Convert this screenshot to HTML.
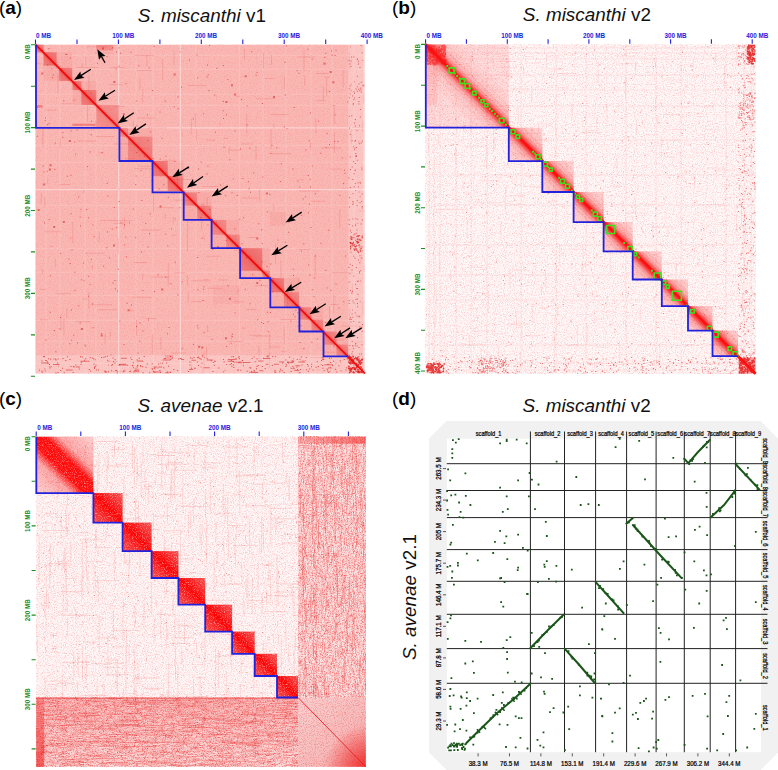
<!DOCTYPE html>
<html><head><meta charset="utf-8"><style>
html,body{margin:0;padding:0;background:#fff;width:778px;height:770px;overflow:hidden}
svg{display:block}
</style></head><body>
<svg width="778" height="770" viewBox="0 0 778 770" font-family='"Liberation Sans", sans-serif'>
<defs>
<filter id="nzA" x="0" y="0" width="1" height="1" color-interpolation-filters="sRGB">
<feTurbulence type="fractalNoise" baseFrequency="0.85" numOctaves="2" seed="3"/>
<feColorMatrix type="matrix" values="0 0 0 0 0.9  0 0 0 0 0.25  0 0 0 0 0.25  2 0 0 0 -0.9"/>
</filter>
<filter id="nzB" x="0" y="0" width="1" height="1" color-interpolation-filters="sRGB">
<feTurbulence type="fractalNoise" baseFrequency="0.9" numOctaves="2" seed="5"/>
<feColorMatrix type="matrix" values="0 0 0 0 0.95  0 0 0 0 0.25  0 0 0 0 0.25  2.2 0 0 0 -1.0"/>
</filter>
<filter id="nzV" x="0" y="0" width="1" height="1" color-interpolation-filters="sRGB">
<feTurbulence type="fractalNoise" baseFrequency="1.1 0.12" numOctaves="3" seed="8"/>
<feColorMatrix type="matrix" values="0 0 0 0 0.9  0 0 0 0 0.12  0 0 0 0 0.12  2.6 0 0 0 -1.05"/>
</filter>
<filter id="nzH" x="0" y="0" width="1" height="1" color-interpolation-filters="sRGB">
<feTurbulence type="fractalNoise" baseFrequency="0.12 1.1" numOctaves="3" seed="11"/>
<feColorMatrix type="matrix" values="0 0 0 0 0.9  0 0 0 0 0.12  0 0 0 0 0.12  2.6 0 0 0 -1.05"/>
</filter>
<filter id="wn" x="0" y="0" width="1" height="1" color-interpolation-filters="sRGB">
<feTurbulence type="fractalNoise" baseFrequency="0.9" numOctaves="2" seed="21"/>
<feColorMatrix type="matrix" values="0 0 0 0 1  0 0 0 0 0.85  0 0 0 0 0.85  3 0 0 0 -1.45"/>
<feComposite in2="SourceAlpha" operator="in"/>
</filter>
<linearGradient id="gB2" x1="1" y1="0" x2="0" y2="1"><stop offset="0" stop-color="#f43030" stop-opacity="0.1"/><stop offset="0.5" stop-color="#f43030" stop-opacity="0.38"/><stop offset="1" stop-color="#f43030" stop-opacity="0.1"/></linearGradient>
<linearGradient id="gA" x1="1" y1="0" x2="0" y2="1"><stop offset="0" stop-color="#e83030" stop-opacity="0.12"/><stop offset="0.5" stop-color="#e83030" stop-opacity="0.45"/><stop offset="1" stop-color="#e83030" stop-opacity="0.12"/></linearGradient>
<linearGradient id="gB" x1="1" y1="0" x2="0" y2="1"><stop offset="0" stop-color="#f23030" stop-opacity="0.12"/><stop offset="0.38" stop-color="#f23030" stop-opacity="0.3"/><stop offset="0.5" stop-color="#ff1010" stop-opacity="0.95"/><stop offset="0.62" stop-color="#f23030" stop-opacity="0.3"/><stop offset="1" stop-color="#f23030" stop-opacity="0.12"/></linearGradient>
<linearGradient id="gC" x1="1" y1="0" x2="0" y2="1"><stop offset="0" stop-color="#f21818" stop-opacity="0.72"/><stop offset="0.3" stop-color="#f81010" stop-opacity="0.9"/><stop offset="0.5" stop-color="#ff0000" stop-opacity="1"/><stop offset="0.7" stop-color="#f81010" stop-opacity="0.9"/><stop offset="1" stop-color="#f21818" stop-opacity="0.72"/></linearGradient>
<linearGradient id="gC1" x1="1" y1="0" x2="0" y2="1"><stop offset="0" stop-color="#f21818" stop-opacity="0.15"/><stop offset="0.3" stop-color="#f81010" stop-opacity="0.35"/><stop offset="0.42" stop-color="#ff0000" stop-opacity="0.95"/><stop offset="0.58" stop-color="#ff0000" stop-opacity="0.95"/><stop offset="0.7" stop-color="#f81010" stop-opacity="0.35"/><stop offset="1" stop-color="#f21818" stop-opacity="0.15"/></linearGradient>
<linearGradient id="gTop" x1="0" y1="0" x2="1" y2="0"><stop offset="0" stop-color="#f02020" stop-opacity="0.2"/><stop offset="1" stop-color="#f02020" stop-opacity="0.55"/></linearGradient>
<linearGradient id="gBot" x1="0" y1="0" x2="0" y2="1"><stop offset="0" stop-color="#f02020" stop-opacity="0.2"/><stop offset="1" stop-color="#f02020" stop-opacity="0.04"/></linearGradient>
<linearGradient id="gLeft" x1="0" y1="0" x2="0" y2="1"><stop offset="0" stop-color="#f01818" stop-opacity="0.25"/><stop offset="1" stop-color="#f01818" stop-opacity="0.6"/></linearGradient>
<radialGradient id="rCorner" cx="1" cy="1" r="0.6"><stop offset="0" stop-color="#f01010" stop-opacity="0.75"/><stop offset="1" stop-color="#f01010" stop-opacity="0"/></radialGradient>
<linearGradient id="gCorner" x1="0" y1="0" x2="1" y2="1"><stop offset="0" stop-color="#f9d2d2"/><stop offset="0.6" stop-color="#f6bcbc"/><stop offset="1" stop-color="#f29a9a"/></linearGradient>
<clipPath id="clipB"><rect x="425.8" y="44.4" width="83" height="83.3"/><rect x="508.8" y="127.7" width="33.5" height="33.4"/><rect x="542.3" y="161.1" width="31.3" height="30.9"/><rect x="573.6" y="192" width="30" height="30.1"/><rect x="603.6" y="222.1" width="29.1" height="29.3"/><rect x="632.7" y="251.4" width="29.1" height="28.1"/><rect x="661.8" y="279.5" width="26.2" height="26.7"/><rect x="688" y="306.2" width="24.5" height="24.4"/><rect x="712.5" y="330.6" width="25.4" height="25.5"/></clipPath></defs>
<rect x="35.5" y="44.7" width="329.5" height="328.8" fill="#fab8b4"/>
<rect x="35.5" y="44.7" width="329.5" height="328.8" filter="url(#nzA)" opacity="0.2"/>
<path fill="#fff" fill-opacity="0.42" d="M118.1 44.7h1.2v328.8h-1.2zM35.5 127.3v1.2h329.5v-1.2zM179.8 44.7h1.2v328.8h-1.2zM35.5 189v1.2h329.5v-1.2z"/>
<path fill="#fff" fill-opacity="0.16" d="M45.5 44.7h1v328.8h-1zM35.5 54.7v1h329.5v-1zM59.5 44.7h1v328.8h-1zM35.5 68.7v1h329.5v-1zM84.5 44.7h1v328.8h-1zM35.5 93.7v1h329.5v-1zM95.5 44.7h1v328.8h-1zM35.5 104.7v1h329.5v-1zM135.5 44.7h1v328.8h-1zM35.5 144.7v1h329.5v-1zM152.5 44.7h1v328.8h-1zM35.5 161.7v1h329.5v-1zM195.5 44.7h1v328.8h-1zM35.5 204.7v1h329.5v-1zM239 44.7h1v328.8h-1zM35.5 248.2v1h329.5v-1zM262.5 44.7h1v328.8h-1zM35.5 271.7v1h329.5v-1zM285.5 44.7h1v328.8h-1zM35.5 294.7v1h329.5v-1zM310.5 44.7h1v328.8h-1zM35.5 319.7v1h329.5v-1zM331.5 44.7h1v328.8h-1zM35.5 340.7v1h329.5v-1zM353.5 44.7h1v328.8h-1zM35.5 362.7v1h329.5v-1z"/>
<path fill="#fff" fill-opacity="0.4" d="M363.5 44.7h1.5v328.8h-1.5z"/>
<path fill="#d82020" fill-opacity="0.15" d="M349.6 355.4h1v4.1h-1zM63.4 318.6h1v17h-1zM255.5 145.7h1v14.5h-1zM234.8 235.2h1v6h-1zM177 173.7h1v16.7h-1zM362.3 355.9h1v13.3h-1zM181.6 132.6h1v3.7h-1zM44.5 197.1h1v9.1h-1zM160.3 337h1v13h-1zM219.6 122.1h1v3.5h-1zM142.3 89.5h1v12.7h-1zM363.6 265.8h1v6.5h-1zM329 305.9h1v17h-1zM333.3 294.8h1v18h-1zM151.7 366.3h1v7.2h-1zM88.4 291.9h1v16.6h-1zM187.1 218.6h1v12.3h-1zM339.3 208.9h1v18.8h-1zM151.8 334.1h1v20.1h-1zM186.9 230.8h1v20.5h-1zM273.3 204.2h1v7.2h-1zM142.2 274h1v6.2h-1zM333.8 132.6h1v20.3h-1zM137.2 358.5h1v15h-1zM201.1 214.4h1v15.4h-1zM228.6 146.9h1v6.9h-1zM203.7 350.9h1v14.8h-1zM60.3 313.6h1v16.8h-1zM333.7 107.4h1v17.2h-1zM54.8 258.7h1v8.2h-1zM109.9 331.7h1v5h-1zM207.1 324.6h1v7.7h-1zM104.6 333.4h1v11h-1zM271 55.1h1v9.9h-1zM92 265.2h1v4.6h-1zM349.1 53h1v16.9h-1zM42.4 128.5h1v18.5h-1zM87.1 104.9h1v16.1h-1zM162.2 58.8h1v21.8h-1zM85.2 56.6h1v9.5h-1zM237.6 288.1h1v5.1h-1zM146.3 54.8h1v11.5h-1zM287.1 287.3h1v20.1h-1zM283.7 327.4h1v16.4h-1zM190.8 118.6h1v15.6h-1zM139.4 78.2h1v11.5h-1zM322.9 86.5h1v14.1h-1zM164.6 213.5h1v5.7h-1zM350.8 129.6h1v14.5h-1zM173.4 50.6h1v13.6h-1zM81.7 63.3h1v3.6h-1zM88.4 76.1h1v15.1h-1zM202.5 367.1h1v6.4h-1zM362.2 120.9h1v11.4h-1zM117.9 238.5h1v14.9h-1zM298.4 277.3h1v7.9h-1zM174.5 217.2h1v3.1h-1zM47.2 178.7h1v5.1h-1zM273.3 123.7h1v4.9h-1zM95.2 120.6h1v7.1h-1zM206.6 196.9h1v8.9h-1zM246.3 114.3h1v20.2h-1zM351.9 283.6h1v11.2h-1zM203.5 235.2h1v4h-1zM172.8 216.8h1v6.4h-1zM66.3 307.8h1v10h-1zM206.1 346.8h1v14.6h-1zM130.6 367.1h1v6.4h-1zM41.8 269.3h1v4.9h-1zM136 320.3h1v15.8h-1zM40.7 192.7h1v10.8h-1zM195.1 113h1v14.2h-1zM59.7 137.9h1v10.1h-1zM342.7 69.8h1v17.3h-1zM98.7 232.1h1v10.4h-1zM187.7 291.7h1v10.5h-1zM75.5 84.6h1v4.5h-1zM314.7 254.8h1v21.2h-1zM263 52.8h1v15.5h-1zM290.8 281.9h1v12.5h-1zM153 194.5h1v18.2h-1zM123.8 217.2h1v12.1h-1zM349.1 308.4h1v20.7h-1zM310.1 142h1v7.4h-1zM196.1 129.7h1v11.1h-1zM258.6 345.8h1v14.1h-1zM304.2 76.2h1v9.8h-1zM363.3 92.7h1v10.9h-1zM57.5 72.9h1v20h-1zM360.3 257.1h1v5.4h-1zM132.9 120.7h1v15.7h-1zM259.2 188.6h1v13h-1zM72.3 222h1v21h-1zM283.8 76.2h1v12.8h-1zM270.5 129h1v20h-1zM186.9 275.2h1v10.7h-1zM362.4 301.3h1v13.9h-1zM83.1 189.3h1v3.6h-1zM231 333.8h1v6.4h-1zM203.1 202.8h1v10.7h-1zM268.9 351.7h1v16.4h-1zM190.7 360h1v9.3h-1zM280.4 260.6h1v17.5h-1zM315.4 118.5h1v14.8h-1zM167.8 263.3h1v21.6h-1zM244 48.5h1v11.8h-1zM269.3 334.2h1v15.4h-1zM303.6 50.3h1v20.9h-1zM275.1 243.5h1v20.2h-1zM326.1 77.6h1v18.5h-1z"/>
<path fill="#d82020" fill-opacity="0.15" d="M113.7 223.1v1h10v-1zM233.9 249.8v1h4.2v-1zM39.8 319.2v1h7.9v-1zM112.5 371.1v1h11.9v-1zM310.3 200.8v1h15.1v-1zM85 252.8v1h19.5v-1zM207.4 287.7v1h15.8v-1zM56.5 293.2v1h14.2v-1zM134.5 54.9v1h19.4v-1zM190.8 280.3v1h19.7v-1zM270.1 346.6v1h10.5v-1zM298.6 190.4v1h20.8v-1zM324.2 76.6v1h5.6v-1zM106.8 361.2v1h11.3v-1zM241.4 143.4v1h12.6v-1zM162.3 159.7v1h14.1v-1zM227.4 341.1v1h16v-1zM340.7 325.4v1h21.8v-1zM256 98.2v1h19.4v-1zM352.4 341.3v1h12.6v-1zM270 113.9v1h18.8v-1zM223.9 138.1v1h4.2v-1zM316 369.2v1h4.7v-1zM298.5 179.2v1h5.9v-1zM132 296.7v1h19.6v-1zM50 246.1v1h3.9v-1zM271.5 153.2v1h19.7v-1zM357.6 210.4v1h7.4v-1zM137.2 69.9v1h14.4v-1zM45.8 109.4v1h10.8v-1zM236 95.9v1h3.8v-1zM320.6 147.6v1h21.2v-1zM330.1 168.5v1h11.7v-1zM206.3 255.8v1h14.3v-1zM219.2 248v1h20.9v-1zM202.1 186v1h16.7v-1zM113.6 143.4v1h21.6v-1zM206.7 224.5v1h3.2v-1zM171.9 234.8v1h3.4v-1zM237.8 251.9v1h4.1v-1zM241.6 197.5v1h15.9v-1zM151.3 276.4v1h17v-1zM42.8 64.6v1h15.8v-1zM351.9 127v1h11.7v-1zM230.2 149.6v1h9.9v-1zM138.2 165.7v1h14.3v-1zM134.2 168.3v1h17.7v-1zM44.3 231.3v1h17v-1zM137.3 117.6v1h18.3v-1zM113.9 106.1v1h11.3v-1zM264.8 78.1v1h9.1v-1zM145.1 317.9v1h11.3v-1zM316.5 100.2v1h9.4v-1zM249.1 334.8v1h11.6v-1zM109.4 84.3v1h13.1v-1zM98.2 309.2v1h18.9v-1zM95.8 136v1h18.3v-1zM246.4 309v1h9.6v-1zM78.1 140.4v1h18.1v-1zM124.6 158.2v1h10.9v-1zM173.4 178.9v1h20.5v-1zM86.7 46.2v1h20.9v-1zM324.6 368.2v1h11.3v-1zM347.6 348.7v1h7.2v-1zM280.4 319v1h15.6v-1zM206 139.4v1h9.5v-1zM110.2 67v1h14.2v-1zM129.8 310.3v1h3.9v-1zM332.3 272.1v1h20.6v-1zM330 339.6v1h14v-1zM39.8 289v1h6.3v-1zM134 262v1h13v-1zM171.4 352.5v1h14.6v-1zM147.6 127.5v1h19.4v-1zM192.3 301.1v1h9.7v-1zM100.3 220v1h18.5v-1zM91.8 304.2v1h20.5v-1zM300.3 314.6v1h3.1v-1zM242 327.4v1h3.9v-1zM124.7 132.7v1h13v-1zM174.5 199.7v1h17.8v-1zM36.1 62.7v1h5.4v-1zM76.4 67.1v1h21.5v-1zM316.2 72.9v1h12.5v-1zM139.3 147.8v1h9.7v-1zM248 237v1h9.9v-1zM98.3 152.5v1h5.4v-1zM218 279.4v1h10.2v-1zM61.7 103.2v1h10.1v-1zM234.1 301.2v1h10.2v-1zM298.7 248.9v1h11.2v-1zM157.8 207.3v1h16.4v-1zM173.6 272.2v1h11.8v-1zM116 220.3v1h16.2v-1zM59 184v1h11.1v-1zM324.5 351.7v1h10.1v-1zM330.4 304v1h8v-1zM188 85.1v1h18.5v-1zM253.1 335.6v1h18.1v-1zM254.8 285.2v1h13.7v-1zM69.4 237.4v1h3.1v-1zM82.6 298.5v1h3.8v-1zM65.7 77.3v1h19.7v-1zM94.4 52.4v1h19v-1zM75.3 321.3v1h15.8v-1zM310.2 356.9v1h14v-1zM297.9 56.6v1h17.6v-1zM203.5 279.1v1h5v-1zM281.5 351v1h4.2v-1zM142 229.6v1h18.7v-1z"/>
<rect x="43.6" y="52.3" width="28.6" height="28.6" fill="#e84040" fill-opacity="0.09"/>
<rect x="72.6" y="81.2" width="23.7" height="23.7" fill="#e84040" fill-opacity="0.09"/>
<rect x="119.3" y="127.9" width="33.2" height="33.1" fill="#e84040" fill-opacity="0.09"/>
<rect x="152.5" y="161" width="31.5" height="31.4" fill="#e84040" fill-opacity="0.09"/>
<rect x="183.9" y="192.4" width="27.5" height="27.5" fill="#e84040" fill-opacity="0.09"/>
<rect x="211.5" y="219.9" width="28.3" height="28.3" fill="#e84040" fill-opacity="0.09"/>
<rect x="239.8" y="248.2" width="30" height="30" fill="#e84040" fill-opacity="0.09"/>
<rect x="269.9" y="278.2" width="29.1" height="29.1" fill="#e84040" fill-opacity="0.09"/>
<rect x="299" y="307.3" width="24.2" height="24.2" fill="#e84040" fill-opacity="0.09"/>
<rect x="323.3" y="331.5" width="24.9" height="24.9" fill="#e84040" fill-opacity="0.09"/>
<rect x="36" y="44.7" width="7.6" height="7.6" fill="#e43636" fill-opacity="0.3"/>
<rect x="36" y="44.7" width="7.6" height="7.6" fill="url(#gA)" opacity="0.8"/>
<rect x="43.6" y="52.3" width="13" height="13" fill="#e43636" fill-opacity="0.3"/>
<rect x="43.6" y="52.3" width="13" height="13" fill="url(#gA)" opacity="0.8"/>
<rect x="59.2" y="67.9" width="13" height="13" fill="#e43636" fill-opacity="0.3"/>
<rect x="59.2" y="67.9" width="13" height="13" fill="url(#gA)" opacity="0.8"/>
<rect x="72.6" y="81.2" width="8.8" height="8.8" fill="#e43636" fill-opacity="0.3"/>
<rect x="72.6" y="81.2" width="8.8" height="8.8" fill="url(#gA)" opacity="0.8"/>
<rect x="81.4" y="90" width="14.9" height="14.9" fill="#e43636" fill-opacity="0.3"/>
<rect x="81.4" y="90" width="14.9" height="14.9" fill="url(#gA)" opacity="0.8"/>
<rect x="96.3" y="104.9" width="23" height="23" fill="#e43636" fill-opacity="0.2"/>
<rect x="96.3" y="104.9" width="23" height="23" fill="url(#gA)" opacity="0.5"/>
<rect x="119.3" y="127.9" width="8.8" height="8.8" fill="#e43636" fill-opacity="0.2"/>
<rect x="119.3" y="127.9" width="8.8" height="8.8" fill="url(#gA)" opacity="0.4"/>
<rect x="128.1" y="136.7" width="24.3" height="24.3" fill="#e43636" fill-opacity="0.2"/>
<rect x="128.1" y="136.7" width="24.3" height="24.3" fill="url(#gA)" opacity="0.6"/>
<rect x="152.5" y="161" width="15.2" height="15.2" fill="#e43636" fill-opacity="0.3"/>
<rect x="152.5" y="161" width="15.2" height="15.2" fill="url(#gA)" opacity="0.8"/>
<rect x="167.7" y="176.2" width="15" height="15" fill="#e43636" fill-opacity="0.3"/>
<rect x="167.7" y="176.2" width="15" height="15" fill="url(#gA)" opacity="0.8"/>
<rect x="183.9" y="192.4" width="13.3" height="13.3" fill="#e43636" fill-opacity="0.2"/>
<rect x="183.9" y="192.4" width="13.3" height="13.3" fill="url(#gA)" opacity="0.7"/>
<rect x="197.3" y="205.7" width="14.2" height="14.2" fill="#e43636" fill-opacity="0.2"/>
<rect x="197.3" y="205.7" width="14.2" height="14.2" fill="url(#gA)" opacity="0.7"/>
<rect x="211.5" y="219.9" width="14.8" height="14.8" fill="#e43636" fill-opacity="0.2"/>
<rect x="211.5" y="219.9" width="14.8" height="14.8" fill="url(#gA)" opacity="0.5"/>
<rect x="226.3" y="234.7" width="13.5" height="13.5" fill="#e43636" fill-opacity="0.2"/>
<rect x="226.3" y="234.7" width="13.5" height="13.5" fill="url(#gA)" opacity="0.6"/>
<rect x="239.8" y="248.2" width="22.5" height="22.5" fill="#e43636" fill-opacity="0.3"/>
<rect x="239.8" y="248.2" width="22.5" height="22.5" fill="url(#gA)" opacity="0.8"/>
<rect x="262.4" y="270.7" width="7.5" height="7.5" fill="#e43636" fill-opacity="0.2"/>
<rect x="262.4" y="270.7" width="7.5" height="7.5" fill="url(#gA)" opacity="0.6"/>
<rect x="269.9" y="278.2" width="14" height="14" fill="#e43636" fill-opacity="0.3"/>
<rect x="269.9" y="278.2" width="14" height="14" fill="url(#gA)" opacity="0.8"/>
<rect x="283.9" y="292.2" width="15.1" height="15.1" fill="#e43636" fill-opacity="0.2"/>
<rect x="283.9" y="292.2" width="15.1" height="15.1" fill="url(#gA)" opacity="0.7"/>
<rect x="299" y="307.3" width="12.4" height="12.4" fill="#e43636" fill-opacity="0.2"/>
<rect x="299" y="307.3" width="12.4" height="12.4" fill="url(#gA)" opacity="0.7"/>
<rect x="311.4" y="319.7" width="11.8" height="11.8" fill="#e43636" fill-opacity="0.2"/>
<rect x="311.4" y="319.7" width="11.8" height="11.8" fill="url(#gA)" opacity="0.7"/>
<rect x="323.3" y="331.5" width="13.2" height="13.2" fill="#e43636" fill-opacity="0.2"/>
<rect x="323.3" y="331.5" width="13.2" height="13.2" fill="url(#gA)" opacity="0.7"/>
<rect x="336.5" y="344.7" width="11.7" height="11.7" fill="#e43636" fill-opacity="0.2"/>
<rect x="336.5" y="344.7" width="11.7" height="11.7" fill="url(#gA)" opacity="0.7"/>
<rect x="96.3" y="45" width="17" height="5.5" fill="#e03030" fill-opacity="0.3"/>
<rect x="72.3" y="123.8" width="23" height="2" fill="#e03030" fill-opacity="0.4"/>
<rect x="36.6" y="105" width="6" height="2.6" fill="#e03030" fill-opacity="0.4"/>
<rect x="270" y="212" width="16" height="14" fill="#e03030" fill-opacity="0.07"/>
<rect x="213" y="285" width="27" height="19" fill="#e03030" fill-opacity="0.05"/>
<rect x="165" y="355" width="8" height="4" fill="#e03030" fill-opacity="0.3"/>
<path fill="#d01515" fill-opacity="0.6" d="M79.6 322.5h1v1h-1zM286.4 128.3h1v1h-1zM198.3 192h1v1h-1zM249.5 303.2h1v1h-1zM66.3 54h1v1h-1zM310 186.6h1v1h-1zM285.9 45.4h1v1h-1zM181.8 281.2h1v1h-1zM110.6 354.6h1v1h-1zM331.6 54.7h1v1h-1zM43.9 222.2h1v1h-1zM344 169.7h1v1h-1zM106.7 183.1h1v1h-1zM45 117.4h1v1h-1zM179.3 207.2h1v1h-1zM112.1 120.4h1v1h-1zM107.4 195.4h1v1h-1zM130.7 51.7h1v1h-1zM310.6 227.1h1v1h-1zM246.5 105.6h1v1h-1zM361.6 326.6h1v1h-1zM75.2 153.8h1v1h-1zM272.5 277.8h1v1h-1zM343.1 183.1h1v1h-1zM308.2 264.4h1v1h-1zM135.2 237.3h1v1h-1zM325.4 322.1h1v1h-1zM201.5 237.8h1v1h-1zM46.8 124.3h1v1h-1zM297.4 180.5h1v1h-1zM92.3 224.6h1v1h-1zM266.4 265.8h1v1h-1zM158.6 188.6h1v1h-1zM202.5 299.9h1v1h-1zM206.6 173.6h1v1h-1zM196.4 54.4h1v1h-1zM49.8 275.3h1v1h-1zM358.5 239.1h1v1h-1zM164.8 100.5h1v1h-1zM200.5 366.6h1v1h-1zM288.6 221.6h1v1h-1zM318.1 120.8h1v1h-1zM204.3 356.9h1v1h-1zM225.3 195.2h1v1h-1zM124 224.3h1v1h-1zM349.9 46.6h1v1h-1zM292.9 313.7h1v1h-1zM326.6 287.4h1v1h-1zM301.3 214.7h1v1h-1zM219.9 184.4h1v1h-1zM53.9 329.9h1v1h-1zM222.7 110.2h1v1h-1zM201.3 203.7h1v1h-1zM152.7 158.1h1v1h-1zM212.4 249.1h1v1h-1zM236.7 194.9h1v1h-1zM44.7 120h1v1h-1zM93.7 236.3h1v1h-1zM318.3 306.4h1v1h-1zM297.3 312.3h1v1h-1zM119.4 320.6h1v1h-1zM256.6 72h1v1h-1zM41 49.5h1v1h-1zM283.7 126.5h1v1h-1zM71.5 249.5h1v1h-1zM148.6 67.5h1v1h-1zM87.9 217.6h1v1h-1zM90.7 134.2h1v1h-1zM269.3 193.8h1v1h-1zM141.3 200h1v1h-1zM43.3 171.4h1v1h-1zM173.8 106.3h1v1h-1zM71.2 339.7h1v1h-1zM203.1 113.2h1v1h-1zM234.5 312.5h1v1h-1zM42.3 50.6h1v1h-1zM83.6 280.3h1v1h-1zM88.1 275.7h1v1h-1zM258.3 223.3h1v1h-1zM108 364.5h1v1h-1zM297.6 214h1v1h-1zM108.8 257.3h1v1h-1zM165.2 233.5h1v1h-1zM141 251.5h1v1h-1zM54.8 142.6h1v1h-1zM353.5 331.7h1v1h-1zM136.1 326.1h1v1h-1zM137.5 352.6h1v1h-1zM279.9 181.1h1v1h-1zM118.4 47.5h1v1h-1zM324.2 57.1h1v1h-1zM304.7 360.1h1v1h-1zM222.8 100.9h1v1h-1zM320.6 363.9h1v1h-1zM266.8 211.5h1v1h-1zM159.7 158.4h1v1h-1zM103.1 265.7h1v1h-1zM177.7 108.3h1v1h-1zM69.8 263h1v1h-1zM132.8 208.5h1v1h-1zM142.4 330.4h1v1h-1zM331 50.6h1v1h-1zM101.5 152.1h1v1h-1zM359.7 301.3h1v1h-1zM146.9 114.5h1v1h-1zM257.1 319.3h1v1h-1zM341.7 157.4h1v1h-1zM325.4 269.9h1v1h-1zM194.7 367.7h1v1h-1zM112.6 282.5h1v1h-1zM63.3 100.3h1v1h-1zM334.8 114.5h1v1h-1zM284.9 241.4h1v1h-1zM311.8 165.4h1v1h-1zM147.3 140.2h1v1h-1zM320.4 242.7h1v1h-1zM349 335.5h1v1h-1zM80 225.4h1v1h-1zM69.8 57.5h1v1h-1zM59.5 328.6h1v1h-1zM294.4 316.3h1v1h-1zM147.5 246.4h1v1h-1zM292.4 168.6h1v1h-1zM223 118h1v1h-1zM62.4 132.1h1v1h-1zM328.1 229.7h1v1h-1zM339.4 194.8h1v1h-1zM126.6 302.7h1v1h-1zM307.4 48.8h1v1h-1zM255.7 74.8h1v1h-1zM73.3 334.8h1v1h-1zM48.6 123.3h1v1h-1zM360.1 182.7h1v1h-1zM73.5 99.6h1v1h-1zM114.8 288.6h1v1h-1zM69.3 343.2h1v1h-1zM159.8 362.8h1v1h-1zM334.2 141.1h1v1h-1zM118.7 201.1h1v1h-1zM68.4 258.4h1v1h-1zM48.5 48.1h1v1h-1zM358.3 141.6h1v1h-1zM231.5 192.2h1v1h-1zM138.4 65.3h1v1h-1zM335.5 362.6h1v1h-1zM354.1 81.2h1v1h-1zM106.2 247.2h1v1h-1zM357.4 222.7h1v1h-1zM261.6 261.6h1v1h-1zM120.6 222.2h1v1h-1zM136.5 125.5h1v1h-1zM62.2 136.7h1v1h-1zM358.5 191.5h1v1h-1zM249.7 255.6h1v1h-1zM344.5 172.7h1v1h-1zM136.3 152h1v1h-1zM139.5 322.4h1v1h-1zM329 144h1v1h-1zM145.3 223.1h1v1h-1zM225.7 240.1h1v1h-1zM116 51.4h1v1h-1zM115.6 68.4h1v1h-1zM216.6 67.9h1v1h-1zM60.2 253h1v1h-1zM131 304.4h1v1h-1zM197.5 327.5h1v1h-1zM86.1 209.1h1v1h-1zM296.7 70h1v1h-1zM347.3 101.5h1v1h-1zM290.5 367.5h1v1h-1zM305.4 149.5h1v1h-1zM70.6 213.3h1v1h-1zM337.5 140.9h1v1h-1zM329.1 91.1h1v1h-1zM334.6 55.1h1v1h-1zM139.3 340.7h1v1h-1zM299.6 342.1h1v1h-1zM311.7 289.3h1v1h-1zM262 103.1h1v1h-1zM177.6 96.5h1v1h-1zM270.3 263.6h1v1h-1zM118.5 65.8h1v1h-1zM352 309.6h1v1h-1zM215.9 222.2h1v1h-1zM315.1 193.3h1v1h-1zM165.5 155.7h1v1h-1zM120.2 52.7h1v1h-1zM247.9 181.3h1v1h-1zM222.9 65.1h1v1h-1zM152.1 90h1v1h-1zM76.6 129.6h1v1h-1zM307.8 175.1h1v1h-1zM167.3 245.5h1v1h-1zM112.2 47.2h1v1h-1zM209.2 208.9h1v1h-1zM248.6 188.4h1v1h-1zM261 284.5h1v1h-1zM113.8 207h1v1h-1zM192.8 118.5h1v1h-1zM170.9 228.4h1v1h-1zM333.4 345.5h1v1h-1zM125.9 256.6h1v1h-1zM51.3 68.2h1v1h-1zM203.6 332.3h1v1h-1zM87.9 295.8h1v1h-1zM325.6 146.9h1v1h-1zM263 323h1v1h-1zM157.6 274.6h1v1h-1zM277.4 239.6h1v1h-1zM316.8 338.6h1v1h-1zM350.9 232h1v1h-1zM93.4 126.8h1v1h-1zM107 231.4h1v1h-1zM284.4 61.8h1v1h-1zM259.4 279.8h1v1h-1zM149.8 213.5h1v1h-1zM89.6 284h1v1h-1zM48.9 366.3h1v1h-1zM300.9 250.7h1v1h-1zM123.4 343.9h1v1h-1zM350.7 90.3h1v1h-1zM290.3 320.7h1v1h-1zM252.2 274.3h1v1h-1zM181.7 347.7h1v1h-1zM354.5 170h1v1h-1zM299.2 186.6h1v1h-1zM89.6 151.4h1v1h-1zM77 342.6h1v1h-1zM350.7 83.8h1v1h-1zM232.8 178.5h1v1h-1zM74.3 141.6h1v1h-1zM117 290.4h1v1h-1zM36.8 106.9h1v1h-1zM179.6 51.6h1v1h-1zM241.6 243.2h1v1h-1zM309.9 112.4h1v1h-1zM129.1 222.5h1v1h-1zM125.3 236.7h1v1h-1zM117.9 268.8h1v1h-1zM295.4 309.8h1v1h-1zM355.3 223.5h1v1h-1zM196.7 325.2h1v1h-1zM288.1 231.7h1v1h-1zM161.4 137.8h1v1h-1zM71 309.4h1v1h-1zM74.3 289.7h1v1h-1zM214.6 361h1v1h-1zM285.5 363.8h1v1h-1zM80.4 208.7h1v1h-1zM223.6 146.7h1v1h-1zM200.7 161.7h1v1h-1zM209.1 45h1v1h-1zM180.8 192.1h1v1h-1zM135.6 175.6h1v1h-1zM292.7 268.7h1v1h-1zM197.2 257h1v1h-1zM159.5 111.5h1v1h-1zM36.8 135.7h1v1h-1zM232 333.7h1v1h-1zM308 212.2h1v1h-1zM359.7 196h1v1h-1zM309.7 178.8h1v1h-1zM280.1 368.4h1v1h-1zM135.8 100.5h1v1h-1zM239.2 218.7h1v1h-1zM153.6 45.9h1v1h-1zM163.3 184.3h1v1h-1zM168.6 327h1v1h-1zM227.5 285.2h1v1h-1zM330.5 290.1h1v1h-1zM197.4 289.2h1v1h-1zM245.9 257.4h1v1h-1zM242.3 178.1h1v1h-1zM242.2 252.4h1v1h-1zM343.3 301.2h1v1h-1zM313.5 296.3h1v1h-1zM303.3 243.2h1v1h-1zM150.3 131.4h1v1h-1zM268.1 331.2h1v1h-1zM214.3 94.5h1v1h-1zM309.1 203.5h1v1h-1zM188.9 59.6h1v1h-1zM203.1 288.8h1v1h-1zM174.3 161.1h1v1h-1zM251.3 51.2h1v1h-1zM202.1 354.8h1v1h-1zM262.3 176.5h1v1h-1zM261.8 243h1v1h-1zM104.1 112.8h1v1h-1zM326.6 132.9h1v1h-1zM60.1 317h1v1h-1zM207.4 165.4h1v1h-1zM203.5 286.2h1v1h-1zM90.9 258.8h1v1h-1zM269.9 311.9h1v1h-1zM124.1 244.5h1v1h-1zM111.7 228.6h1v1h-1zM92.1 303.6h1v1h-1zM320.2 152.8h1v1h-1zM108.5 360.6h1v1h-1zM267.6 321.3h1v1h-1zM45.5 339.5h1v1h-1zM240 148.5h1v1h-1zM177.3 294.4h1v1h-1zM293.5 106.9h1v1h-1zM241.1 99h1v1h-1zM355.1 190.1h1v1h-1zM335.5 283.4h1v1h-1zM234.7 130.6h1v1h-1zM208.5 90.1h1v1h-1zM80.9 279.3h1v1h-1zM154.1 291h1v1h-1zM114.5 280.1h1v1h-1zM271.5 144.8h1v1h-1zM70.4 174.8h1v1h-1zM197.2 77.5h1v1h-1zM96.9 62.8h1v1h-1zM231.8 336.1h1v1h-1zM106.6 56.1h1v1h-1zM266.7 311.8h1v1h-1zM352.2 245.7h1v1h-1zM148 319.4h1v1h-1zM74.3 271.7h1v1h-1zM66.8 175.7h1v1h-1zM198.1 168.6h1v1h-1zM90.9 120.7h1v1h-1zM304.9 196.3h1v1h-1zM226 114.2h1v1h-1zM270.4 152.9h1v1h-1zM230.5 342.8h1v1h-1zM362.2 59.9h1v1h-1zM297.5 325.8h1v1h-1zM140.5 170.3h1v1h-1zM226.1 345.9h1v1h-1zM166.9 333.2h1v1h-1zM284.7 94.6h1v1h-1zM335.6 49.7h1v1h-1zM83.2 262.6h1v1h-1zM54.3 169.1h1v1h-1zM78.2 196.4h1v1h-1zM311.4 341.7h1v1h-1zM47.2 64.6h1v1h-1zM311.6 58.7h1v1h-1zM125.4 83.2h1v1h-1zM65.4 53.8h1v1h-1zM244.9 288.8h1v1h-1zM261.1 321.9h1v1h-1zM253.3 172.4h1v1h-1zM242.8 362.5h1v1h-1zM246.3 124.4h1v1h-1zM55.3 351.2h1v1h-1zM229.5 159.3h1v1h-1zM234.4 228.4h1v1h-1zM207 64.6h1v1h-1zM151.5 180h1v1h-1zM101 333.2h1v1h-1zM174.8 261.8h1v1h-1zM269.9 288.3h1v1h-1zM272.4 291.3h1v1h-1zM118.1 364.8h1v1h-1zM85.1 345.8h1v1h-1zM316.2 324h1v1h-1zM52.8 74.6h1v1h-1zM302.6 198.5h1v1h-1zM157.1 367.5h1v1h-1zM48.7 218.9h1v1h-1zM181.1 86.7h1v1h-1zM165.3 276.7h1v1h-1zM325.3 52.8h1v1h-1zM207.8 74.3h1v1h-1zM298.4 72.8h1v1h-1zM46.7 170.7h1v1h-1zM276.2 147.4h1v1h-1zM78.2 305.2h1v1h-1zM300.6 325.3h1v1h-1zM135.3 184h1v1h-1zM116.1 227.3h1v1h-1zM143.9 155.7h1v1h-1zM292.9 358.2h1v1h-1zM227.4 79h1v1h-1zM249.9 191.8h1v1h-1zM360.1 280.5h1v1h-1zM309.7 274.6h1v1h-1zM211.5 338.7h1v1h-1zM308.7 140.2h1v1h-1zM87.1 166.1h1v1h-1zM206.7 76.6h1v1h-1zM149 233.2h1v1h-1zM49.8 311.8h1v1h-1zM249.4 147.5h1v1h-1zM133.5 160.3h1v1h-1zM142.4 290.1h1v1h-1zM200.1 217.2h1v1h-1zM84.4 344.4h1v1h-1zM142.5 152.1h1v1h-1zM58.1 365.8h1v1h-1zM193.1 343.9h1v1h-1zM340.2 362.6h1v1h-1zM303.4 348.1h1v1h-1zM338.5 307.4h1v1h-1zM79.7 216.4h1v1h-1zM224.6 370h1v1h-1zM293 275.1h1v1h-1zM280.8 163.2h1v1h-1zM345.1 255.6h1v1h-1zM167.7 197h1v1h-1zM357.3 219.1h1v1h-1zM90.6 93.3h1v1h-1zM261.3 229.2h1v1h-1zM333.4 105.2h1v1h-1zM170.5 283.3h1v1h-1zM52 77.2h1v1h-1zM214.8 131.8h1v1h-1zM70.6 130.5h1v1h-1zM243.2 217.2h1v1h-1zM61.3 68.6h1v1h-1zM314.9 255.6h1v1h-1zM92.5 327.2h1v1h-1zM42.7 165.4h1v1h-1zM313.9 277.5h1v1h-1z"/>
<path fill="#d01515" fill-opacity="0.5" d="M187.1 166.7h2v2h-2zM80.9 327.9h2v2h-2zM37.6 209h2v2h-2zM329.7 71.1h2v2h-2zM217 246.2h2v2h-2zM48.9 168.6h2v2h-2zM265.9 192.4h2v2h-2zM273 96.1h2v2h-2zM113.4 81h2v2h-2zM201.3 346.6h2v2h-2zM228.9 297.7h2v2h-2zM161.2 288.5h2v2h-2zM68.8 139.9h2v2h-2zM256.3 281.9h2v2h-2zM173.6 73.4h2v2h-2zM122.9 113.3h2v2h-2zM127.6 309.2h2v2h-2zM100.8 334.4h2v2h-2zM323.5 62.6h2v2h-2zM159.6 205.4h2v2h-2zM43.2 183.5h2v2h-2zM332.3 81.3h2v2h-2zM231 84.3h2v2h-2zM225 337.3h2v2h-2zM102 47.4h2v2h-2zM62.8 221.1h2v2h-2zM41.2 72.4h2v2h-2zM198.2 345.7h2v2h-2zM173.1 174.8h2v2h-2zM244.7 75.2h2v2h-2zM225.4 101.1h2v2h-2zM234.9 357.9h2v2h-2zM53.2 226.1h2v2h-2zM234.1 93.5h2v2h-2zM123.4 369.8h2v2h-2zM362.3 84.4h2v2h-2zM266.5 355.5h2v2h-2zM113 244.4h2v2h-2zM49.6 164.3h2v2h-2zM256.3 237.6h2v2h-2z"/>
<path fill="#fff" fill-opacity="0.22" d="M35.5 355.2H365V373.5H35.5zM348.3 44.7H365V355.2H348.3z"/>
<path fill="#d81010" fill-opacity="0.7" d="M112.6 357.4h1v1h-1zM164.8 358.3h1v1h-1zM57.2 362.4h1v1h-1zM335.2 369.1h1v1h-1zM285.3 359.4h1v1h-1zM210.7 360.3h1v1h-1zM91.9 357.5h1v1h-1zM105.5 371.3h1v1h-1zM306.1 369.3h1v1h-1zM296.8 358.9h1v1h-1zM136.7 366.2h1v1h-1zM274.5 370.1h1v1h-1zM322.8 357.2h1v1h-1zM233.3 367h1v1h-1zM200.7 358.7h1v1h-1zM190.1 357.2h1v1h-1zM340.6 370.2h1v1h-1zM214.3 360.7h1v1h-1zM332.2 365.3h1v1h-1zM323.6 369.9h1v1h-1zM201.5 362.7h1v1h-1zM231 362.9h1v1h-1zM88.2 360.8h1v1h-1zM300.8 356.4h1v1h-1zM50.6 366.2h1v1h-1zM127.1 364.7h1v1h-1zM189.4 361.5h1v1h-1zM361.1 359h1v1h-1zM170.3 359.1h1v1h-1zM242.1 360.3h1v1h-1zM151.7 368.2h1v1h-1zM140.2 365.1h1v1h-1zM330.8 357.4h1v1h-1zM55.6 359.5h1v1h-1zM285.3 366h1v1h-1zM113 361.3h1v1h-1zM93.5 363.4h1v1h-1zM49.5 367.4h1v1h-1zM328 371.7h1v1h-1zM275.4 371.8h1v1h-1zM41.4 360.6h1v1h-1zM350.9 368.7h1v1h-1zM169.5 371.5h1v1h-1zM238.1 369.4h1v1h-1zM131.3 358.9h1v1h-1zM180.5 358h1v1h-1zM160.1 371.9h1v1h-1zM143.7 355.9h1v1h-1zM50.1 358.5h1v1h-1zM291.4 361.8h1v1h-1zM130.3 357.3h1v1h-1zM356 362.8h1v1h-1zM103.4 356.7h1v1h-1zM53.5 358.5h1v1h-1zM256.5 358.2h1v1h-1zM48.9 363.9h1v1h-1zM116.8 372.5h1v1h-1zM75.4 364.6h1v1h-1zM288.1 362.6h1v1h-1zM358 363.7h1v1h-1zM114.5 362.6h1v1h-1zM47.5 362.8h1v1h-1zM116.7 370.6h1v1h-1zM306.8 364.1h1v1h-1zM45.8 360h1v1h-1zM114.6 359.2h1v1h-1zM111.1 370.3h1v1h-1zM81.8 356.6h1v1h-1zM338.5 365.2h1v1h-1zM358.9 362.5h1v1h-1zM329.7 366.7h1v1h-1zM293.7 368.2h1v1h-1zM196.9 357.3h1v1h-1zM104.4 370.4h1v1h-1zM329.3 371.2h1v1h-1zM145.4 366.7h1v1h-1zM296.5 366.5h1v1h-1zM301.5 364.6h1v1h-1zM249.3 367.2h1v1h-1zM123.1 371.2h1v1h-1zM347.7 356.9h1v1h-1zM352.6 371.9h1v1h-1zM253.7 356.4h1v1h-1zM329 357.8h1v1h-1zM351.7 366.9h1v1h-1zM55.2 358.5h1v1h-1zM242.9 365.3h1v1h-1zM279.2 371.3h1v1h-1zM106.9 355.8h1v1h-1zM336.7 355.9h1v1h-1zM321.7 357.6h1v1h-1zM299.9 368.9h1v1h-1zM322.1 365h1v1h-1zM322.4 359.1h1v1h-1zM254.7 361.3h1v1h-1zM326.7 368.7h1v1h-1zM189.4 364.5h1v1h-1zM44.1 356.3h1v1h-1zM229.6 363.9h1v1h-1zM317.8 365.9h1v1h-1zM80.8 361.8h1v1h-1zM286.1 364.5h1v1h-1zM38.9 369.8h1v1h-1zM305.7 357.1h1v1h-1zM212.9 362.1h1v1h-1zM292.6 360.9h1v1h-1zM111.8 363.9h1v1h-1zM351 357.3h1v1h-1zM72.9 366.1h1v1h-1zM324.6 364.3h1v1h-1zM177.2 370.1h1v1h-1zM289.1 356.8h1v1h-1zM323.3 359h1v1h-1zM134.2 369.8h1v1h-1zM173.4 369.1h1v1h-1zM90.1 370.4h1v1h-1zM93.1 358.2h1v1h-1zM196.9 361.4h1v1h-1zM212.4 370.9h1v1h-1zM267.5 355.8h1v1h-1zM137.3 364.9h1v1h-1zM194.3 367.7h1v1h-1zM193.6 357h1v1h-1zM115.6 369.9h1v1h-1zM152 368.6h1v1h-1zM357.4 366.2h1v1h-1zM256.5 365.9h1v1h-1zM137.8 371h1v1h-1zM188 371h1v1h-1zM135.3 370.3h1v1h-1zM292.4 366h1v1h-1zM179.8 358.1h1v1h-1zM287.2 361.8h1v1h-1zM251.7 357.9h1v1h-1zM62.5 358.1h1v1h-1zM299.6 358.7h1v1h-1zM330 361.9h1v1h-1zM223.6 361.6h1v1h-1zM238.2 357.3h1v1h-1zM166.9 371.4h1v1h-1zM94.2 366.7h1v1h-1zM142.2 360.7h1v1h-1zM43.1 356h1v1h-1zM345.5 369.6h1v1h-1zM297.1 369.3h1v1h-1zM346.8 358.4h1v1h-1zM226.2 364h1v1h-1zM222.9 371.5h1v1h-1zM283.7 372h1v1h-1zM73.6 366.6h1v1h-1zM256 368.2h1v1h-1zM237.2 369.7h1v1h-1zM134.4 371.3h1v1h-1zM168.1 365.8h1v1h-1zM328.3 367.5h1v1h-1zM136.6 359.6h1v1h-1zM142.1 366.2h1v1h-1zM360.8 370.8h1v1h-1zM166.2 362.4h1v1h-1zM302.4 360.5h1v1h-1zM169.9 355.9h1v1h-1zM95.5 364.8h1v1h-1zM261.9 366h1v1h-1zM154.4 371.7h1v1h-1zM239 358.3h1v1h-1zM57.6 372.1h1v1h-1zM358 371.2h1v1h-1zM232.6 360.9h1v1h-1zM65.3 360h1v1h-1zM108 371.3h1v1h-1zM326.9 368.8h1v1h-1zM84.1 359.7h1v1h-1zM133.2 371.6h1v1h-1zM88.8 369h1v1h-1zM257.7 364.9h1v1h-1zM348.7 360.1h1v1h-1zM206.7 358.3h1v1h-1zM67.1 356.2h1v1h-1zM138.8 357.7h1v1h-1zM55.5 372.4h1v1h-1zM129.9 370.7h1v1h-1zM264.7 368h1v1h-1zM249.4 371.7h1v1h-1zM322.3 367.8h1v1h-1zM218.3 367.4h1v1h-1zM271.8 365h1v1h-1zM199.6 358.3h1v1h-1zM311.2 363.8h1v1h-1zM57.6 358.5h1v1h-1zM321.1 360h1v1h-1zM163.3 367.2h1v1h-1zM316.8 361.2h1v1h-1zM161.8 362.8h1v1h-1zM44.7 370.4h1v1h-1zM41.7 371.8h1v1h-1zM85.3 358.3h1v1h-1zM312.6 369.5h1v1h-1zM111.3 365h1v1h-1zM191.1 367.8h1v1h-1zM95.9 369.6h1v1h-1zM360.8 367.6h1v1h-1zM336.3 371.4h1v1h-1zM159.4 369.9h1v1h-1zM307.7 365.6h1v1h-1zM70.5 366.1h1v1h-1zM333.2 360.8h1v1h-1zM246.7 370.8h1v1h-1zM231.4 356.3h1v1h-1zM241.8 360h1v1h-1zM315.6 366.8h1v1h-1zM135.9 370.7h1v1h-1zM239.6 361.4h1v1h-1zM307.9 370.7h1v1h-1zM327.1 370.5h1v1h-1zM250.4 367.4h1v1h-1zM232.9 364.6h1v1h-1zM357.9 361.6h1v1h-1zM62.1 367.7h1v1h-1zM198.1 364.9h1v1h-1zM230.7 359.9h1v1h-1zM101.1 356.9h1v1h-1zM290.7 371h1v1h-1zM263 357.7h1v1h-1zM355 369.6h1v1h-1zM201.8 355.7h1v1h-1zM311 366.2h1v1h-1zM238.7 356h1v1h-1zM274.8 356.3h1v1h-1zM191.6 358.1h1v1h-1zM153 370.7h1v1h-1zM279.8 369.4h1v1h-1zM132.8 362.2h1v1h-1zM233 356.3h1v1h-1zM170.1 372.1h1v1h-1zM281.7 370.2h1v1h-1zM133 367.3h1v1h-1zM293.1 367.5h1v1h-1zM178.3 358.6h1v1h-1zM41.4 370.6h1v1h-1zM339.7 360.3h1v1h-1zM282.3 362.5h1v1h-1zM240.4 369.8h1v1h-1zM140.4 366.1h1v1h-1zM119.1 364.3h1v1h-1zM45.3 360.1h1v1h-1zM129.3 371.1h1v1h-1zM78.7 368.4h1v1h-1zM63.8 372.3h1v1h-1zM89.7 357.2h1v1h-1zM104.6 371.4h1v1h-1zM253.8 370.7h1v1h-1zM198.5 357.6h1v1h-1zM146.7 363.4h1v1h-1zM358.8 358.5h1v1h-1zM115.2 369.9h1v1h-1zM72.7 372h1v1h-1zM132.3 365.2h1v1h-1zM251.2 370.9h1v1h-1zM60.2 369.9h1v1h-1zM94 367.8h1v1h-1zM44.4 368.6h1v1h-1zM94.6 359.2h1v1h-1zM46.9 361.2h1v1h-1zM142.6 372.2h1v1h-1zM233.6 361.8h1v1h-1zM358.8 358.6h1v1h-1zM105.7 371.8h1v1h-1zM346.1 367.2h1v1h-1zM355 356.7h1v1h-1zM330.5 367.5h1v1h-1zM253.6 369.9h1v1h-1zM69.5 359.1h1v1h-1zM80.5 363.7h1v1h-1zM213.8 364.8h1v1h-1zM153.8 368.2h1v1h-1zM309.2 368.4h1v1h-1zM47.9 358.3h1v1h-1zM107.1 359.7h1v1h-1zM222.9 359h1v1h-1zM239.5 361.5h1v1h-1zM154.2 367.6h1v1h-1zM343.8 358.9h1v1h-1zM149.2 372.2h1v1h-1zM104.9 356.2h1v1h-1zM97.9 369.6h1v1h-1zM274.3 371.5h1v1h-1zM197.9 356.4h1v1h-1zM135.5 367.8h1v1h-1zM163.8 358h1v1h-1zM158.2 363.5h1v1h-1zM151.7 363.2h1v1h-1zM80 356.2h1v1h-1zM291.4 368h1v1h-1zM172.1 357.6h1v1h-1zM132 365.1h1v1h-1zM327.6 363.8h1v1h-1zM353.4 364.6h1v1h-1zM94.6 366h1v1h-1zM231.4 365.8h1v1h-1zM272.1 356.1h1v1h-1z"/>
<path fill="#e01010" fill-opacity="0.8" d="M347.7 357.5h1.5v1.5h-1.5zM353 366.8h1.5v1.5h-1.5zM349.4 357.5h1.5v1.5h-1.5zM350.7 368h1.5v1.5h-1.5zM349.6 367.8h1.5v1.5h-1.5zM356.8 357.9h1.5v1.5h-1.5zM355 363h1.5v1.5h-1.5zM353.3 371.9h1.5v1.5h-1.5zM348.8 356h1.5v1.5h-1.5zM360.7 362.3h1.5v1.5h-1.5zM350.3 361.1h1.5v1.5h-1.5zM352.6 371.3h1.5v1.5h-1.5zM350.4 359.2h1.5v1.5h-1.5zM355.7 364.6h1.5v1.5h-1.5zM360.9 369.4h1.5v1.5h-1.5zM352.5 359h1.5v1.5h-1.5zM359.2 371.8h1.5v1.5h-1.5zM347.9 367.7h1.5v1.5h-1.5zM359.7 366.3h1.5v1.5h-1.5zM350.6 368.7h1.5v1.5h-1.5zM357.7 358.9h1.5v1.5h-1.5zM356.5 359.3h1.5v1.5h-1.5zM348.1 361.2h1.5v1.5h-1.5zM352.2 362.2h1.5v1.5h-1.5zM356.6 369.3h1.5v1.5h-1.5zM361 371.6h1.5v1.5h-1.5zM361.4 368.6h1.5v1.5h-1.5zM351.8 358.6h1.5v1.5h-1.5zM356.2 364.6h1.5v1.5h-1.5zM356.9 357.2h1.5v1.5h-1.5zM350.2 370.7h1.5v1.5h-1.5zM355.9 367h1.5v1.5h-1.5zM348.8 362.2h1.5v1.5h-1.5zM360.2 366.3h1.5v1.5h-1.5zM361.4 358.9h1.5v1.5h-1.5zM353.9 368.7h1.5v1.5h-1.5zM353.7 368.6h1.5v1.5h-1.5zM355.4 357.6h1.5v1.5h-1.5zM348.9 371.7h1.5v1.5h-1.5zM349.2 358.9h1.5v1.5h-1.5zM352.2 367.3h1.5v1.5h-1.5zM359.5 363.5h1.5v1.5h-1.5zM354.5 368.6h1.5v1.5h-1.5zM351.4 361.8h1.5v1.5h-1.5zM356.1 366.1h1.5v1.5h-1.5zM348 357.5h1.5v1.5h-1.5zM349.4 367.5h1.5v1.5h-1.5zM357.2 371.6h1.5v1.5h-1.5zM358.2 359.9h1.5v1.5h-1.5zM358.2 371.8h1.5v1.5h-1.5zM352.4 355.9h1.5v1.5h-1.5zM352.8 360.3h1.5v1.5h-1.5zM350 356.4h1.5v1.5h-1.5zM349.2 369.8h1.5v1.5h-1.5zM348.2 365.7h1.5v1.5h-1.5zM350.4 358.9h1.5v1.5h-1.5zM359 360.6h1.5v1.5h-1.5zM350.1 363.1h1.5v1.5h-1.5zM357.2 364.2h1.5v1.5h-1.5zM359.5 362.2h1.5v1.5h-1.5zM354.8 367.4h1.5v1.5h-1.5zM354 367.4h1.5v1.5h-1.5zM354 357.9h1.5v1.5h-1.5zM349.2 368.5h1.5v1.5h-1.5zM357.9 371.1h1.5v1.5h-1.5zM357.2 365.1h1.5v1.5h-1.5zM349.8 369.6h1.5v1.5h-1.5zM349.2 362.6h1.5v1.5h-1.5zM349.5 361.9h1.5v1.5h-1.5zM351.8 362.6h1.5v1.5h-1.5zM357.5 364.5h1.5v1.5h-1.5zM350.9 368.4h1.5v1.5h-1.5zM357.8 369.2h1.5v1.5h-1.5zM348 365.7h1.5v1.5h-1.5zM360 359.9h1.5v1.5h-1.5zM350.3 369h1.5v1.5h-1.5zM352.6 362.2h1.5v1.5h-1.5zM358.9 362h1.5v1.5h-1.5zM350.3 359.2h1.5v1.5h-1.5zM352.3 367.1h1.5v1.5h-1.5z"/>
<path fill="#d01010" fill-opacity="0.5" d="M294.5 369.9v1h4.9v-1zM120.9 357.7v1h6v-1zM189 368.9v1h4.2v-1zM287 361.7v1h6.8v-1zM273.8 363.8v1h5.2v-1zM258.2 360.6v1h5.3v-1zM298.4 361.6v1h6.8v-1zM259.4 370.2v1h4v-1zM65.9 369.5v1h6.8v-1zM180.9 359.1v1h3.2v-1zM242.8 362v1h7.7v-1zM227.7 360.7v1h5.9v-1zM153.2 371.5v1h7.5v-1zM203.5 367.2v1h6.2v-1zM298.5 372.2v1h2.2v-1zM153.5 366.6v1h3.8v-1zM227.9 359v1h7.3v-1zM207 359.4v1h6v-1zM137.5 360.6v1h4.9v-1zM80.6 360.8v1h7.2v-1zM263.5 357.9v1h6.7v-1zM41.1 362.6v1h7.4v-1zM238 362.2v1h4.3v-1zM162.6 359.6v1h8v-1zM53.1 364v1h6.5v-1zM165.4 372.2v1h3.5v-1zM355.2 370.9v1h6v-1zM325.9 364.3v1h7v-1zM295.4 365.3v1h4.8v-1zM265.9 363.8v1h2.5v-1zM279.2 361.6v1h4.9v-1zM291.5 360.2v1h2.1v-1zM75.8 366.4v1h4.2v-1zM119.2 364.4v1h7.6v-1zM118.7 363.8v1h7.3v-1zM235.4 361.7v1h4.8v-1zM191.7 359.8v1h4.3v-1zM135.3 369.6v1h3.9v-1zM250.7 372.1v1h7.5v-1zM158.3 366.6v1h3.9v-1z"/>
<path fill="#d01010" fill-opacity="0.6" d="M356.9 287.9h1v1h-1zM359.2 353.6h1v1h-1zM358.5 347h1v1h-1zM348.9 197.3h1v1h-1zM361.2 257.4h1v1h-1zM360.7 81.8h1v1h-1zM354.8 125.5h1v1h-1zM355.8 232.8h1v1h-1zM348.7 115.7h1v1h-1zM352.3 345.1h1v1h-1zM358.8 97h1v1h-1zM359.3 90.2h1v1h-1zM356.8 86.2h1v1h-1zM348.5 330.3h1v1h-1zM351.3 115.3h1v1h-1zM361.8 330.7h1v1h-1zM352.4 359.9h1v1h-1zM355.8 266.9h1v1h-1zM351.3 353.2h1v1h-1zM357.8 361.5h1v1h-1zM360.6 142.6h1v1h-1zM353.4 99.1h1v1h-1zM350.5 66.1h1v1h-1zM352.6 242.4h1v1h-1zM348.5 266.9h1v1h-1zM353.1 146.3h1v1h-1zM359.5 202.3h1v1h-1zM352.8 202.4h1v1h-1zM358 63.4h1v1h-1zM361.7 52.2h1v1h-1zM358.6 321.7h1v1h-1zM348.7 302.9h1v1h-1zM353.4 234.3h1v1h-1zM348.6 60h1v1h-1zM350.9 357.8h1v1h-1zM351.2 292.4h1v1h-1zM361.1 353.5h1v1h-1zM353.1 161h1v1h-1zM355.6 298.9h1v1h-1zM350 290h1v1h-1zM359.3 326.5h1v1h-1zM349 354.7h1v1h-1zM349.7 156.4h1v1h-1zM356.7 345.6h1v1h-1zM353.1 347.7h1v1h-1zM355.9 147.1h1v1h-1zM352.8 102.9h1v1h-1zM349.6 93.5h1v1h-1zM357.8 371.4h1v1h-1zM350.7 60.6h1v1h-1zM361.8 219.6h1v1h-1zM354 122.5h1v1h-1zM356.5 315.6h1v1h-1zM354.7 183h1v1h-1zM349.3 345h1v1h-1zM348.9 206.5h1v1h-1zM359.8 87.5h1v1h-1zM358.4 356h1v1h-1zM357 303h1v1h-1zM349.9 187.1h1v1h-1zM350.5 321.6h1v1h-1zM352.5 193.2h1v1h-1zM362 324.1h1v1h-1zM361.7 193.4h1v1h-1zM355.1 283.8h1v1h-1zM355 140.1h1v1h-1zM354 92.7h1v1h-1zM353.6 368.7h1v1h-1zM361.5 250.2h1v1h-1zM355.2 155.7h1v1h-1zM349.7 134h1v1h-1zM359.1 329h1v1h-1zM353.4 302.4h1v1h-1zM359 272.4h1v1h-1zM357.5 293.7h1v1h-1zM353.4 275.6h1v1h-1zM352.3 203.9h1v1h-1zM358.9 271.2h1v1h-1zM352.5 354.7h1v1h-1zM357.3 235h1v1h-1zM348.7 224h1v1h-1zM351.9 264.9h1v1h-1zM354.7 312.4h1v1h-1zM357.2 306.2h1v1h-1zM353.2 255.8h1v1h-1zM358.5 316.2h1v1h-1zM353.2 321h1v1h-1zM360.2 270.3h1v1h-1zM361.7 358.2h1v1h-1zM355.5 218.2h1v1h-1zM350.7 318.9h1v1h-1zM361.2 201.1h1v1h-1zM357.8 280.6h1v1h-1zM358.4 101h1v1h-1zM359 235.1h1v1h-1zM357.5 182.6h1v1h-1zM356.9 298.6h1v1h-1zM357.1 280.9h1v1h-1zM348.9 97.2h1v1h-1zM354.5 257.8h1v1h-1zM351.5 269.6h1v1h-1zM357 58.4h1v1h-1zM354.9 118.9h1v1h-1zM349.2 88.5h1v1h-1zM352.8 104.2h1v1h-1zM351.1 56.4h1v1h-1zM354.8 169.4h1v1h-1zM356.8 238.2h1v1h-1zM351.7 340.8h1v1h-1zM348.5 177.6h1v1h-1zM352.3 179.1h1v1h-1zM350.1 317.2h1v1h-1zM353.5 56.5h1v1h-1zM356.8 75.8h1v1h-1zM355.9 155.9h1v1h-1zM356.3 358.8h1v1h-1zM359.6 182.1h1v1h-1zM359.5 255.2h1v1h-1zM353.5 91.3h1v1h-1zM356.5 229.5h1v1h-1zM361.4 362h1v1h-1zM356.7 159.8h1v1h-1zM360.6 45h1v1h-1zM350 230.2h1v1h-1zM356.8 90.8h1v1h-1zM357 336.9h1v1h-1zM353.6 186.2h1v1h-1zM351.6 140.3h1v1h-1zM361.6 169.2h1v1h-1zM361.5 344.2h1v1h-1zM356.5 129.9h1v1h-1zM361.7 207.4h1v1h-1zM354.1 149.3h1v1h-1zM361.8 205.9h1v1h-1zM352.4 201h1v1h-1zM350.1 248.5h1v1h-1zM354.5 140.8h1v1h-1zM359.1 315.7h1v1h-1zM348.7 219.3h1v1h-1zM352.2 351.3h1v1h-1zM359.1 125.2h1v1h-1zM352.1 95.4h1v1h-1zM361.8 140.8h1v1h-1zM356.7 200.3h1v1h-1zM357.2 242.6h1v1h-1zM358.5 83.4h1v1h-1zM358.8 143.3h1v1h-1zM355.7 154.9h1v1h-1zM352.5 218.4h1v1h-1zM354.8 163h1v1h-1zM358.6 238.4h1v1h-1zM349 127.4h1v1h-1zM354.7 345.2h1v1h-1zM360.5 223.5h1v1h-1zM348.7 299.9h1v1h-1zM354.3 233.4h1v1h-1zM358.1 251.9h1v1h-1zM355 343.6h1v1h-1zM353.7 173.2h1v1h-1zM360 109.1h1v1h-1zM352.5 316.8h1v1h-1zM349.4 318.8h1v1h-1zM357.9 186.6h1v1h-1zM352.4 300.6h1v1h-1zM360.8 91.5h1v1h-1zM355 224.7h1v1h-1zM355.2 153.1h1v1h-1zM350.6 236.7h1v1h-1zM359.5 67.1h1v1h-1zM351.6 313.4h1v1h-1zM359.2 262.2h1v1h-1zM348.8 281.6h1v1h-1zM361.7 372h1v1h-1zM358 60.7h1v1h-1zM359.9 116.6h1v1h-1zM357.2 356.8h1v1h-1zM358.1 88.8h1v1h-1zM352.4 345.6h1v1h-1zM350.5 244.9h1v1h-1zM354.1 97.5h1v1h-1zM356.9 59h1v1h-1zM350 169h1v1h-1zM349.5 63.6h1v1h-1zM356.3 288h1v1h-1zM360.4 88.7h1v1h-1zM354.3 147.8h1v1h-1zM356.6 205.2h1v1h-1zM361.2 167.4h1v1h-1zM349.3 273.3h1v1h-1zM350.5 251.7h1v1h-1zM355.3 343.1h1v1h-1zM356 248.2h1v1h-1zM352.1 225.5h1v1h-1zM351.9 290.7h1v1h-1zM355.5 88.6h1v1h-1zM351.7 166.4h1v1h-1zM358.4 103.5h1v1h-1zM358.1 259.4h1v1h-1zM349.7 263.7h1v1h-1zM349.7 85.6h1v1h-1z"/>
<path fill="#d01010" fill-opacity="0.8" d="M353.5 237.3h1v1h-1zM357.6 235.9h1v1h-1zM356.2 240.9h1v1h-1zM350.2 243.3h1v1h-1zM350 242.1h1v1h-1zM350.4 236.2h1v1h-1zM354.8 248.8h1v1h-1zM351 238.5h1v1h-1zM357.3 250.8h1v1h-1zM356.7 241.4h1v1h-1zM361.7 235.5h1v1h-1zM360.2 239.6h1v1h-1zM351.3 236.7h1v1h-1zM353.4 248.6h1v1h-1zM351.8 244.6h1v1h-1zM357.5 241h1v1h-1zM356.3 235.8h1v1h-1zM350.2 238.2h1v1h-1zM358 242h1v1h-1zM353.4 244.7h1v1h-1zM355.2 239.8h1v1h-1zM359.4 246.6h1v1h-1zM352.6 244.5h1v1h-1zM356.1 249.6h1v1h-1zM358.6 239.6h1v1h-1zM361.8 236.7h1v1h-1zM354.7 247.6h1v1h-1zM351.4 243h1v1h-1zM350 246.1h1v1h-1zM359.1 244.4h1v1h-1zM360.4 240h1v1h-1zM358.2 244.8h1v1h-1zM356.7 242.5h1v1h-1zM360 250.8h1v1h-1zM355.4 246h1v1h-1zM350.3 246.6h1v1h-1zM357.6 251.6h1v1h-1zM359.8 239.5h1v1h-1zM354.3 246.1h1v1h-1zM349.8 242.5h1v1h-1zM351.6 236.7h1v1h-1zM350.2 247.8h1v1h-1zM351.1 238.9h1v1h-1zM354.4 249.5h1v1h-1zM350.5 242.3h1v1h-1zM356.4 249.7h1v1h-1zM359.7 249.4h1v1h-1zM353 241.8h1v1h-1zM354 249.7h1v1h-1zM361.5 237.3h1v1h-1zM351.7 238.6h1v1h-1zM352.4 242.9h1v1h-1zM356.9 239.2h1v1h-1zM349.6 241.8h1v1h-1zM354.1 244.3h1v1h-1zM361.4 246.4h1v1h-1zM355.9 245.2h1v1h-1zM358 235.6h1v1h-1zM360.7 248h1v1h-1zM360.4 248.3h1v1h-1z"/>
<line x1="35.5" y1="44.7" x2="365.0" y2="373.5" stroke="#f01818" stroke-opacity="0.15" stroke-width="4.5"/>
<line x1="35.5" y1="44.7" x2="365.0" y2="373.5" stroke="#f00808" stroke-width="1.7"/>
<polyline points="36,44.7 36,127.9 119.4,127.9 119.4,161 152.5,161 152.5,192.4 183.7,192.4 183.7,219.9 211.6,219.9 211.6,248.2 240.1,248.2 240.1,278.2 270.3,278.2 270.3,307.3 299.4,307.3 299.4,331.5 323.5,331.5 323.5,356.4 348.3,356.4" fill="none" stroke="#2222dd" stroke-width="1.8"/>
<path d="M35.5 39.5v4.6M77 39.5v4.6M118.4 39.5v4.6M159.9 39.5v4.6M201.3 39.5v4.6M242.8 39.5v4.6M284.2 39.5v4.6M325.7 39.5v4.6M367.1 39.5v4.6" stroke="#2222dd" stroke-width="1.1"/>
<path d="M30.9 44.7h4.1M30.9 86.2h4.1M30.9 127.6h4.1M30.9 169.1h4.1M30.9 210.5h4.1M30.9 251.9h4.1M30.9 293.4h4.1M30.9 334.9h4.1M30.9 376.3h4.1" stroke="#1e8c1e" stroke-width="1.1"/>
<text x="51.1" y="38" font-size="6.3" font-weight="bold" fill="#2222dd" text-anchor="end">0 MB</text>
<text x="134.2" y="38" font-size="6.3" font-weight="bold" fill="#2222dd" text-anchor="end">100 MB</text>
<text x="217.1" y="38" font-size="6.3" font-weight="bold" fill="#2222dd" text-anchor="end">200 MB</text>
<text x="300" y="38" font-size="6.3" font-weight="bold" fill="#2222dd" text-anchor="end">300 MB</text>
<text x="382.9" y="38" font-size="6.3" font-weight="bold" fill="#2222dd" text-anchor="end">400 MB</text>
<text x="29.6" y="44.2" font-size="6.3" font-weight="bold" fill="#1e8c1e" text-anchor="end" transform="rotate(-90 29.6 44.2)">0 MB</text>
<text x="29.6" y="111.4" font-size="6.3" font-weight="bold" fill="#1e8c1e" text-anchor="end" transform="rotate(-90 29.6 111.4)">100 MB</text>
<text x="29.6" y="194.6" font-size="6.3" font-weight="bold" fill="#1e8c1e" text-anchor="end" transform="rotate(-90 29.6 194.6)">200 MB</text>
<text x="29.6" y="277.2" font-size="6.3" font-weight="bold" fill="#1e8c1e" text-anchor="end" transform="rotate(-90 29.6 277.2)">300 MB</text>
<path d="M101.4 56.4L105 62.7M80.9 75.6L90.8 69.2M105.3 96.3L115 90.3M124.5 118.9L133.8 112.8M136.1 130.4L145.9 123.9M179.3 172.9L188.9 166.9M193.6 183L203 176.5M218.5 192.1L227.7 186.1M292.5 218.1L301.7 212.1M278.3 250.9L287.4 245.3M291.8 287.9L301.2 282.2M316.4 309.8L325.8 303.8M331.5 322.1L340.9 316.2M341 333.8L350 327.9M352.2 333.9L361.7 327.9" stroke="#000" stroke-width="1.3"/><path d="M97.3 49.3L99 59.8L101.4 56.4L105.5 56.1zM74 80L84.4 77.7L80.9 75.6L80.4 71.4zM98.4 100.7L108.9 98.6L105.3 96.3L104.9 92.2zM117.6 123.4L128 121.1L124.5 118.9L123.9 114.8zM129.3 134.9L139.7 132.5L136.1 130.4L135.6 126.3zM172.4 177.3L182.9 175.1L179.3 172.9L178.9 168.8zM186.9 187.7L197.3 185.1L193.6 183L193 178.9zM211.6 196.5L222 194.2L218.5 192.1L218 187.9zM285.6 222.5L296 220.2L292.5 218.1L292 213.9zM271.3 255.2L281.8 253.2L278.3 250.9L277.9 246.8zM284.8 292.1L295.3 290.1L291.8 287.9L291.4 283.7zM309.5 314.2L319.9 312L316.4 309.8L315.9 305.7zM324.5 326.4L335 324.3L331.5 322.1L331 317.9zM334.2 338.3L344.6 335.9L341 333.8L340.5 329.7zM345.3 338.3L355.8 336.1L352.2 333.9L351.7 329.8z" fill="#000"/>
<rect x="425.6" y="44.4" width="330.0" height="329.4" fill="#fff8f8"/>
<rect x="425.6" y="44.4" width="330.0" height="329.4" filter="url(#nzB)" opacity="0.3"/>
<path fill="#f03030" fill-opacity="0.08" d="M428.6 44.4h1v329.4h-1zM425.6 47.4v1h330v-1zM433.6 44.4h1v329.4h-1zM425.6 52.4v1h330v-1zM439.6 44.4h1v329.4h-1zM425.6 58.4v1h330v-1zM455.6 44.4h1v329.4h-1zM425.6 74.4v1h330v-1zM470.6 44.4h1v329.4h-1zM425.6 89.4v1h330v-1zM486.6 44.4h1v329.4h-1zM425.6 105.4v1h330v-1zM520.6 44.4h1v329.4h-1zM425.6 139.4v1h330v-1zM555.6 44.4h1v329.4h-1zM425.6 174.4v1h330v-1zM585.6 44.4h1v329.4h-1zM425.6 204.4v1h330v-1zM625.6 44.4h1v329.4h-1zM425.6 244.4v1h330v-1zM655.6 44.4h1v329.4h-1zM425.6 274.4v1h330v-1zM680.6 44.4h1v329.4h-1zM425.6 299.4v1h330v-1zM725.6 44.4h1v329.4h-1zM425.6 344.4v1h330v-1zM743.6 44.4h1v329.4h-1zM425.6 362.4v1h330v-1zM750.6 44.4h1v329.4h-1zM425.6 369.4v1h330v-1z"/>
<path fill="#e83030" fill-opacity="0.1" d="M581.7 260.3h1v17.7h-1zM472.5 48h1v11.2h-1zM515.8 310.5h1v18.2h-1zM623.5 227.7h1v17.5h-1zM473.4 188.9h1v6.6h-1zM723.7 63.7h1v21h-1zM450.1 270h1v10.4h-1zM558.7 321h1v3.4h-1zM445.6 344.9h1v14.2h-1zM455.5 368.6h1v5.2h-1zM462.6 183.4h1v6h-1zM528.4 248.5h1v6.6h-1zM654.9 61.3h1v6.8h-1zM694 175.9h1v12.2h-1zM621.7 201h1v11.5h-1zM435.6 282.9h1v24.3h-1zM746.8 262.3h1v10.8h-1zM545.1 271h1v17.8h-1zM463.1 121.6h1v11h-1zM593.8 310.4h1v14h-1zM434.9 314.5h1v12.5h-1zM596.4 117.4h1v12.4h-1zM553.3 297.9h1v5.3h-1zM606.5 102.9h1v18.3h-1zM437.7 135.2h1v10.6h-1zM635.1 61.5h1v13.1h-1zM494.3 137h1v13.5h-1zM741 202.4h1v24h-1zM480.7 347.9h1v11h-1zM487.9 290.2h1v23.1h-1zM427.8 132.5h1v20h-1zM538 123.7h1v3.2h-1zM438.8 247.7h1v24.6h-1zM754.1 209.8h1v3.5h-1zM531.7 303h1v21.3h-1zM636 119.8h1v14.6h-1zM582.7 250.3h1v8.8h-1zM737.1 338.1h1v6.6h-1zM521.4 331.1h1v9.1h-1zM736.1 213.6h1v18.3h-1zM657.4 114.7h1v9.3h-1zM509.5 268.8h1v18.3h-1zM468.9 335.5h1v12.2h-1zM505 187.3h1v24.5h-1zM609.8 249.6h1v23.2h-1zM742.1 294.1h1v12.2h-1zM619.2 340.3h1v20.4h-1zM616.5 158.5h1v11.1h-1zM667.7 229.4h1v3.4h-1zM659.2 341.2h1v20.6h-1zM720.9 343.4h1v14.8h-1zM685.2 169h1v5.2h-1zM541.8 146.9h1v23.5h-1zM652.3 222.3h1v16.7h-1zM466.6 219.8h1v18.4h-1zM555.3 125.1h1v12h-1zM532.1 269.4h1v6.1h-1zM455.4 147h1v18.3h-1zM675.5 260.9h1v23.6h-1zM545.9 54.2h1v13.7h-1zM571.6 103.3h1v17.7h-1zM537.9 122.7h1v10.2h-1zM736.1 46.9h1v10.9h-1zM517.6 110.5h1v12.5h-1zM498.1 346.2h1v14h-1zM655.3 97.7h1v13.2h-1zM625.1 321.2h1v8.5h-1zM576.8 325.1h1v21.3h-1zM500.4 221.1h1v19.7h-1zM555.7 265.5h1v17.6h-1zM745.5 226.3h1v18h-1zM540.8 284.9h1v10.1h-1zM590.1 162.9h1v9.8h-1zM470.3 118.5h1v15h-1zM508.5 59.5h1v20.7h-1zM519.6 351.8h1v16.2h-1zM553.6 331.1h1v22.7h-1zM531.2 85.7h1v17.1h-1zM702.8 244.2h1v20.3h-1zM561.3 247.3h1v8.8h-1zM559.5 169.1h1v11.5h-1zM557.1 309.5h1v6.7h-1zM493.1 128h1v24.4h-1zM597.6 61.8h1v21.4h-1zM713 314.1h1v10.9h-1zM667.3 144.7h1v6h-1zM710.3 318h1v7.6h-1zM715.1 52.5h1v9.8h-1zM429.9 100.6h1v6.6h-1zM661.1 141.8h1v7.2h-1zM486.2 146.8h1v22h-1zM625.3 78h1v18.1h-1zM602 191.7h1v14.6h-1zM639.9 307.4h1v14.1h-1zM634.7 197.9h1v16.9h-1zM553.4 180.6h1v14.4h-1zM660.8 135.9h1v23.3h-1zM587.3 325.3h1v18.2h-1zM740.2 268.5h1v12.4h-1zM559.1 244h1v19.6h-1z"/>
<path fill="#e83030" fill-opacity="0.1" d="M510.8 269.4v1h18v-1zM705 105.4v1h8.1v-1zM474 118.3v1h19.1v-1zM468.4 218.9v1h7.7v-1zM522.5 186.1v1h21.4v-1zM625.8 49.1v1h9.1v-1zM473.9 330.5v1h20.8v-1zM690.8 315.8v1h19.4v-1zM737.9 305.1v1h8.6v-1zM705.2 204.3v1h19.6v-1zM611.2 185.5v1h11v-1zM567 147.4v1h5.6v-1zM695.3 306.5v1h24.7v-1zM652.9 226.4v1h19.5v-1zM470 266.7v1h12.8v-1zM483.7 110.9v1h14.5v-1zM508.9 195.3v1h16.3v-1zM555.8 87.3v1h13.8v-1zM503.1 121.8v1h7.3v-1zM546.2 68.5v1h17.3v-1zM739.4 172.4v1h16.2v-1zM732.5 58.6v1h6.1v-1zM690.8 319.6v1h17.1v-1zM478.2 180.2v1h22.1v-1zM717.2 308.2v1h7.5v-1zM706.5 167.5v1h18.8v-1zM470.7 363.4v1h16.3v-1zM663.4 113.9v1h16.6v-1zM616.7 238.6v1h10.9v-1zM665 156.5v1h9.5v-1zM479.7 269v1h5.5v-1zM499.8 67.1v1h17.2v-1zM608.6 222.8v1h3.9v-1zM570.2 157.1v1h5v-1zM426.6 372.1v1h5.7v-1zM524.8 132.7v1h16.1v-1zM451.1 198.7v1h11.1v-1zM700.2 46.3v1h10.4v-1zM589 362.9v1h14.4v-1zM581.6 264.3v1h9.5v-1zM436 209.1v1h23v-1zM668.5 129.2v1h18v-1zM705 129.3v1h15.9v-1zM542.6 124.6v1h9.3v-1zM492.7 159.6v1h3.8v-1zM556.4 72.9v1h19.7v-1zM622.9 45.7v1h20v-1zM488.3 202.3v1h15.2v-1zM535.1 139.5v1h12.6v-1zM470.7 328v1h5.5v-1zM696.5 116.1v1h9.7v-1zM553.4 55.4v1h5.8v-1zM544.4 189.5v1h22.3v-1zM751.3 58.7v1h4.3v-1zM468.2 308.3v1h10.1v-1zM719.4 223.5v1h5.8v-1zM427.2 125.9v1h22.1v-1zM474.9 201.7v1h11.2v-1zM539.1 307.7v1h7.7v-1zM661.9 263.3v1h23.6v-1zM596.6 346.7v1h12.7v-1zM614.2 248.2v1h21.5v-1zM720.9 82.3v1h6v-1zM601.2 311.2v1h14.7v-1zM524.1 360.3v1h9.6v-1zM454.2 61.5v1h3.7v-1zM664.8 79.6v1h18.8v-1zM710.6 372.7v1h20.8v-1zM565.2 248.7v1h21.3v-1zM661.2 139.8v1h19.8v-1zM461.6 145.7v1h24.9v-1zM580.6 132.3v1h20.3v-1zM573.7 45.6v1h3.6v-1zM510.8 153.4v1h23.6v-1zM507 323.6v1h21.8v-1zM562.5 370.6v1h19.8v-1zM584.9 130.3v1h13.1v-1zM722.4 220.6v1h7.3v-1zM549.2 200.8v1h7.2v-1zM614.1 55.6v1h21.1v-1zM484.4 78.2v1h16v-1zM526.7 335.1v1h13.9v-1zM597.1 318.5v1h7.7v-1zM670.8 257.5v1h12.4v-1zM741.2 51.6v1h14.4v-1zM472.8 320.2v1h6.4v-1zM443.2 208.8v1h23.4v-1zM510.3 204.2v1h16.4v-1zM505.8 218.6v1h3.2v-1zM573.4 293.9v1h10.5v-1zM498.1 61.1v1h18.4v-1zM566.1 344.6v1h19.3v-1zM458.6 344.6v1h23.5v-1zM694.4 317.4v1h18v-1zM662.8 263.5v1h16v-1zM510.2 88.3v1h19v-1zM621.9 62.9v1h17.1v-1zM626.3 212.4v1h20.1v-1zM713.9 169.6v1h20.9v-1zM589.9 232.2v1h12.1v-1z"/>
<path fill="#e02020" fill-opacity="0.45" d="M574.4 228.2h1v1h-1zM729.7 197.3h1v1h-1zM592.7 237.3h1v1h-1zM486.4 212.5h1v1h-1zM632.8 304.8h1v1h-1zM456.6 144h1v1h-1zM455.4 310.3h1v1h-1zM653.7 58.2h1v1h-1zM748.7 361.2h1v1h-1zM640.7 246.6h1v1h-1zM477.4 49.3h1v1h-1zM599.4 64h1v1h-1zM488.2 123.9h1v1h-1zM435.5 196.8h1v1h-1zM570.5 321.1h1v1h-1zM596.4 254.7h1v1h-1zM590 261.9h1v1h-1zM576.1 135.7h1v1h-1zM753.8 371.4h1v1h-1zM702 276.8h1v1h-1zM529.3 119.8h1v1h-1zM520.7 67.5h1v1h-1zM677.7 175.9h1v1h-1zM704.1 171.3h1v1h-1zM740.8 322.7h1v1h-1zM425.8 113.3h1v1h-1zM725.1 198.7h1v1h-1zM748.1 174.9h1v1h-1zM449.6 251.1h1v1h-1zM681.7 133h1v1h-1zM454.3 153.6h1v1h-1zM742.8 293.3h1v1h-1zM464.4 125.3h1v1h-1zM458.8 64.1h1v1h-1zM687.8 102.7h1v1h-1zM609.6 191.3h1v1h-1zM488.3 284.8h1v1h-1zM468.7 255.8h1v1h-1zM463.9 182.6h1v1h-1zM495.6 133h1v1h-1zM745 308.2h1v1h-1zM525.7 335h1v1h-1zM494.9 173.9h1v1h-1zM706.7 255.2h1v1h-1zM458.6 369.3h1v1h-1zM495.8 129.2h1v1h-1zM679.8 152.4h1v1h-1zM523.1 68.5h1v1h-1zM455.2 235.8h1v1h-1zM505.6 241.9h1v1h-1zM547.9 193.2h1v1h-1zM741.2 203.3h1v1h-1zM614.6 329h1v1h-1zM485.8 95h1v1h-1zM724.5 313h1v1h-1zM507.7 106.7h1v1h-1zM668.9 353.2h1v1h-1zM490.3 356.4h1v1h-1zM715.8 242.6h1v1h-1zM564.3 78.5h1v1h-1zM438.3 360.5h1v1h-1zM504 275.8h1v1h-1zM510.1 314.9h1v1h-1zM621.8 140.8h1v1h-1zM483.3 281h1v1h-1zM448.2 119.4h1v1h-1zM609.6 324.3h1v1h-1zM627.7 136.4h1v1h-1zM727.4 111.4h1v1h-1zM431.1 132.8h1v1h-1zM572.2 64.3h1v1h-1zM483.6 165.5h1v1h-1zM613.8 87.6h1v1h-1zM544.7 337h1v1h-1zM748.2 260.1h1v1h-1zM653 236.3h1v1h-1zM471.8 55.9h1v1h-1zM431.5 343.3h1v1h-1zM656.2 360.6h1v1h-1zM432.6 253.3h1v1h-1zM584.3 284.3h1v1h-1zM530.5 372.6h1v1h-1zM450.4 223.7h1v1h-1zM668.1 340h1v1h-1zM668.1 275.5h1v1h-1zM686.6 344.9h1v1h-1zM541.4 269.4h1v1h-1zM722 330.5h1v1h-1zM562.8 304h1v1h-1zM709.7 232.5h1v1h-1zM631.2 170h1v1h-1zM617.3 244.4h1v1h-1zM452 254.4h1v1h-1zM752.4 333.3h1v1h-1zM665.2 172h1v1h-1zM667.4 235.2h1v1h-1zM570.5 319.7h1v1h-1zM453.2 290.8h1v1h-1zM435.4 241.9h1v1h-1zM583.8 120h1v1h-1zM655.4 207.7h1v1h-1zM627.8 346.7h1v1h-1zM509.8 48.1h1v1h-1zM524.6 267.1h1v1h-1zM492.2 100.1h1v1h-1zM723.6 261.1h1v1h-1zM571 337.2h1v1h-1zM533.2 263.1h1v1h-1zM490.9 185.9h1v1h-1zM690.8 344.6h1v1h-1zM715.2 170.6h1v1h-1zM617.4 148.3h1v1h-1zM470.4 207.4h1v1h-1zM701 323.1h1v1h-1zM659.6 356.4h1v1h-1zM516.7 99.9h1v1h-1zM573.9 134.8h1v1h-1zM496 180.4h1v1h-1zM631.5 206.6h1v1h-1zM529.4 320h1v1h-1zM748.7 193h1v1h-1zM450.2 54.7h1v1h-1zM712.8 58h1v1h-1zM658.7 231.8h1v1h-1zM527.3 304.3h1v1h-1zM431.9 89h1v1h-1zM575.2 52.5h1v1h-1zM698.6 122.4h1v1h-1zM471.9 59.8h1v1h-1zM632.6 191h1v1h-1zM632.9 259.5h1v1h-1zM691.2 359.2h1v1h-1zM650.8 109.9h1v1h-1zM581.9 103.1h1v1h-1zM429.1 199.5h1v1h-1zM660.6 103.2h1v1h-1zM515.2 157.9h1v1h-1zM655 215.3h1v1h-1zM627.8 292.7h1v1h-1zM555.1 304.5h1v1h-1zM723.8 73h1v1h-1zM732.4 281.6h1v1h-1zM468.3 193.3h1v1h-1zM631.4 343.2h1v1h-1zM549.6 231.2h1v1h-1zM714.9 306.1h1v1h-1zM736.3 196.7h1v1h-1zM639.9 111.7h1v1h-1zM663.1 313.1h1v1h-1zM636.7 280.1h1v1h-1zM495.8 340h1v1h-1zM748.2 365.4h1v1h-1zM602.3 304.1h1v1h-1zM531 343.2h1v1h-1zM707.2 158.8h1v1h-1zM452.8 189.2h1v1h-1zM606.6 296.7h1v1h-1zM586 53.7h1v1h-1zM691.8 65.4h1v1h-1zM688.8 101.2h1v1h-1zM535.8 303.1h1v1h-1zM471.8 93.2h1v1h-1zM595.5 282h1v1h-1zM702 270.8h1v1h-1zM736.8 206.2h1v1h-1zM737.9 72.7h1v1h-1zM498.4 217.4h1v1h-1zM521.1 283.8h1v1h-1zM635.8 216.1h1v1h-1zM703.2 228.3h1v1h-1zM528.1 169.6h1v1h-1zM703.7 340.1h1v1h-1zM494.1 323.8h1v1h-1zM744.2 216.6h1v1h-1zM614.1 110.4h1v1h-1zM601.9 209.6h1v1h-1zM624.7 53.5h1v1h-1zM744.5 213.9h1v1h-1zM557.4 307.5h1v1h-1zM610.8 205.7h1v1h-1zM652.9 66h1v1h-1zM602.8 180.3h1v1h-1zM740.4 347.7h1v1h-1zM514.2 199.8h1v1h-1zM467.4 186.8h1v1h-1zM694 340.1h1v1h-1zM582.4 148.6h1v1h-1zM488.6 247.3h1v1h-1zM730 86.9h1v1h-1zM682 51.9h1v1h-1zM489.5 119h1v1h-1zM651.6 150.2h1v1h-1zM542.5 247.9h1v1h-1zM460.1 284.4h1v1h-1zM466 212h1v1h-1zM508 109.3h1v1h-1zM600.1 187.8h1v1h-1zM549.2 180.2h1v1h-1zM599.8 96.9h1v1h-1zM492.8 251.7h1v1h-1zM635.7 218.3h1v1h-1zM705.7 245.3h1v1h-1zM707.5 120.8h1v1h-1zM669.3 310.6h1v1h-1zM722.6 148.1h1v1h-1zM529.2 347.4h1v1h-1zM497.4 372.3h1v1h-1zM717.6 88.4h1v1h-1zM504.3 283h1v1h-1zM511 76.3h1v1h-1zM699.4 182.9h1v1h-1zM685.5 85.8h1v1h-1zM558.1 269.4h1v1h-1zM431.4 110.4h1v1h-1zM650.1 343.7h1v1h-1zM744.2 82.3h1v1h-1zM592 293.4h1v1h-1zM591 269.6h1v1h-1zM487.8 67.6h1v1h-1zM460.5 56.7h1v1h-1zM607.1 213.5h1v1h-1zM612.7 92.5h1v1h-1zM486.3 111.4h1v1h-1zM702 369.6h1v1h-1zM730.5 75.7h1v1h-1zM446 356.9h1v1h-1zM577.6 295.5h1v1h-1zM533.1 197.7h1v1h-1zM595.1 185.6h1v1h-1zM623.3 48.7h1v1h-1zM656.2 321.7h1v1h-1zM485.2 193.5h1v1h-1zM668.8 177.5h1v1h-1zM489.8 98.6h1v1h-1zM594.2 49.5h1v1h-1zM719.5 307.7h1v1h-1zM657.4 327.1h1v1h-1zM632.7 177.2h1v1h-1zM622.9 210h1v1h-1zM748.9 308.7h1v1h-1zM510.6 343.7h1v1h-1zM670.5 299.9h1v1h-1zM693.6 177.6h1v1h-1zM720.6 333.3h1v1h-1zM654.2 296.4h1v1h-1zM677.4 177.6h1v1h-1zM663.3 67.6h1v1h-1zM538 198.4h1v1h-1zM429.1 161.2h1v1h-1zM635.7 249.3h1v1h-1zM502 354.6h1v1h-1zM644.7 155.3h1v1h-1zM642.7 231.4h1v1h-1zM601 172.3h1v1h-1zM754.6 255.3h1v1h-1zM656.3 294.6h1v1h-1zM748 51.9h1v1h-1zM628.1 287h1v1h-1zM510 176.3h1v1h-1zM442.2 108.6h1v1h-1zM549.2 76.7h1v1h-1zM508.1 341.8h1v1h-1zM606.6 211.2h1v1h-1zM743.8 230.9h1v1h-1zM753 253.9h1v1h-1zM691.9 69.4h1v1h-1zM622.2 293.7h1v1h-1zM440.4 349.9h1v1h-1zM478.2 199.3h1v1h-1zM481.2 207.1h1v1h-1zM626.7 63.6h1v1h-1zM736.6 182.6h1v1h-1zM598.9 240.7h1v1h-1zM545.9 138.2h1v1h-1zM641.1 228.5h1v1h-1zM518.9 279.7h1v1h-1zM523 49h1v1h-1zM506.2 58.4h1v1h-1zM477.1 292.2h1v1h-1zM553.9 339.2h1v1h-1zM671.8 60.9h1v1h-1zM750.9 354.6h1v1h-1zM449.8 341.8h1v1h-1zM566.9 201.2h1v1h-1zM745.8 124.4h1v1h-1zM597.8 352.2h1v1h-1zM663.4 198.2h1v1h-1zM747.6 312.6h1v1h-1zM624.2 82.2h1v1h-1zM631 194h1v1h-1zM492.6 61.5h1v1h-1zM599.3 85.2h1v1h-1zM571.3 263.7h1v1h-1zM575.5 130.5h1v1h-1zM617.2 182.2h1v1h-1zM681.6 218.7h1v1h-1zM753.8 357.2h1v1h-1zM667.2 122.7h1v1h-1zM463.1 337.6h1v1h-1zM683.6 249.6h1v1h-1zM543.8 133.6h1v1h-1zM651 229.9h1v1h-1zM620.3 252.3h1v1h-1zM673.5 106.7h1v1h-1zM507.5 366.1h1v1h-1zM726.9 333h1v1h-1zM438.6 64.4h1v1h-1zM514.7 184h1v1h-1zM630.7 78.1h1v1h-1zM603.8 68.2h1v1h-1zM454 266.5h1v1h-1zM606.8 251.7h1v1h-1zM548.4 201.6h1v1h-1zM494.9 157.3h1v1h-1zM670.6 319.8h1v1h-1zM450.1 83.7h1v1h-1zM691.8 249.2h1v1h-1zM678.5 114.4h1v1h-1zM565.2 129.2h1v1h-1zM692 165.6h1v1h-1zM640.7 369.2h1v1h-1zM532.7 224.6h1v1h-1zM671.1 346.8h1v1h-1zM566.3 165.7h1v1h-1zM457.5 331.8h1v1h-1zM451.4 71.7h1v1h-1zM611.2 203.6h1v1h-1zM651.1 142.5h1v1h-1zM680.7 69.4h1v1h-1zM495.8 261.8h1v1h-1zM452.5 144.2h1v1h-1zM664.1 272.3h1v1h-1zM518.7 91.3h1v1h-1zM543.3 282.8h1v1h-1zM546.1 82.9h1v1h-1zM659 231.3h1v1h-1zM727.8 353.1h1v1h-1zM726.1 188.2h1v1h-1zM689.8 144.5h1v1h-1zM530.1 175.6h1v1h-1zM733.1 338.2h1v1h-1zM507.3 163.2h1v1h-1zM545.9 163.7h1v1h-1zM555.8 171.7h1v1h-1zM489.7 229.6h1v1h-1zM687.8 221.9h1v1h-1zM700.8 229.2h1v1h-1zM483.7 293.6h1v1h-1zM715.4 136.8h1v1h-1zM432.9 213.7h1v1h-1zM604.6 230.8h1v1h-1zM743.6 258.3h1v1h-1zM690.2 65.4h1v1h-1zM605.5 303.2h1v1h-1zM453.3 71.2h1v1h-1zM668.1 339.7h1v1h-1zM453.5 252.6h1v1h-1zM472.9 289.3h1v1h-1zM639.1 125h1v1h-1zM498.1 295.7h1v1h-1zM597.2 295.5h1v1h-1zM555.4 155.3h1v1h-1zM744.2 265.2h1v1h-1zM588 220.9h1v1h-1zM662.8 277h1v1h-1zM726.6 179.2h1v1h-1zM697.4 263.4h1v1h-1zM706.4 309.1h1v1h-1zM699.9 336.2h1v1h-1zM740.7 254.7h1v1h-1zM597.9 277.6h1v1h-1zM689.5 182.9h1v1h-1zM563.9 92.4h1v1h-1zM669.5 369.8h1v1h-1zM549.1 99.5h1v1h-1zM492.8 184h1v1h-1zM521.7 362.9h1v1h-1zM445.1 145.7h1v1h-1zM463.4 257.2h1v1h-1zM680.9 103.3h1v1h-1zM446.1 195.1h1v1h-1zM617.8 343h1v1h-1zM437.6 80.1h1v1h-1zM486.3 115.8h1v1h-1zM503 279.9h1v1h-1zM621.3 117.9h1v1h-1zM486.5 136.7h1v1h-1zM482.4 293.2h1v1h-1zM528.2 224.4h1v1h-1zM694.4 201.9h1v1h-1zM511.3 335.8h1v1h-1zM726.4 156.7h1v1h-1zM605.7 358.7h1v1h-1zM584.4 117h1v1h-1zM442 355.6h1v1h-1zM689.3 170.8h1v1h-1zM599.2 213.8h1v1h-1zM515.9 369.6h1v1h-1zM641.9 122.4h1v1h-1zM429.2 199.6h1v1h-1zM547.8 306.1h1v1h-1zM660.3 243.4h1v1h-1zM477.3 95.9h1v1h-1zM531.5 129.6h1v1h-1zM711.6 213.9h1v1h-1zM635.2 370.5h1v1h-1zM513.3 220h1v1h-1zM475.2 297.4h1v1h-1zM426 314.2h1v1h-1zM704 314.4h1v1h-1zM452.7 133h1v1h-1zM661.3 76.3h1v1h-1zM583.6 198.3h1v1h-1zM740 237.1h1v1h-1zM707.7 144.1h1v1h-1zM685.3 181.3h1v1h-1zM727.2 74.3h1v1h-1zM697.5 112.8h1v1h-1zM604.4 217h1v1h-1zM477.4 317.6h1v1h-1zM528.1 146.4h1v1h-1zM450.6 144.8h1v1h-1zM579.3 279.3h1v1h-1zM543.9 270h1v1h-1zM460.4 173.9h1v1h-1zM577.5 361.9h1v1h-1zM698.6 259.2h1v1h-1zM429.7 168.2h1v1h-1zM659.2 122.4h1v1h-1zM611.2 194.8h1v1h-1zM429 370h1v1h-1zM688.6 112.3h1v1h-1zM628.3 139.8h1v1h-1zM549.3 221.7h1v1h-1zM523.7 155.2h1v1h-1zM554.6 263.3h1v1h-1zM510 110.1h1v1h-1zM666.2 152.6h1v1h-1zM736.5 229.2h1v1h-1zM663.7 153.3h1v1h-1zM697.6 74.7h1v1h-1zM471.9 75.4h1v1h-1zM648.6 277h1v1h-1zM484.8 176.5h1v1h-1zM700.9 239.1h1v1h-1zM455.2 118.8h1v1h-1zM477.3 85.2h1v1h-1zM559.5 68.3h1v1h-1zM728.5 184.6h1v1h-1zM593.9 257h1v1h-1z"/>
<rect x="425.8" y="44.4" width="83" height="83.3" fill="#f43030" fill-opacity="0.13"/>
<rect x="508.8" y="127.7" width="33.5" height="33.4" fill="#f43030" fill-opacity="0.13"/>
<rect x="542.3" y="161.1" width="31.3" height="30.9" fill="#f43030" fill-opacity="0.13"/>
<rect x="573.6" y="192" width="30" height="30.1" fill="#f43030" fill-opacity="0.13"/>
<rect x="603.6" y="222.1" width="29.1" height="29.3" fill="#f43030" fill-opacity="0.13"/>
<rect x="632.7" y="251.4" width="29.1" height="28.1" fill="#f43030" fill-opacity="0.13"/>
<rect x="661.8" y="279.5" width="26.2" height="26.7" fill="#f43030" fill-opacity="0.13"/>
<rect x="688" y="306.2" width="24.5" height="24.4" fill="#f43030" fill-opacity="0.13"/>
<rect x="712.5" y="330.6" width="25.4" height="25.5" fill="#f43030" fill-opacity="0.13"/>
<rect x="712.1" y="330.9" width="15" height="15" fill="#f43030" fill-opacity="0.12"/>
<rect x="727.1" y="345.9" width="10.5" height="10.5" fill="#f43030" fill-opacity="0.12"/>
<g clip-path="url(#clipB)" stroke="#f42020"><line x1="425.6" y1="44.4" x2="737.6" y2="356.4" stroke-opacity="0.04" stroke-width="46"/><line x1="425.6" y1="44.4" x2="737.6" y2="356.4" stroke-opacity="0.06" stroke-width="32"/><line x1="425.6" y1="44.4" x2="737.6" y2="356.4" stroke-opacity="0.1" stroke-width="22"/><line x1="425.6" y1="44.4" x2="737.6" y2="356.4" stroke-opacity="0.2" stroke-width="14"/><line x1="425.6" y1="44.4" x2="737.6" y2="356.4" stroke-opacity="0.4" stroke-width="9"/><line x1="425.6" y1="44.4" x2="737.6" y2="356.4" stroke-opacity="0.55" stroke-width="5.5"/></g>
<path fill="#f01010" fill-opacity="0.6" d="M435.8 60.1h1.5v1.5h-1.5zM444.3 50h1.5v1.5h-1.5zM440.5 58.1h1.5v1.5h-1.5zM438.5 46.5h1.5v1.5h-1.5zM426.1 51.9h1.5v1.5h-1.5zM440.2 49.3h1.5v1.5h-1.5zM435.4 50.6h1.5v1.5h-1.5zM442.1 62.8h1.5v1.5h-1.5zM433.4 63.9h1.5v1.5h-1.5zM426.8 60.2h1.5v1.5h-1.5zM442.7 47.3h1.5v1.5h-1.5zM439.4 55.3h1.5v1.5h-1.5zM444.2 48.5h1.5v1.5h-1.5zM436.1 61.6h1.5v1.5h-1.5zM438.1 50.4h1.5v1.5h-1.5zM427.2 62.7h1.5v1.5h-1.5zM434.8 63.8h1.5v1.5h-1.5zM428.4 60.2h1.5v1.5h-1.5zM441.5 62.3h1.5v1.5h-1.5zM425.9 51.7h1.5v1.5h-1.5zM426.6 59.1h1.5v1.5h-1.5zM432.5 63.1h1.5v1.5h-1.5zM432.9 59.5h1.5v1.5h-1.5zM442.5 49.1h1.5v1.5h-1.5zM436.5 63.1h1.5v1.5h-1.5zM435.9 51.4h1.5v1.5h-1.5zM430.8 59.7h1.5v1.5h-1.5zM429.4 56.2h1.5v1.5h-1.5zM436.4 55.2h1.5v1.5h-1.5zM428.1 57.2h1.5v1.5h-1.5zM443.5 50.6h1.5v1.5h-1.5zM432.1 62.1h1.5v1.5h-1.5zM436.9 49.7h1.5v1.5h-1.5zM425.8 59.1h1.5v1.5h-1.5zM432.4 53.5h1.5v1.5h-1.5zM430.9 56.7h1.5v1.5h-1.5zM439.8 50.4h1.5v1.5h-1.5zM427.1 63.6h1.5v1.5h-1.5zM443.3 44.8h1.5v1.5h-1.5zM436.6 57.8h1.5v1.5h-1.5zM433.5 58.7h1.5v1.5h-1.5zM444.3 55.9h1.5v1.5h-1.5zM433.2 48.2h1.5v1.5h-1.5zM430.5 47.3h1.5v1.5h-1.5zM427.8 48.5h1.5v1.5h-1.5zM442 54.9h1.5v1.5h-1.5zM441.3 62.3h1.5v1.5h-1.5zM441.4 45.4h1.5v1.5h-1.5zM443.7 46.2h1.5v1.5h-1.5zM440.6 60.8h1.5v1.5h-1.5zM438.4 52.3h1.5v1.5h-1.5zM427.1 46.1h1.5v1.5h-1.5zM438 49.1h1.5v1.5h-1.5zM436 49.6h1.5v1.5h-1.5zM428.8 50.2h1.5v1.5h-1.5zM439.7 53.9h1.5v1.5h-1.5zM433.3 53.9h1.5v1.5h-1.5zM436.4 54.5h1.5v1.5h-1.5zM434.3 63.3h1.5v1.5h-1.5zM440.3 48.9h1.5v1.5h-1.5zM431.8 48.1h1.5v1.5h-1.5zM432.7 45h1.5v1.5h-1.5zM440.1 55.5h1.5v1.5h-1.5zM433.8 61.8h1.5v1.5h-1.5zM432 55.7h1.5v1.5h-1.5zM443.7 55.2h1.5v1.5h-1.5zM437.6 51.6h1.5v1.5h-1.5zM445.1 59.1h1.5v1.5h-1.5zM431.5 51.3h1.5v1.5h-1.5zM437.1 54.5h1.5v1.5h-1.5zM435.8 48.1h1.5v1.5h-1.5zM436.8 58.1h1.5v1.5h-1.5zM440.5 53.2h1.5v1.5h-1.5zM434.3 54.2h1.5v1.5h-1.5zM436.1 53.7h1.5v1.5h-1.5zM425.8 49.5h1.5v1.5h-1.5zM444.9 60.5h1.5v1.5h-1.5zM434.7 59.1h1.5v1.5h-1.5zM429.7 49.6h1.5v1.5h-1.5zM435.7 58h1.5v1.5h-1.5zM426.1 53.6h1.5v1.5h-1.5zM443.3 56.3h1.5v1.5h-1.5zM445 46.3h1.5v1.5h-1.5zM443.3 60.7h1.5v1.5h-1.5zM426.1 54.9h1.5v1.5h-1.5zM440.4 48.7h1.5v1.5h-1.5zM438.3 61h1.5v1.5h-1.5zM441.1 52.7h1.5v1.5h-1.5zM426.7 54.9h1.5v1.5h-1.5zM429.3 54.9h1.5v1.5h-1.5zM430.9 51.2h1.5v1.5h-1.5zM436.2 60.4h1.5v1.5h-1.5zM444.6 52.3h1.5v1.5h-1.5zM425.7 59h1.5v1.5h-1.5zM432.2 59.2h1.5v1.5h-1.5zM441.8 45.1h1.5v1.5h-1.5zM439.9 50h1.5v1.5h-1.5zM431.9 50.9h1.5v1.5h-1.5zM436.1 49.1h1.5v1.5h-1.5zM435.2 49.9h1.5v1.5h-1.5zM428 49.3h1.5v1.5h-1.5zM438.9 50.5h1.5v1.5h-1.5zM429.5 51.5h1.5v1.5h-1.5zM429.8 63.6h1.5v1.5h-1.5zM441 47.4h1.5v1.5h-1.5zM431.3 52.9h1.5v1.5h-1.5zM435.9 52h1.5v1.5h-1.5zM435.8 59.2h1.5v1.5h-1.5zM428.6 55.3h1.5v1.5h-1.5zM428.8 54.8h1.5v1.5h-1.5zM431.8 60.1h1.5v1.5h-1.5zM442.8 63.1h1.5v1.5h-1.5zM433.5 56.4h1.5v1.5h-1.5zM428.9 58.3h1.5v1.5h-1.5zM440.8 52.7h1.5v1.5h-1.5zM431.9 59.2h1.5v1.5h-1.5zM440.2 60h1.5v1.5h-1.5zM431.2 49.1h1.5v1.5h-1.5zM430.5 48.1h1.5v1.5h-1.5zM425.7 46.8h1.5v1.5h-1.5zM435.2 52.8h1.5v1.5h-1.5zM442.9 51.8h1.5v1.5h-1.5zM428.9 62.6h1.5v1.5h-1.5zM427 51h1.5v1.5h-1.5zM440.5 50.7h1.5v1.5h-1.5zM444.4 58.9h1.5v1.5h-1.5zM431.6 61.2h1.5v1.5h-1.5zM443.6 54.4h1.5v1.5h-1.5zM428.4 46.4h1.5v1.5h-1.5zM441.5 61.7h1.5v1.5h-1.5zM438.4 59.5h1.5v1.5h-1.5zM441.1 49h1.5v1.5h-1.5zM429.8 61.3h1.5v1.5h-1.5zM442 52.9h1.5v1.5h-1.5zM430.9 45.9h1.5v1.5h-1.5zM433.5 62.1h1.5v1.5h-1.5zM429.6 50.6h1.5v1.5h-1.5zM426.3 55.5h1.5v1.5h-1.5zM426.8 57.6h1.5v1.5h-1.5zM435.2 52.7h1.5v1.5h-1.5zM430.7 50.3h1.5v1.5h-1.5zM443 62.7h1.5v1.5h-1.5zM440.3 48.6h1.5v1.5h-1.5zM429.7 51.5h1.5v1.5h-1.5zM442.7 62.8h1.5v1.5h-1.5zM430.1 56.8h1.5v1.5h-1.5zM433 53.3h1.5v1.5h-1.5zM429.5 58.5h1.5v1.5h-1.5zM440.9 62.7h1.5v1.5h-1.5zM435 53h1.5v1.5h-1.5zM438.2 47h1.5v1.5h-1.5zM442.7 59.4h1.5v1.5h-1.5zM430 52.2h1.5v1.5h-1.5zM435.1 61h1.5v1.5h-1.5zM439.1 49.1h1.5v1.5h-1.5zM444.1 62.5h1.5v1.5h-1.5zM442.3 54h1.5v1.5h-1.5zM434.8 52.3h1.5v1.5h-1.5zM444.7 53.8h1.5v1.5h-1.5zM444.3 48h1.5v1.5h-1.5zM426.2 53.6h1.5v1.5h-1.5zM429.5 49.4h1.5v1.5h-1.5zM426.3 46.8h1.5v1.5h-1.5zM434.2 46.1h1.5v1.5h-1.5zM431.4 56.3h1.5v1.5h-1.5zM430.7 50.5h1.5v1.5h-1.5zM433 49.5h1.5v1.5h-1.5zM436.6 59.5h1.5v1.5h-1.5zM426.2 54.9h1.5v1.5h-1.5zM436 62.3h1.5v1.5h-1.5z"/>
<rect x="425.6" y="44.4" width="20" height="20" fill="#f22" fill-opacity="0.3"/>
<rect x="425.6" y="64.4" width="12" height="40" fill="#f22" fill-opacity="0.1"/>
<rect x="738.6" y="357.4" width="17" height="16.4" fill="#f22" fill-opacity="0.35"/>
<path fill="#e01010" fill-opacity="0.75" d="M741.4 367.3h1.5v1.5h-1.5zM743.8 360.3h1.5v1.5h-1.5zM746.2 364.8h1.5v1.5h-1.5zM746 364.2h1.5v1.5h-1.5zM742.7 361.2h1.5v1.5h-1.5zM749.3 362.2h1.5v1.5h-1.5zM749.1 369.1h1.5v1.5h-1.5zM752 371.5h1.5v1.5h-1.5zM742.2 360.9h1.5v1.5h-1.5zM750 366h1.5v1.5h-1.5zM741.7 367.5h1.5v1.5h-1.5zM752.1 369.9h1.5v1.5h-1.5zM741.9 361.9h1.5v1.5h-1.5zM738.7 371.9h1.5v1.5h-1.5zM742 368.2h1.5v1.5h-1.5zM746.9 366.2h1.5v1.5h-1.5zM746.8 369.7h1.5v1.5h-1.5zM747.9 361.9h1.5v1.5h-1.5zM740.4 364.5h1.5v1.5h-1.5zM752.9 359.6h1.5v1.5h-1.5zM749.2 366.8h1.5v1.5h-1.5zM741.1 360.5h1.5v1.5h-1.5zM749.2 363.9h1.5v1.5h-1.5zM744.9 364.6h1.5v1.5h-1.5zM740.2 367.9h1.5v1.5h-1.5zM747.7 365.4h1.5v1.5h-1.5zM743.9 369.5h1.5v1.5h-1.5zM751.4 365.5h1.5v1.5h-1.5zM740 359.6h1.5v1.5h-1.5zM741 358.6h1.5v1.5h-1.5zM748.6 365.5h1.5v1.5h-1.5zM741.8 371h1.5v1.5h-1.5zM748.4 369.2h1.5v1.5h-1.5zM751.3 367.6h1.5v1.5h-1.5zM746.8 372.1h1.5v1.5h-1.5zM740.7 367.7h1.5v1.5h-1.5zM752.3 364.5h1.5v1.5h-1.5zM751.3 360.1h1.5v1.5h-1.5zM745.1 361.4h1.5v1.5h-1.5zM744.8 367.9h1.5v1.5h-1.5zM740.8 362.4h1.5v1.5h-1.5zM751.7 361.9h1.5v1.5h-1.5zM740.6 372.2h1.5v1.5h-1.5zM747 357.7h1.5v1.5h-1.5zM747.5 359.6h1.5v1.5h-1.5zM741.1 368.4h1.5v1.5h-1.5zM748.7 363.8h1.5v1.5h-1.5zM746.6 365.7h1.5v1.5h-1.5zM745.7 358.9h1.5v1.5h-1.5zM750.5 368.9h1.5v1.5h-1.5zM745.1 363.4h1.5v1.5h-1.5zM748.1 364.4h1.5v1.5h-1.5zM745 370.5h1.5v1.5h-1.5zM752.6 359.6h1.5v1.5h-1.5zM741.3 369.1h1.5v1.5h-1.5zM753.4 368.3h1.5v1.5h-1.5zM743.2 358.3h1.5v1.5h-1.5zM751.4 371.3h1.5v1.5h-1.5zM750.4 368.4h1.5v1.5h-1.5zM753.7 365.2h1.5v1.5h-1.5zM753 361.3h1.5v1.5h-1.5zM739.8 369.9h1.5v1.5h-1.5zM749.4 369.3h1.5v1.5h-1.5zM740.6 361.9h1.5v1.5h-1.5zM747.7 358.4h1.5v1.5h-1.5zM743.7 366.4h1.5v1.5h-1.5zM753.1 368.1h1.5v1.5h-1.5zM744.7 363.5h1.5v1.5h-1.5zM746.5 368.4h1.5v1.5h-1.5zM754 357.6h1.5v1.5h-1.5zM752.9 369.4h1.5v1.5h-1.5zM739.3 361.2h1.5v1.5h-1.5zM742.8 360.6h1.5v1.5h-1.5zM741.1 359.4h1.5v1.5h-1.5zM749.1 363.9h1.5v1.5h-1.5zM740.3 370h1.5v1.5h-1.5zM751.5 361.3h1.5v1.5h-1.5zM751.5 369h1.5v1.5h-1.5zM746.8 358.7h1.5v1.5h-1.5zM749.6 370.4h1.5v1.5h-1.5zM752.3 371.6h1.5v1.5h-1.5zM741.1 371.9h1.5v1.5h-1.5zM740 362.8h1.5v1.5h-1.5zM747 366.9h1.5v1.5h-1.5zM746.8 370.9h1.5v1.5h-1.5zM750.6 370.2h1.5v1.5h-1.5zM749.1 364.2h1.5v1.5h-1.5zM738.9 367h1.5v1.5h-1.5zM753.1 360.2h1.5v1.5h-1.5zM754 357.7h1.5v1.5h-1.5zM744.8 368.6h1.5v1.5h-1.5zM749.7 366h1.5v1.5h-1.5zM742.9 361.1h1.5v1.5h-1.5zM740.8 367h1.5v1.5h-1.5zM738.9 359.3h1.5v1.5h-1.5zM749.7 364.1h1.5v1.5h-1.5zM738.9 363.7h1.5v1.5h-1.5zM752.9 365h1.5v1.5h-1.5zM742.8 359.4h1.5v1.5h-1.5zM746.3 361h1.5v1.5h-1.5zM742.9 358.3h1.5v1.5h-1.5zM748 369.2h1.5v1.5h-1.5zM746.5 366.5h1.5v1.5h-1.5zM743.1 372.2h1.5v1.5h-1.5zM743 371.1h1.5v1.5h-1.5zM738.8 367.2h1.5v1.5h-1.5zM752.1 365.9h1.5v1.5h-1.5zM741.9 359.9h1.5v1.5h-1.5zM753.9 372.2h1.5v1.5h-1.5zM742.3 363.5h1.5v1.5h-1.5zM751.4 370.3h1.5v1.5h-1.5zM739.1 365.5h1.5v1.5h-1.5zM742.5 358.6h1.5v1.5h-1.5zM749.3 364.7h1.5v1.5h-1.5zM741.8 368.7h1.5v1.5h-1.5zM743.6 361.3h1.5v1.5h-1.5zM743.2 360.3h1.5v1.5h-1.5zM751.7 362.3h1.5v1.5h-1.5zM753.1 367.6h1.5v1.5h-1.5zM747 370.7h1.5v1.5h-1.5zM744.4 357.9h1.5v1.5h-1.5zM748.8 358.3h1.5v1.5h-1.5zM753 371.9h1.5v1.5h-1.5zM744.7 358.7h1.5v1.5h-1.5zM753.4 361.3h1.5v1.5h-1.5zM753.6 364.5h1.5v1.5h-1.5zM752.3 370.4h1.5v1.5h-1.5zM741 362.4h1.5v1.5h-1.5zM745.3 360.4h1.5v1.5h-1.5zM753 360.5h1.5v1.5h-1.5zM742.3 360.1h1.5v1.5h-1.5zM740.9 369.5h1.5v1.5h-1.5zM741.7 366.2h1.5v1.5h-1.5zM740.5 369.5h1.5v1.5h-1.5zM750.8 371.4h1.5v1.5h-1.5zM739.5 367.4h1.5v1.5h-1.5zM749.9 362.4h1.5v1.5h-1.5zM749.3 362.2h1.5v1.5h-1.5zM747.7 370.1h1.5v1.5h-1.5zM751.4 362.3h1.5v1.5h-1.5z"/>
<path fill="#e01818" fill-opacity="0.6" d="M739.4 275.1h1v1h-1zM748.7 353.2h1v1h-1zM742.2 128.4h1v1h-1zM750.1 260.6h1v1h-1zM742.8 269.1h1v1h-1zM744.3 299.7h1v1h-1zM739.6 117.7h1v1h-1zM752.9 162h1v1h-1zM742 308.5h1v1h-1zM748.3 93.6h1v1h-1zM747 262.5h1v1h-1zM740.4 258.4h1v1h-1zM739.7 155.1h1v1h-1zM739 111.5h1v1h-1zM754.2 177h1v1h-1zM754.4 188.5h1v1h-1zM747.9 331h1v1h-1zM749.3 81h1v1h-1zM747.6 252.5h1v1h-1zM740.7 75.5h1v1h-1zM752.5 213.1h1v1h-1zM740.9 193h1v1h-1zM741.3 306.5h1v1h-1zM746.1 78h1v1h-1zM751.5 73.8h1v1h-1zM742.4 53.6h1v1h-1zM750.2 81.8h1v1h-1zM746.5 74.9h1v1h-1zM745.8 269.5h1v1h-1zM746.7 193.9h1v1h-1zM745.8 187.9h1v1h-1zM747.7 75.6h1v1h-1zM745.7 122h1v1h-1zM752.3 352.8h1v1h-1zM738.7 91.5h1v1h-1zM749.6 232.1h1v1h-1zM737.9 275.9h1v1h-1zM753.6 183.3h1v1h-1zM743.5 231.4h1v1h-1zM753.6 130.9h1v1h-1zM742.7 106.4h1v1h-1zM748.3 198.5h1v1h-1zM742 171.8h1v1h-1zM738.2 147h1v1h-1zM754.3 236.9h1v1h-1zM742.4 351.8h1v1h-1zM743.7 127h1v1h-1zM738.2 92.4h1v1h-1zM741 119.9h1v1h-1zM752.4 131.3h1v1h-1zM741.8 242.7h1v1h-1zM753.2 140.1h1v1h-1zM750.5 165.5h1v1h-1zM747.1 240.1h1v1h-1zM753.6 293.1h1v1h-1zM746.2 320.7h1v1h-1zM743.8 170.5h1v1h-1zM753.9 223.7h1v1h-1zM750.7 147.7h1v1h-1zM753.2 245.6h1v1h-1zM741.8 351h1v1h-1zM745.6 155.9h1v1h-1zM742.1 78.3h1v1h-1zM741 271.7h1v1h-1zM740 129.4h1v1h-1zM745.2 223.3h1v1h-1zM744.1 302.2h1v1h-1zM742 165.4h1v1h-1zM744.8 86.7h1v1h-1zM741.4 92.5h1v1h-1zM749.9 92.5h1v1h-1zM749 117.3h1v1h-1zM748.6 260h1v1h-1zM743.6 350.8h1v1h-1zM748.8 227.4h1v1h-1zM738.4 177.9h1v1h-1zM742.1 198.7h1v1h-1zM753.5 328.1h1v1h-1zM738.7 267.8h1v1h-1zM753.5 222.5h1v1h-1zM739.2 329.1h1v1h-1zM744.8 366.4h1v1h-1zM752.5 316.6h1v1h-1zM753.4 66.8h1v1h-1zM751.1 144.6h1v1h-1zM739.9 168.9h1v1h-1zM747.6 46h1v1h-1zM745.2 302h1v1h-1zM746 217.8h1v1h-1zM742.6 363.4h1v1h-1zM741.8 268.1h1v1h-1zM748.6 44.6h1v1h-1zM754.5 121.7h1v1h-1zM754.4 349.3h1v1h-1zM752.9 325.3h1v1h-1zM744.4 190.7h1v1h-1zM743.5 351.8h1v1h-1zM738.1 89.3h1v1h-1zM753.9 309.2h1v1h-1zM749.6 362.3h1v1h-1zM746.5 318.7h1v1h-1zM745.1 340.2h1v1h-1zM738.8 188.3h1v1h-1zM747.4 305.3h1v1h-1zM744.8 267.9h1v1h-1zM754.1 181.9h1v1h-1zM741 54.3h1v1h-1zM752.3 200.7h1v1h-1zM744.2 215.1h1v1h-1zM739.6 117.3h1v1h-1zM741.6 128.2h1v1h-1zM752.2 125.4h1v1h-1zM739.1 329h1v1h-1zM747.1 53.6h1v1h-1zM749.1 269.8h1v1h-1zM748.6 298.8h1v1h-1zM744.8 118.3h1v1h-1zM750.3 249.7h1v1h-1zM749.6 104.7h1v1h-1zM743.9 271.4h1v1h-1zM744.1 242.2h1v1h-1zM745.6 292.2h1v1h-1zM743.5 207.9h1v1h-1zM751.7 146.4h1v1h-1zM740.6 253.5h1v1h-1zM739.9 325.8h1v1h-1zM742.3 341.3h1v1h-1zM746.7 95h1v1h-1zM746.5 268.5h1v1h-1zM745.9 253h1v1h-1zM743.9 359.4h1v1h-1zM740.6 306.4h1v1h-1zM738 211h1v1h-1zM738.7 87.7h1v1h-1zM747.6 341.4h1v1h-1zM742.9 176.7h1v1h-1zM745.7 243.1h1v1h-1zM743.6 159.8h1v1h-1zM752.1 226.9h1v1h-1zM743.6 313.1h1v1h-1zM754.6 186.3h1v1h-1zM737.9 144.7h1v1h-1zM752.9 100.8h1v1h-1zM741 304.6h1v1h-1zM739.5 323.4h1v1h-1zM741.4 171.8h1v1h-1zM747.7 81.2h1v1h-1zM750.8 188.4h1v1h-1zM750.7 295.3h1v1h-1zM738.9 314.5h1v1h-1zM751.6 123.8h1v1h-1zM747.7 111.9h1v1h-1zM746.8 291.3h1v1h-1zM744 219.4h1v1h-1zM739.8 327.9h1v1h-1zM748.2 317.1h1v1h-1zM739 289.2h1v1h-1zM739.1 227.2h1v1h-1zM741.5 340.5h1v1h-1zM739.4 199.7h1v1h-1zM745.6 171.1h1v1h-1zM738.7 263.1h1v1h-1zM754.1 162.9h1v1h-1zM752.9 155.7h1v1h-1zM742.2 193.7h1v1h-1zM754.1 300.4h1v1h-1zM748.4 57.4h1v1h-1zM745.3 49.3h1v1h-1zM738.7 168h1v1h-1zM741.7 78.6h1v1h-1zM746.3 301.3h1v1h-1zM753.3 345.2h1v1h-1zM744.8 103h1v1h-1zM754 183.4h1v1h-1zM743.4 315.1h1v1h-1zM747.1 357.2h1v1h-1zM749.5 355h1v1h-1zM740.2 354.2h1v1h-1zM746.8 273.2h1v1h-1zM742.7 124.6h1v1h-1zM742.6 100.2h1v1h-1zM753.9 83.6h1v1h-1zM741.7 252.4h1v1h-1zM741.1 114.6h1v1h-1zM741.9 121.3h1v1h-1zM737.8 287.4h1v1h-1zM748.8 146.3h1v1h-1zM752.9 228.1h1v1h-1zM741.3 361.3h1v1h-1zM741.5 310.3h1v1h-1zM751.5 45.4h1v1h-1zM752 182.6h1v1h-1zM746.1 355h1v1h-1zM745.3 123.8h1v1h-1zM738.4 335.2h1v1h-1zM745.3 277.9h1v1h-1zM748.5 366.2h1v1h-1zM753.5 351.7h1v1h-1zM746.2 343.3h1v1h-1zM742.8 85.2h1v1h-1zM748.5 53.8h1v1h-1zM754.1 151.1h1v1h-1zM744.8 139.9h1v1h-1zM743.1 220.9h1v1h-1zM751.2 49.1h1v1h-1zM743.4 125.4h1v1h-1zM753.9 188.5h1v1h-1zM745.2 352.2h1v1h-1zM744.2 170.7h1v1h-1zM744.4 122.1h1v1h-1zM749.6 138.6h1v1h-1zM746.3 232.1h1v1h-1zM750.6 287.4h1v1h-1zM745.8 356.3h1v1h-1zM753.7 352.4h1v1h-1zM749.7 193.6h1v1h-1zM743.7 326.9h1v1h-1zM745.7 290.1h1v1h-1zM744.2 164.4h1v1h-1zM737.9 284.2h1v1h-1zM742.5 206.6h1v1h-1zM749.9 317.6h1v1h-1zM753.7 262.3h1v1h-1zM741.6 349.4h1v1h-1zM738.5 179.9h1v1h-1zM753.3 322h1v1h-1zM747.7 329.6h1v1h-1zM740.6 57.3h1v1h-1zM742.6 349.9h1v1h-1zM738.3 151.3h1v1h-1zM746.2 112h1v1h-1zM752.4 79.4h1v1h-1zM739.1 372h1v1h-1zM737.8 117.5h1v1h-1zM744.5 333.5h1v1h-1zM743.3 231.7h1v1h-1zM751.3 247.4h1v1h-1zM751.7 49.8h1v1h-1zM746.8 51.3h1v1h-1zM752.1 52.7h1v1h-1zM739.2 185.3h1v1h-1zM748.2 49h1v1h-1zM748.5 78.2h1v1h-1zM743.1 58.2h1v1h-1zM750 317.4h1v1h-1zM750.7 150.2h1v1h-1zM741.8 360.5h1v1h-1zM751.5 362.5h1v1h-1zM744.7 333.3h1v1h-1zM749.1 302.4h1v1h-1zM746.3 301.9h1v1h-1zM746.1 134h1v1h-1zM745.7 57.9h1v1h-1zM749.1 154.4h1v1h-1zM740.7 304.7h1v1h-1zM746.5 148.2h1v1h-1zM753.3 352.3h1v1h-1zM744.8 224h1v1h-1zM737.6 161.5h1v1h-1zM754.4 212h1v1h-1zM754.5 53.8h1v1h-1zM737.9 64.6h1v1h-1zM738.9 292.4h1v1h-1zM754.4 294.4h1v1h-1zM747.9 169.6h1v1h-1zM744.1 87.2h1v1h-1zM744.4 84.4h1v1h-1zM751.4 221.2h1v1h-1zM744 324.1h1v1h-1zM742.7 330.8h1v1h-1zM749.8 250.6h1v1h-1zM747.7 252.2h1v1h-1zM752.9 371.3h1v1h-1zM747.1 359.9h1v1h-1zM741.8 348.7h1v1h-1zM752.6 253.5h1v1h-1zM739.5 335.9h1v1h-1zM744 153.8h1v1h-1zM753.8 73.2h1v1h-1zM748.6 118.8h1v1h-1zM752.4 115.4h1v1h-1zM739.4 204.3h1v1h-1zM745.4 291.4h1v1h-1zM742.4 140.3h1v1h-1zM742.6 225.1h1v1h-1zM739.8 228.7h1v1h-1zM751.5 270.2h1v1h-1zM742 202.1h1v1h-1zM739.2 199.2h1v1h-1zM750.5 44.6h1v1h-1zM748.6 346.9h1v1h-1zM742.4 149h1v1h-1zM749.2 95.5h1v1h-1zM742.2 247.2h1v1h-1zM746.4 99.4h1v1h-1zM741 205.7h1v1h-1zM752.3 110.3h1v1h-1zM749.2 218.9h1v1h-1zM742.3 180.1h1v1h-1zM751.6 78h1v1h-1z"/>
<path fill="#e01818" fill-opacity="0.6" d="M743.2 356.6h1v1h-1zM667.7 359h1v1h-1zM750.1 356.7h1v1h-1zM715 367.6h1v1h-1zM707.7 372.8h1v1h-1zM504.5 361.9h1v1h-1zM658.6 361h1v1h-1zM512.2 360.1h1v1h-1zM707.8 370.7h1v1h-1zM688 360.1h1v1h-1zM729.9 364.8h1v1h-1zM501.7 363.9h1v1h-1zM563.7 357.7h1v1h-1zM611.4 362.3h1v1h-1zM613 371.7h1v1h-1zM638 363h1v1h-1zM709.7 372.7h1v1h-1zM586.9 371.9h1v1h-1zM431.8 358.7h1v1h-1zM482.3 371.8h1v1h-1zM652.8 368.2h1v1h-1zM519.9 364.5h1v1h-1zM717.4 358h1v1h-1zM463.8 357.2h1v1h-1zM579.8 370.2h1v1h-1zM608.2 363h1v1h-1zM590.8 359.3h1v1h-1zM737.5 362.2h1v1h-1zM503 361.5h1v1h-1zM697 361.6h1v1h-1zM723.3 361.9h1v1h-1zM570.9 357.6h1v1h-1zM724.2 369.5h1v1h-1zM581.7 358.3h1v1h-1zM587.6 362.6h1v1h-1zM702 371.6h1v1h-1zM669.4 361.1h1v1h-1zM439.2 371.1h1v1h-1zM736.3 359h1v1h-1zM590.1 364.3h1v1h-1zM746.8 357.1h1v1h-1zM445.9 370.2h1v1h-1zM613 364h1v1h-1zM681.5 366.1h1v1h-1zM653.4 360.6h1v1h-1zM453.5 356.5h1v1h-1zM535.2 367h1v1h-1zM550.6 362.1h1v1h-1zM629.1 368h1v1h-1zM621.5 361.5h1v1h-1zM696 369.5h1v1h-1zM719.6 371h1v1h-1zM430.5 367.4h1v1h-1zM540.1 362.8h1v1h-1zM596.1 358.8h1v1h-1zM507.7 372.6h1v1h-1zM534.5 371.4h1v1h-1zM650.8 361.6h1v1h-1zM530.5 366.3h1v1h-1zM656.6 362h1v1h-1zM445 359.2h1v1h-1zM708.8 368.4h1v1h-1zM461.2 370.1h1v1h-1zM615.1 361.9h1v1h-1zM719.7 358.5h1v1h-1zM457.9 362h1v1h-1zM668.3 365.4h1v1h-1zM584.9 371.3h1v1h-1zM555.2 369.3h1v1h-1zM427.1 369.2h1v1h-1zM476.8 367.2h1v1h-1zM701.5 367.2h1v1h-1zM616 365.4h1v1h-1zM672.8 362.4h1v1h-1zM502.4 365.5h1v1h-1zM596.8 358.3h1v1h-1zM600 364.1h1v1h-1zM477.1 368h1v1h-1zM681.7 362h1v1h-1zM710.3 372.6h1v1h-1zM643.5 363.1h1v1h-1zM515.2 358.5h1v1h-1zM515.4 372.8h1v1h-1zM445.5 371.4h1v1h-1zM655 369.3h1v1h-1zM458.3 367h1v1h-1zM493.1 367.5h1v1h-1zM686.9 368.2h1v1h-1zM601.7 370.9h1v1h-1zM501 359h1v1h-1zM710.3 357.3h1v1h-1zM563.1 363.3h1v1h-1zM714.2 362.5h1v1h-1zM612.9 364.6h1v1h-1zM583.1 364.2h1v1h-1zM579.7 366.2h1v1h-1zM567.9 363.3h1v1h-1zM729.9 372.4h1v1h-1zM506.9 371.9h1v1h-1zM433.4 361.9h1v1h-1zM721.4 359.2h1v1h-1zM645.7 372.7h1v1h-1zM626.9 363.9h1v1h-1zM435.6 363.8h1v1h-1zM578.2 369.3h1v1h-1zM554 369.6h1v1h-1zM558.9 366.8h1v1h-1zM675.2 359.1h1v1h-1zM739.3 363.8h1v1h-1zM583.4 372.4h1v1h-1zM613.5 364.9h1v1h-1zM495.9 360h1v1h-1zM675.8 364.7h1v1h-1zM642.3 367.8h1v1h-1zM650.1 361.7h1v1h-1zM709.5 363.8h1v1h-1zM483.5 370.6h1v1h-1zM722.2 358.4h1v1h-1zM716.8 367.7h1v1h-1zM514.4 365.8h1v1h-1zM728.9 358.9h1v1h-1zM642.8 360.3h1v1h-1zM474.7 372h1v1h-1zM753 367.1h1v1h-1zM686.3 362.9h1v1h-1zM566.5 366.5h1v1h-1zM693.4 367.9h1v1h-1zM580.1 366.7h1v1h-1zM558.1 369.7h1v1h-1zM711.5 369.1h1v1h-1zM531.4 362.6h1v1h-1zM748 362.6h1v1h-1zM644.3 358h1v1h-1zM468.9 360.1h1v1h-1zM647 360.1h1v1h-1zM641.7 357.6h1v1h-1zM653.1 367.9h1v1h-1zM510 360.3h1v1h-1zM508.2 364.5h1v1h-1zM486.5 360.2h1v1h-1zM690.2 371.8h1v1h-1zM478.5 364.9h1v1h-1zM642.4 372h1v1h-1zM609.7 365.1h1v1h-1zM679.5 369.3h1v1h-1zM659.9 366.6h1v1h-1zM692.5 357.1h1v1h-1zM678.1 360h1v1h-1zM541.9 362.9h1v1h-1zM596.7 366.1h1v1h-1zM618.7 361.6h1v1h-1zM544.4 367.2h1v1h-1zM732 362.7h1v1h-1zM428.2 370.4h1v1h-1zM717.5 370.2h1v1h-1zM634.9 363.2h1v1h-1zM447.1 371.5h1v1h-1zM569.2 358.4h1v1h-1zM631.2 357.1h1v1h-1zM553.5 366.3h1v1h-1zM689.7 362.3h1v1h-1zM490.1 362h1v1h-1zM695.5 357.9h1v1h-1zM471.3 362.1h1v1h-1zM738.8 370.9h1v1h-1zM743.8 357.2h1v1h-1zM590.5 358.8h1v1h-1zM618.2 369.4h1v1h-1zM584.2 367.7h1v1h-1zM649.7 364.7h1v1h-1zM553.9 360.3h1v1h-1zM662.6 372.5h1v1h-1zM744.1 371.6h1v1h-1zM704.6 367.2h1v1h-1zM588.6 358.4h1v1h-1zM688.4 359.4h1v1h-1zM731.7 370.5h1v1h-1zM518.8 371.3h1v1h-1zM674.4 369.7h1v1h-1zM461.3 360.9h1v1h-1zM476.6 371.8h1v1h-1zM505.8 363.7h1v1h-1zM673.1 362.9h1v1h-1zM633.5 366.6h1v1h-1zM550.5 371.6h1v1h-1zM645.6 368.5h1v1h-1zM666.3 366.6h1v1h-1zM481.3 371.4h1v1h-1zM735.7 358.1h1v1h-1zM546.6 359.5h1v1h-1zM469 365.9h1v1h-1zM568.2 358.6h1v1h-1zM584.1 367.8h1v1h-1zM470.3 367h1v1h-1zM642.5 370h1v1h-1zM754.2 370.8h1v1h-1zM548.6 357.8h1v1h-1zM535.3 359.2h1v1h-1zM706.2 362.4h1v1h-1zM610 368.3h1v1h-1zM577.1 372.8h1v1h-1zM642.4 366.2h1v1h-1zM480.2 360.3h1v1h-1zM652.1 363.6h1v1h-1zM616.3 370.8h1v1h-1zM648.3 370.1h1v1h-1zM546.3 357.5h1v1h-1zM516.8 371.2h1v1h-1zM504.6 358.4h1v1h-1zM448.2 372.8h1v1h-1zM494.4 357.7h1v1h-1zM543.6 357.1h1v1h-1zM665.8 367.7h1v1h-1zM564.7 368.3h1v1h-1zM431.5 369.5h1v1h-1zM636.9 368.7h1v1h-1zM472.5 372h1v1h-1zM749.9 364.3h1v1h-1zM530.8 364.9h1v1h-1zM658.8 364h1v1h-1zM604.5 372h1v1h-1zM658.7 362.8h1v1h-1zM724.9 369.3h1v1h-1zM432.5 364.5h1v1h-1zM524.7 361.4h1v1h-1zM547.3 370.1h1v1h-1zM626.3 360.4h1v1h-1zM447.7 358.9h1v1h-1zM549 365.3h1v1h-1zM589.4 363.4h1v1h-1zM599.4 361.5h1v1h-1zM738.7 360h1v1h-1zM547 367.2h1v1h-1zM701.4 363h1v1h-1zM634.3 360.6h1v1h-1zM429.2 372.3h1v1h-1zM447.8 368.9h1v1h-1zM436 361.3h1v1h-1zM595.1 371.1h1v1h-1zM690 361.3h1v1h-1zM428.2 368.8h1v1h-1zM671 371.7h1v1h-1zM469.4 367.4h1v1h-1zM628.7 370.8h1v1h-1zM704.5 369h1v1h-1zM705.2 357.7h1v1h-1zM750.4 366.3h1v1h-1zM720.3 358.9h1v1h-1zM595.5 371h1v1h-1zM743.4 366.4h1v1h-1zM719.6 356.8h1v1h-1zM460 360.6h1v1h-1zM713.3 368.1h1v1h-1zM565.8 371.4h1v1h-1zM595.1 358.8h1v1h-1zM735.6 368.5h1v1h-1zM752.8 369.2h1v1h-1zM591.5 371.1h1v1h-1zM469.2 356.5h1v1h-1zM512.4 372h1v1h-1zM454.6 368.8h1v1h-1zM602.7 358.6h1v1h-1zM494.2 368.2h1v1h-1zM553.5 370.8h1v1h-1zM442.3 365.8h1v1h-1zM705.8 360.3h1v1h-1zM516.8 365.9h1v1h-1zM482.8 367h1v1h-1zM729.1 361.6h1v1h-1zM481.6 370.8h1v1h-1zM443.2 370.4h1v1h-1zM564 369.5h1v1h-1zM549.2 372.1h1v1h-1zM641.5 366.2h1v1h-1zM449.7 365.9h1v1h-1zM503.4 368.1h1v1h-1zM530.3 360.2h1v1h-1zM471.8 360.6h1v1h-1zM466.7 361h1v1h-1zM602.2 370.5h1v1h-1zM681.1 362.3h1v1h-1zM729.8 362.2h1v1h-1zM566 365.3h1v1h-1zM622.6 364.5h1v1h-1zM643.7 359.6h1v1h-1zM495.5 361.9h1v1h-1zM570.2 360.6h1v1h-1zM612.5 357.6h1v1h-1zM564.9 363.9h1v1h-1zM624.4 358.7h1v1h-1zM641.3 364h1v1h-1zM730 358.7h1v1h-1zM557.5 369.2h1v1h-1zM733.3 369.7h1v1h-1zM718.4 363.6h1v1h-1zM499.9 360.6h1v1h-1zM634.7 367.3h1v1h-1zM565.3 359.5h1v1h-1zM713.4 361.7h1v1h-1zM504.6 370.1h1v1h-1z"/>
<path fill="#e01010" fill-opacity="0.8" d="M749.3 53.8h1.5v1.5h-1.5zM749.7 53.1h1.5v1.5h-1.5zM749.7 57.2h1.5v1.5h-1.5zM748.5 56.8h1.5v1.5h-1.5zM746.7 50.3h1.5v1.5h-1.5zM749.1 47.2h1.5v1.5h-1.5zM752.2 50.4h1.5v1.5h-1.5zM752.5 63h1.5v1.5h-1.5zM748.5 61.8h1.5v1.5h-1.5zM752.7 57.4h1.5v1.5h-1.5zM746.8 53.3h1.5v1.5h-1.5zM751.3 50.2h1.5v1.5h-1.5zM748.3 50.4h1.5v1.5h-1.5zM748.5 59.8h1.5v1.5h-1.5zM749.2 52.7h1.5v1.5h-1.5zM751.4 62.9h1.5v1.5h-1.5zM748.8 45.3h1.5v1.5h-1.5zM753.9 60.6h1.5v1.5h-1.5zM752.5 54.6h1.5v1.5h-1.5zM748.4 47.4h1.5v1.5h-1.5zM748.9 53.4h1.5v1.5h-1.5zM747.1 58h1.5v1.5h-1.5zM752.1 44.7h1.5v1.5h-1.5zM752.9 54h1.5v1.5h-1.5zM753.5 53.7h1.5v1.5h-1.5zM752.6 53.3h1.5v1.5h-1.5zM751.2 54.1h1.5v1.5h-1.5zM746.8 47.2h1.5v1.5h-1.5zM748.3 52.3h1.5v1.5h-1.5zM749.4 54.9h1.5v1.5h-1.5zM751.5 52.2h1.5v1.5h-1.5zM749 54.4h1.5v1.5h-1.5zM753.7 59.7h1.5v1.5h-1.5zM751.5 60.3h1.5v1.5h-1.5zM748.3 46.4h1.5v1.5h-1.5zM747.3 46.8h1.5v1.5h-1.5zM746.7 56.6h1.5v1.5h-1.5zM753.5 46.6h1.5v1.5h-1.5zM751.8 62.7h1.5v1.5h-1.5zM752.3 47.4h1.5v1.5h-1.5zM751.4 49.4h1.5v1.5h-1.5zM747.9 44.6h1.5v1.5h-1.5zM750.5 62.3h1.5v1.5h-1.5zM747.4 47.3h1.5v1.5h-1.5zM749.5 45.2h1.5v1.5h-1.5zM750.1 58.6h1.5v1.5h-1.5zM750.1 45.2h1.5v1.5h-1.5zM746.8 48.3h1.5v1.5h-1.5zM751.6 62.4h1.5v1.5h-1.5zM750.4 46.4h1.5v1.5h-1.5zM748.2 52.5h1.5v1.5h-1.5zM747.4 46.7h1.5v1.5h-1.5zM749.9 60.8h1.5v1.5h-1.5zM748.4 61.6h1.5v1.5h-1.5zM753.2 52.8h1.5v1.5h-1.5zM748.3 48h1.5v1.5h-1.5zM751.6 60.5h1.5v1.5h-1.5zM753.1 48.5h1.5v1.5h-1.5zM749.8 44.8h1.5v1.5h-1.5zM748.9 50.2h1.5v1.5h-1.5zM747.5 45.9h1.5v1.5h-1.5zM754 50.3h1.5v1.5h-1.5zM750.3 54.8h1.5v1.5h-1.5zM750.1 55.9h1.5v1.5h-1.5zM750.4 54h1.5v1.5h-1.5zM747.2 56.7h1.5v1.5h-1.5zM751.6 58.5h1.5v1.5h-1.5zM748.9 53.4h1.5v1.5h-1.5zM752.6 58.6h1.5v1.5h-1.5zM747 50.9h1.5v1.5h-1.5zM747.9 58.3h1.5v1.5h-1.5zM749.6 52h1.5v1.5h-1.5zM748.3 53.3h1.5v1.5h-1.5zM752 56.7h1.5v1.5h-1.5zM748.3 52.1h1.5v1.5h-1.5zM751.3 45.5h1.5v1.5h-1.5zM753.4 44.8h1.5v1.5h-1.5zM751.3 47.3h1.5v1.5h-1.5zM753.8 57.9h1.5v1.5h-1.5zM748.3 54.2h1.5v1.5h-1.5z"/>
<path fill="#e01818" fill-opacity="0.5" d="M750.3 48.5h1v1h-1zM741.1 56.4h1v1h-1zM738.6 59.9h1v1h-1zM750.6 45.2h1v1h-1zM749.2 54.5h1v1h-1zM748.4 63.5h1v1h-1zM754.4 52.6h1v1h-1zM752 60.1h1v1h-1zM754.1 45h1v1h-1zM753.5 48.8h1v1h-1zM739.8 56.3h1v1h-1zM751.9 63.5h1v1h-1zM743.8 61h1v1h-1zM738.1 63.8h1v1h-1zM742.6 55.3h1v1h-1zM739.7 45.3h1v1h-1zM737.7 56.4h1v1h-1zM747.1 60.7h1v1h-1zM752.1 52.9h1v1h-1zM752 48.4h1v1h-1zM752.6 49.4h1v1h-1zM753.6 52.1h1v1h-1zM744.9 54.8h1v1h-1zM738.6 45.9h1v1h-1zM746.9 58.7h1v1h-1zM738.4 52.5h1v1h-1zM743.9 60h1v1h-1zM754.4 46.2h1v1h-1zM746.8 46.5h1v1h-1zM750.9 63.2h1v1h-1zM749.6 56h1v1h-1zM738.3 46.3h1v1h-1zM741.7 46h1v1h-1zM739.9 63.6h1v1h-1zM743.5 62.5h1v1h-1zM750.5 59.9h1v1h-1zM753.1 58.4h1v1h-1zM743.5 53.8h1v1h-1zM744.2 45h1v1h-1zM738.3 55.8h1v1h-1zM746.5 63.8h1v1h-1zM748.2 60.8h1v1h-1zM745.7 56h1v1h-1zM751.5 45.1h1v1h-1zM737.9 53h1v1h-1zM742.6 53h1v1h-1zM738.7 47.8h1v1h-1zM739.3 56.6h1v1h-1zM738.2 44.8h1v1h-1zM749.2 52.9h1v1h-1zM738 63.2h1v1h-1zM745.9 63.1h1v1h-1zM748.6 55.3h1v1h-1zM744.3 46.4h1v1h-1zM754 53.2h1v1h-1zM742.8 47.3h1v1h-1zM747.7 64.1h1v1h-1zM744.4 60.5h1v1h-1zM749.5 54.7h1v1h-1zM748.7 59h1v1h-1z"/>
<path fill="#e01818" fill-opacity="0.55" d="M748.6 111.3h1v1h-1zM753.9 97.7h1v1h-1zM738.7 114.7h1v1h-1zM743.3 102.5h1v1h-1zM751.5 97.4h1v1h-1zM753.1 105.7h1v1h-1zM738.8 117.2h1v1h-1zM747.3 94.5h1v1h-1zM751.9 113.3h1v1h-1zM750.2 110.2h1v1h-1zM754.5 92.7h1v1h-1zM754.2 109.8h1v1h-1zM741.9 108.9h1v1h-1zM743.3 110h1v1h-1zM749.6 106.6h1v1h-1zM739.3 103h1v1h-1zM742.7 112.6h1v1h-1zM753.4 113.3h1v1h-1zM746.6 97h1v1h-1zM749.6 99.6h1v1h-1zM754.6 97.1h1v1h-1zM754.1 92.8h1v1h-1zM750.9 101.8h1v1h-1zM747.4 103.6h1v1h-1zM742.8 104.2h1v1h-1zM751.5 101.9h1v1h-1zM743.7 113.5h1v1h-1zM740.6 102h1v1h-1zM746.4 106.4h1v1h-1zM740.5 113h1v1h-1zM745.9 94.9h1v1h-1zM743.4 93.9h1v1h-1zM743.4 95.5h1v1h-1zM741.9 107.4h1v1h-1zM749.3 100.5h1v1h-1zM745.5 106.3h1v1h-1zM747.6 116.9h1v1h-1zM741.3 113.3h1v1h-1zM747 116.6h1v1h-1zM749.2 92.5h1v1h-1zM738.6 113.9h1v1h-1zM742.6 109h1v1h-1zM739.3 107.6h1v1h-1zM744.6 104.8h1v1h-1zM737.7 116.6h1v1h-1zM751.9 112.4h1v1h-1zM748.2 98.5h1v1h-1zM740.9 115h1v1h-1zM743.2 102.8h1v1h-1zM752.6 101.7h1v1h-1zM754.5 97.4h1v1h-1zM752.1 100.4h1v1h-1zM739.9 104.9h1v1h-1zM751.6 95.2h1v1h-1zM747.7 115.5h1v1h-1zM738.1 105.7h1v1h-1zM742.9 105h1v1h-1zM751.7 104.2h1v1h-1zM742.8 97.9h1v1h-1zM751.5 96.5h1v1h-1zM749.8 119.3h1v1h-1zM749.4 116.7h1v1h-1zM739.7 108.8h1v1h-1zM747.9 94.5h1v1h-1zM745 100.7h1v1h-1zM739.7 103.2h1v1h-1zM739.1 117.2h1v1h-1zM740.4 107.1h1v1h-1zM749.7 92.9h1v1h-1zM753.6 117.2h1v1h-1zM747.5 106.5h1v1h-1zM752.1 108.7h1v1h-1zM741.4 117.5h1v1h-1zM741 107.5h1v1h-1zM746.9 113.1h1v1h-1zM743.8 109.5h1v1h-1zM741.1 111.2h1v1h-1zM740.4 101.8h1v1h-1zM746.5 112h1v1h-1zM753 118.4h1v1h-1zM745.6 94.2h1v1h-1zM747.7 108.1h1v1h-1zM750.1 93.7h1v1h-1zM751.1 95.9h1v1h-1zM751.7 118.9h1v1h-1zM746.9 104.5h1v1h-1zM748.8 96h1v1h-1zM748.8 115.3h1v1h-1zM753.5 111.3h1v1h-1zM749.8 118.4h1v1h-1z"/>
<path fill="#e01818" fill-opacity="0.55" d="M480.9 359.4h1v1h-1zM494.9 360.1h1v1h-1zM481.4 364.5h1v1h-1zM489.7 360.7h1v1h-1zM489 370.4h1v1h-1zM481.4 360.3h1v1h-1zM478.4 361.1h1v1h-1zM480.4 372.6h1v1h-1zM486.7 372.6h1v1h-1zM481.4 371.3h1v1h-1zM492.3 368h1v1h-1zM496.8 361.6h1v1h-1zM484.3 367.9h1v1h-1zM481.4 357.6h1v1h-1zM500 367.1h1v1h-1zM485.1 365.4h1v1h-1zM504 361.7h1v1h-1zM481.2 363.8h1v1h-1zM482.5 363.1h1v1h-1zM478.5 369.2h1v1h-1zM501 363.2h1v1h-1zM488.5 361.4h1v1h-1zM505.3 370.9h1v1h-1zM496.8 360.1h1v1h-1zM482.6 369.2h1v1h-1zM483.1 368h1v1h-1zM489.8 357.9h1v1h-1zM483.3 371.5h1v1h-1zM486.9 367.8h1v1h-1zM499.7 363.5h1v1h-1zM492.1 370.6h1v1h-1zM498.7 365.4h1v1h-1zM493.4 364.3h1v1h-1zM490 367.7h1v1h-1zM484.7 370.7h1v1h-1zM486.1 361h1v1h-1zM505.5 357.6h1v1h-1zM489.4 365.9h1v1h-1zM490.4 370.2h1v1h-1zM497.1 365.2h1v1h-1zM477.7 372.6h1v1h-1zM488.2 362.9h1v1h-1zM484 360.4h1v1h-1zM480.6 359.4h1v1h-1zM497.1 362h1v1h-1zM492.4 367.4h1v1h-1zM479.7 369.1h1v1h-1zM483.2 369.8h1v1h-1zM503.3 364.3h1v1h-1zM486.9 365.2h1v1h-1zM503.7 372.5h1v1h-1zM498.4 363.6h1v1h-1zM489.2 368.1h1v1h-1zM487.2 369.6h1v1h-1zM487.5 366.3h1v1h-1zM492.7 365.5h1v1h-1zM502 371.1h1v1h-1zM500.2 367.3h1v1h-1zM489.1 363.4h1v1h-1zM491 370.5h1v1h-1zM498.9 358.8h1v1h-1zM484.7 358.4h1v1h-1zM486.4 370.1h1v1h-1zM495.8 357.7h1v1h-1zM499.4 366.9h1v1h-1zM491.4 357.9h1v1h-1zM478.1 358.5h1v1h-1zM503 363.7h1v1h-1zM479.3 369.9h1v1h-1zM491.6 362.7h1v1h-1zM489 360.6h1v1h-1zM478.6 369.5h1v1h-1zM503.2 362.8h1v1h-1zM494.3 370.8h1v1h-1zM478.3 372.8h1v1h-1zM481 363.1h1v1h-1zM479.4 360.5h1v1h-1zM482.2 361.3h1v1h-1zM490.7 367.2h1v1h-1zM492 368.8h1v1h-1zM505 360.8h1v1h-1zM488 366.4h1v1h-1zM483.5 358h1v1h-1zM501.7 365.3h1v1h-1zM488.4 367.4h1v1h-1zM485.6 363.1h1v1h-1zM481.9 364h1v1h-1zM486.8 365.9h1v1h-1zM503 369.5h1v1h-1zM496.7 366.4h1v1h-1zM502.6 360h1v1h-1zM505.2 359.9h1v1h-1zM503.1 365h1v1h-1zM498 372.4h1v1h-1zM478.6 362.3h1v1h-1zM481.2 362.2h1v1h-1zM484.9 367.6h1v1h-1zM501.9 361.4h1v1h-1zM489.5 359.2h1v1h-1zM480 359.9h1v1h-1zM479.4 370.4h1v1h-1zM486.1 367.9h1v1h-1zM499.8 361.1h1v1h-1zM490.8 367.1h1v1h-1zM490.8 367h1v1h-1zM479.8 370.6h1v1h-1zM506.4 372.3h1v1h-1zM500.7 366.5h1v1h-1zM483.9 359h1v1h-1zM490.3 360.4h1v1h-1zM495.4 371.8h1v1h-1zM485.5 366.4h1v1h-1zM484.1 372.3h1v1h-1zM496.5 366.6h1v1h-1zM492.5 361h1v1h-1zM504.9 364.9h1v1h-1zM505.4 369.3h1v1h-1zM503.4 362.4h1v1h-1zM496.3 366.7h1v1h-1zM479.6 370.6h1v1h-1z"/>
<path fill="#e01010" fill-opacity="0.8" d="M438.1 370.2h1.5v1.5h-1.5zM435.2 367.5h1.5v1.5h-1.5zM432.9 372.3h1.5v1.5h-1.5zM431 363.9h1.5v1.5h-1.5zM430.4 365h1.5v1.5h-1.5zM431.7 365.1h1.5v1.5h-1.5zM427.6 365.6h1.5v1.5h-1.5zM431.4 368h1.5v1.5h-1.5zM429.3 363.1h1.5v1.5h-1.5zM429.3 367.8h1.5v1.5h-1.5zM432.8 369.7h1.5v1.5h-1.5zM440.5 366.5h1.5v1.5h-1.5zM427.4 369.6h1.5v1.5h-1.5zM439.6 366.3h1.5v1.5h-1.5zM437.8 365.4h1.5v1.5h-1.5zM442.5 370.7h1.5v1.5h-1.5zM440.3 371.8h1.5v1.5h-1.5zM429.9 367.8h1.5v1.5h-1.5zM439.1 370.3h1.5v1.5h-1.5zM432.8 363.8h1.5v1.5h-1.5zM437.2 363.4h1.5v1.5h-1.5zM438.6 362.5h1.5v1.5h-1.5zM434 367.1h1.5v1.5h-1.5zM427.8 367.2h1.5v1.5h-1.5zM434.9 366.1h1.5v1.5h-1.5zM442.2 371h1.5v1.5h-1.5zM442.1 364.8h1.5v1.5h-1.5zM426.1 366.1h1.5v1.5h-1.5zM427.7 369.4h1.5v1.5h-1.5zM430.5 363.7h1.5v1.5h-1.5zM430.8 366.4h1.5v1.5h-1.5zM439.2 367h1.5v1.5h-1.5zM431.2 369.1h1.5v1.5h-1.5zM426.4 364.5h1.5v1.5h-1.5zM438.3 369.8h1.5v1.5h-1.5zM427.5 363.1h1.5v1.5h-1.5zM435 368.9h1.5v1.5h-1.5zM425.9 366.7h1.5v1.5h-1.5zM430.7 363.2h1.5v1.5h-1.5zM428.8 365.2h1.5v1.5h-1.5zM434.2 363.5h1.5v1.5h-1.5zM437.1 371.1h1.5v1.5h-1.5zM438.3 363.1h1.5v1.5h-1.5zM437.6 368.7h1.5v1.5h-1.5zM425.8 366.2h1.5v1.5h-1.5zM437.7 371.8h1.5v1.5h-1.5zM442.8 368h1.5v1.5h-1.5zM436.5 371.9h1.5v1.5h-1.5zM429.5 367.4h1.5v1.5h-1.5zM426.7 370.1h1.5v1.5h-1.5zM437.7 364.5h1.5v1.5h-1.5zM429.2 367.6h1.5v1.5h-1.5zM439.5 363.7h1.5v1.5h-1.5zM431.6 367.5h1.5v1.5h-1.5zM430.4 371.2h1.5v1.5h-1.5zM439 371.9h1.5v1.5h-1.5zM437.5 369.1h1.5v1.5h-1.5zM430.9 367.4h1.5v1.5h-1.5zM433.5 367.1h1.5v1.5h-1.5zM426.8 370.8h1.5v1.5h-1.5zM428.5 366.9h1.5v1.5h-1.5zM442.8 367.5h1.5v1.5h-1.5zM441.7 365h1.5v1.5h-1.5zM434.2 366.2h1.5v1.5h-1.5zM431.6 366.1h1.5v1.5h-1.5zM433.8 370.7h1.5v1.5h-1.5zM443.6 363.3h1.5v1.5h-1.5zM438 367.6h1.5v1.5h-1.5zM433.2 362.8h1.5v1.5h-1.5zM432.3 365.5h1.5v1.5h-1.5zM432.4 368.3h1.5v1.5h-1.5zM432.4 365.3h1.5v1.5h-1.5zM430.7 372.1h1.5v1.5h-1.5zM432.8 372h1.5v1.5h-1.5zM428.7 369h1.5v1.5h-1.5zM435.9 369.4h1.5v1.5h-1.5zM435.1 371.1h1.5v1.5h-1.5zM436.5 362.9h1.5v1.5h-1.5zM438.2 368.5h1.5v1.5h-1.5zM430.1 369.6h1.5v1.5h-1.5zM441.1 365.1h1.5v1.5h-1.5zM428.3 365.3h1.5v1.5h-1.5zM436.5 366.8h1.5v1.5h-1.5zM426.9 366.9h1.5v1.5h-1.5zM435.7 368.1h1.5v1.5h-1.5zM432.1 370.2h1.5v1.5h-1.5zM438.1 365h1.5v1.5h-1.5zM432 371.6h1.5v1.5h-1.5zM429.7 366.8h1.5v1.5h-1.5zM431.2 368.2h1.5v1.5h-1.5z"/>
<line x1="425.6" y1="44.4" x2="755.6" y2="373.8" stroke="#ff1010" stroke-width="2.8"/>
<path d="M449.1 67.9h5v5h-5zM460.1 78.9h4.5v4.5h-4.5zM465.1 83.8h4.5v4.5h-4.5zM472.6 91.4h3.5v3.5h-3.5zM481 99.8h3v3h-3zM484.9 103.7h3v3h-3zM499.4 118.2h4.5v4.5h-4.5zM511 129.8h4v4h-4zM516.1 134.9h3.5v3.5h-3.5zM536 154.8h4v4h-4zM543.3 162.1h4v4h-4zM549.3 168.1h3v3h-3zM560.5 179.3h4v4h-4zM565.5 184.3h4v4h-4zM576.5 195.3h3v3h-3zM579.7 198.5h3v3h-3zM593.3 212.1h4v4h-4zM597.9 216.7h3.5v3.5h-3.5zM606.7 225.5h8v8h-8zM627.8 246.5h4.5v4.5h-4.5zM633.8 252.6h3v3h-3zM654.2 273h6.5v6.5h-6.5zM662.1 280.9h3.5v3.5h-3.5zM666.3 285.1h3v3h-3zM672.4 291.2h9v9h-9zM690.8 309.5h3.5v3.5h-3.5zM707.4 326.2h4v4h-4zM713.3 332.1h5v5h-5zM728.1 346.9h3.5v3.5h-3.5zM733 351.8h4.5v4.5h-4.5z" fill="none" stroke="#3ee020" stroke-width="1.6"/><path d="M446.2 65h2v2h-2zM453.8 72.6h2v2h-2zM456.1 74.9h2v2h-2zM458.5 77.3h2v2h-2zM469 87.8h2v2h-2zM478 96.8h2v2h-2zM488.9 107.7h2v2h-2zM491.2 110h2v2h-2zM493.9 112.7h2v2h-2zM496.5 115.3h2v2h-2zM505 123.8h2v2h-2zM532 150.8h2v2h-2zM533.8 152.6h2v2h-2zM540.2 159h2v2h-2zM547.2 166h2v2h-2zM558 176.8h2v2h-2zM570.9 189.7h2v2h-2zM574 192.8h2v2h-2zM590.8 209.6h2v2h-2zM623.2 242h2v2h-2zM637.8 256.6h2v2h-2zM650.9 269.7h2v2h-2zM685.6 304.4h2v2h-2z" fill="#3ee020"/>
<polyline points="425.8,44.4 425.8,127.7 508.8,127.7 508.8,161.1 542.3,161.1 542.3,192 573.6,192 573.6,222.1 603.6,222.1 603.6,251.4 632.7,251.4 632.7,279.5 661.8,279.5 661.8,306.2 688,306.2 688,330.6 712.5,330.6 712.5,356.1 737.9,356.1" fill="none" stroke="#2222dd" stroke-width="1.8"/>
<path d="M425.6 39.2v4.6M466.4 39.2v4.6M507.3 39.2v4.6M548.1 39.2v4.6M588.9 39.2v4.6M629.8 39.2v4.6M670.6 39.2v4.6M711.4 39.2v4.6M752.2 39.2v4.6" stroke="#2222dd" stroke-width="1.1"/>
<path d="M421 44.4h4.1M421 85.2h4.1M421 126.1h4.1M421 166.9h4.1M421 207.7h4.1M421 248.5h4.1M421 289.4h4.1M421 330.2h4.1M421 371h4.1" stroke="#1e8c1e" stroke-width="1.1"/>
<text x="441.6" y="38" font-size="6.3" font-weight="bold" fill="#2222dd" text-anchor="end">0 MB</text>
<text x="523.3" y="38" font-size="6.3" font-weight="bold" fill="#2222dd" text-anchor="end">100 MB</text>
<text x="605" y="38" font-size="6.3" font-weight="bold" fill="#2222dd" text-anchor="end">200 MB</text>
<text x="686.6" y="38" font-size="6.3" font-weight="bold" fill="#2222dd" text-anchor="end">300 MB</text>
<text x="768.3" y="38" font-size="6.3" font-weight="bold" fill="#2222dd" text-anchor="end">400 MB</text>
<text x="420.3" y="43.9" font-size="6.3" font-weight="bold" fill="#1e8c1e" text-anchor="end" transform="rotate(-90 420.3 43.9)">0 MB</text>
<text x="420.3" y="110.1" font-size="6.3" font-weight="bold" fill="#1e8c1e" text-anchor="end" transform="rotate(-90 420.3 110.1)">100 MB</text>
<text x="420.3" y="191.7" font-size="6.3" font-weight="bold" fill="#1e8c1e" text-anchor="end" transform="rotate(-90 420.3 191.7)">200 MB</text>
<text x="420.3" y="273.4" font-size="6.3" font-weight="bold" fill="#1e8c1e" text-anchor="end" transform="rotate(-90 420.3 273.4)">300 MB</text>
<text x="420.3" y="352" font-size="6.3" font-weight="bold" fill="#1e8c1e" text-anchor="end" transform="rotate(-90 420.3 352)">400 MB</text>
<rect x="36.2" y="436.7" width="329.6" height="330.1" fill="#fff7f7"/>
<rect x="36.2" y="436.7" width="329.6" height="330.1" filter="url(#nzB)" opacity="0.35"/>
<path fill="#e83030" fill-opacity="0.12" d="M286.1 473.2h1v4.9h-1zM296.6 484.6h1v8.3h-1zM206.1 526.5h1v36h-1zM96.6 686h1v11.5h-1zM193 678.9h1v18.6h-1zM277.1 620.7h1v5.7h-1zM266.1 589.9h1v15.2h-1zM85.8 657.5h1v25h-1zM280.8 637.8h1v38.6h-1zM183.9 618.1h1v26h-1zM103.6 685.3h1v12.2h-1zM239.9 684.7h1v12.8h-1zM73.3 651.1h1v28h-1zM84.5 449.5h1v23.1h-1zM44.6 677h1v20.5h-1zM171.1 543.1h1v27.8h-1zM275.2 516.5h1v17.5h-1zM188.1 513.9h1v25.4h-1zM177.8 549.3h1v28.2h-1zM174 459.6h1v39.9h-1zM129 548.9h1v18.5h-1zM278.6 684.1h1v13.4h-1zM140.7 461.8h1v36.2h-1zM80.9 578.7h1v16.6h-1zM121.8 529.5h1v10.9h-1zM45.8 575.8h1v32.7h-1zM205 489.1h1v29h-1zM49.8 543.4h1v33.8h-1zM276.4 556.4h1v34.5h-1zM166.2 572.8h1v25h-1zM294.7 629.9h1v21h-1zM225.9 603.8h1v16.7h-1zM240.7 649.7h1v25.9h-1zM282.1 441.4h1v22h-1zM201.7 525.2h1v10.2h-1zM216.7 549.6h1v13.7h-1zM47.1 688h1v9.5h-1zM67 492.9h1v13.2h-1zM262.1 483.6h1v13.9h-1zM61.6 558.8h1v11.5h-1zM125.9 627.6h1v37.3h-1zM253.7 446.6h1v17.6h-1zM257.6 445.3h1v11.3h-1zM164 536.1h1v31h-1zM223.5 557.4h1v13h-1zM96.4 505.9h1v6.3h-1zM209.8 477.7h1v36h-1zM204.7 451.5h1v22h-1zM193.6 447.7h1v21.5h-1zM44 635.8h1v4.1h-1zM201 692.7h1v4.8h-1zM97 575.6h1v9h-1zM125.5 661.1h1v33.4h-1zM38.6 535.4h1v27h-1zM82 645.2h1v36.2h-1zM180 530.8h1v34.5h-1zM169.9 485.6h1v14h-1zM77.7 654.6h1v22.4h-1zM217.9 649h1v39.1h-1zM85.9 542.1h1v35.5h-1zM234.8 537.2h1v27.6h-1zM87.1 478.7h1v5.8h-1zM135.2 498h1v22.6h-1zM289 476.4h1v24.1h-1zM261.7 592.2h1v23h-1zM236.4 442.4h1v38.1h-1zM215.2 646.3h1v33.7h-1zM61.9 454h1v10.4h-1zM167.8 680.5h1v17h-1zM143.6 598.4h1v30.6h-1zM122.9 688.8h1v8.7h-1zM225.8 670.9h1v26.6h-1zM206.3 520.2h1v14.1h-1zM98.4 451.6h1v37.3h-1zM114 442.9h1v15.4h-1zM63.1 552.3h1v16h-1zM82 560.6h1v18.9h-1zM128.5 648h1v15h-1zM177.4 664.8h1v32.7h-1zM133.9 447.2h1v38.2h-1zM170.3 493.2h1v8.6h-1zM98.5 517.4h1v9h-1zM49 695h1v2.5h-1zM65.8 561.6h1v32.8h-1zM167.8 454.7h1v16.2h-1zM135.5 674.3h1v23.2h-1zM155.9 600.5h1v5.8h-1zM215.2 646.6h1v28.1h-1zM130.3 511h1v4.4h-1zM57.6 476.9h1v20.3h-1zM239.2 493.1h1v21h-1zM202 600.2h1v4.7h-1zM276.3 588.8h1v14.9h-1zM98.6 615.7h1v37.6h-1zM124.2 540.1h1v24.1h-1zM81.8 542.1h1v37h-1zM181.3 650.5h1v13.4h-1zM262.8 640h1v12.1h-1zM174.4 613.9h1v24.6h-1zM193.2 499.1h1v23.9h-1zM128.7 644h1v17.4h-1zM291.6 587.5h1v12.2h-1zM144.6 470h1v30.5h-1zM48.2 593.9h1v15.1h-1zM238.9 469.6h1v28.5h-1zM222.4 497.3h1v8.7h-1zM133.4 605.3h1v13.4h-1zM38.5 551.4h1v33.1h-1zM77.4 681.1h1v16.4h-1zM78.1 462.7h1v17.3h-1zM160.4 482.3h1v7h-1zM166.9 502.7h1v20h-1zM153.8 617.9h1v24.8h-1zM95.7 483.4h1v34.9h-1zM49.4 468.7h1v6.5h-1zM251.7 577.2h1v37.3h-1zM199.5 523.8h1v19.5h-1zM227.2 496.8h1v32.9h-1zM142.5 447.7h1v16.4h-1zM182.3 474.8h1v36.6h-1zM277.7 569.5h1v36.6h-1zM216.1 576.5h1v9.7h-1zM284.7 675.6h1v20.3h-1zM136.6 455.8h1v26.3h-1zM259.2 537.7h1v14.4h-1zM196.1 642.8h1v10.1h-1zM109.8 603.6h1v5.5h-1zM249.2 518.7h1v34h-1zM154.8 479.7h1v4.7h-1zM65.7 504.3h1v31.3h-1zM243.3 600.7h1v15.1h-1zM209.4 627h1v17.2h-1zM57.5 558.5h1v12h-1zM85.4 538.2h1v6.7h-1zM270.4 509.6h1v36.3h-1zM228.5 439.5h1v36.4h-1zM247.3 573.2h1v35.8h-1zM161 443.2h1v9.4h-1zM117.2 659.6h1v33.9h-1zM67 527.6h1v8h-1zM95.8 528.2h1v18.9h-1zM75.3 607.5h1v12.7h-1zM268.3 561.8h1v19.5h-1zM235.9 526.3h1v13.2h-1zM68.2 513.3h1v12.4h-1zM227.9 528.9h1v29.4h-1zM108.1 454.8h1v15h-1zM138.6 673.2h1v11.2h-1zM91.4 477.2h1v13.1h-1zM286.7 678.8h1v12.2h-1zM49.2 563.1h1v25h-1zM65.3 545.3h1v31.7h-1zM36.5 623.4h1v28.7h-1zM241.3 563.2h1v20.7h-1zM171.4 472.1h1v22.5h-1zM98.7 520.1h1v5.6h-1zM77.5 451.1h1v23.5h-1zM97.8 581.1h1v22.1h-1zM97 469.7h1v25.5h-1zM212.7 616h1v22.3h-1zM187.5 443.1h1v15h-1zM245 534.7h1v7.7h-1zM146 653.4h1v7.5h-1zM65.4 566.2h1v35.4h-1zM138 501.1h1v31.6h-1zM60.8 513.4h1v25.5h-1zM257.7 660.4h1v15.7h-1zM105.6 531.1h1v8.4h-1zM107.3 635.9h1v39.2h-1zM106.7 455.5h1v30.6h-1zM288.2 643h1v18.9h-1zM230.2 634.3h1v30.8h-1zM164.7 696.2h1v1.3h-1zM97.5 548.6h1v7.2h-1zM133.9 649h1v21.5h-1zM172.9 639.1h1v7.1h-1zM128.4 562.3h1v21.8h-1zM214.8 680.1h1v17.4h-1zM178.5 614.4h1v23.4h-1zM293.4 591.7h1v25.4h-1zM139.5 545.6h1v31.5h-1zM133.5 671.5h1v26h-1zM285.3 620.3h1v24.5h-1zM131.9 441.4h1v27.8h-1zM232.2 624.6h1v31.3h-1zM45.5 614.4h1v14.1h-1zM137.5 662.3h1v18.6h-1zM158 449.9h1v10.5h-1zM91 492.6h1v22.8h-1zM48.6 459.8h1v7.1h-1zM227.5 688.8h1v8.7h-1zM170.5 470.6h1v32.2h-1zM70 456.6h1v22.4h-1zM261.1 517.4h1v35.1h-1zM122.8 687.8h1v9.7h-1zM261.8 692.5h1v5h-1zM87.4 570.7h1v23.6h-1zM224.6 496.4h1v24.8h-1zM110.3 484.6h1v20.2h-1zM245.8 580.6h1v16.8h-1zM95.1 529.9h1v18.4h-1zM107.1 517.5h1v12.2h-1zM112.9 611.6h1v26.5h-1zM199.6 676.7h1v20.8h-1zM70.1 541.6h1v22.9h-1zM230.9 574.5h1v7.3h-1zM160.3 606.9h1v32.3h-1zM152.5 492.3h1v5.2h-1zM167.4 631.5h1v8h-1zM172.6 591.8h1v24.2h-1zM96.6 460.6h1v4.8h-1zM115.8 669.7h1v19.1h-1zM293.6 650.9h1v25h-1zM150.9 582.8h1v34.2h-1zM123.4 477.3h1v36.4h-1zM200.8 534.9h1v18.4h-1zM62.6 584.1h1v32.3h-1zM166.2 617.9h1v30.6h-1zM122.5 602.4h1v39h-1zM222.8 484.2h1v27.9h-1zM204.3 638.2h1v29.3h-1zM274.2 690.3h1v7.2h-1zM161.3 448.5h1v39.5h-1zM64 547.5h1v26.2h-1zM148.1 481.3h1v22.1h-1zM94.5 564h1v29.7h-1zM114.2 552.7h1v26.7h-1zM174.9 644.8h1v36.1h-1zM288.4 479.6h1v21.4h-1zM67 618.1h1v18.3h-1zM257.7 562.3h1v32.7h-1zM44.2 596h1v18.9h-1zM253.4 463.5h1v7.2h-1zM215.5 521.5h1v19.7h-1zM141.6 692.7h1v4.8h-1zM253.4 654.7h1v34.9h-1zM152.8 512.1h1v22.5h-1zM269.5 666.2h1v21.2h-1zM272.7 634.8h1v5.5h-1zM201.4 642.9h1v5.6h-1zM134.7 604.4h1v22.3h-1zM174.4 460.1h1v13.4h-1zM262.8 527.4h1v21.2h-1zM190.2 510.1h1v18.9h-1zM168.1 662.4h1v34.3h-1zM82.3 567.4h1v31.1h-1zM270 574.6h1v26.7h-1zM204.6 610.1h1v36.2h-1zM293.2 694.3h1v3.2h-1zM223.1 537.5h1v14.1h-1zM62.2 673.3h1v24.2h-1zM174.1 566h1v11.4h-1zM278 633.5h1v10h-1zM185.9 695.4h1v2.1h-1zM133.5 531.1h1v17.4h-1zM66.8 599.9h1v12.8h-1zM213.7 558.3h1v34.3h-1zM230.9 659.7h1v9.6h-1zM243.4 637.9h1v14.5h-1zM36.4 462.5h1v31.8h-1z"/>
<path fill="#e83030" fill-opacity="0.14" d="M134.5 677.5v1h25.9v-1zM92 663.2v1h20.5v-1zM47.3 684.3v1h10.6v-1zM116 546.9v1h19.3v-1zM68.6 615.1v1h25.6v-1zM169.8 643.1v1h20.2v-1zM251.3 483.7v1h13.3v-1zM158.6 463.7v1h29.3v-1zM202.1 462.2v1h19.2v-1zM144.3 485.9v1h8.2v-1zM156.4 455v1h18.6v-1zM170.5 469.7v1h26.8v-1zM46.8 481.4v1h25.2v-1zM93.8 546.9v1h18.5v-1zM149.8 565.1v1h17.1v-1zM162.1 451.7v1h25.2v-1zM110 449.1v1h14.6v-1zM248.6 600.1v1h15.9v-1zM160.9 493.8v1h20.1v-1zM127.6 453.4v1h7.4v-1zM60.4 614.5v1h26.9v-1zM233.2 493.7v1h7.8v-1zM284.1 533.9v1h8.3v-1zM185.2 597.5v1h18.1v-1zM154.1 515.6v1h16.9v-1zM155.5 613.7v1h15.7v-1zM128.8 692.9v1h6.9v-1zM233.3 545.1v1h24.9v-1zM220.9 583.8v1h19.9v-1zM96.1 440.9v1h23.4v-1zM103.7 465.6v1h25.1v-1zM190.3 445.1v1h17.5v-1zM78.9 661.5v1h11v-1zM281.3 595.8v1h6v-1zM142.8 687.8v1h22.2v-1zM76.6 532.3v1h11.1v-1zM60.6 590.9v1h22.1v-1zM92.8 580.1v1h26.4v-1zM268.9 481.2v1h5.9v-1zM274.1 521.5v1h8.3v-1zM244.5 505.3v1h22.7v-1zM216.4 512.7v1h16v-1zM111.7 646.2v1h11.4v-1zM107.6 659.5v1h11.2v-1zM150.1 570.7v1h4.1v-1zM111 629.9v1h29.5v-1zM125.3 560.6v1h5.5v-1zM163.5 530.2v1h17.1v-1zM114.1 518.3v1h27.7v-1zM238.9 530.2v1h5.8v-1zM49.8 461.8v1h7.4v-1zM188.2 572.1v1h7.4v-1zM265.2 610.9v1h22.4v-1zM269.8 518.2v1h27.5v-1zM290.8 672.8v1h5.2v-1zM258.1 692.4v1h6.8v-1zM261.9 648.5v1h4.8v-1zM220.8 634v1h23.5v-1zM51.3 688.6v1h5.9v-1zM58.3 682.8v1h16.5v-1zM82.7 539.2v1h20.2v-1zM106.2 674.3v1h21.6v-1zM137 532v1h7v-1zM293.3 516.5v1h4.7v-1zM177 576.3v1h8.6v-1zM167.3 462.3v1h15.6v-1zM196.2 677.2v1h9.7v-1zM83.5 641.4v1h7.4v-1zM87 561v1h15.1v-1zM295.1 453.7v1h2.9v-1zM156.9 472.6v1h10.2v-1zM273.2 482.6v1h15v-1zM46.4 563.2v1h22.2v-1zM228.2 525.1v1h15.1v-1zM251.5 664.7v1h15.6v-1zM50.6 680.6v1h13v-1zM160.3 448.9v1h4.6v-1zM65.8 578.1v1h10.8v-1zM243.2 474.6v1h21v-1zM41.8 530v1h28.5v-1zM103.2 518.3v1h4.8v-1zM263.7 564.8v1h10.5v-1zM182.4 506.1v1h27.1v-1zM147.1 454.2v1h9.7v-1zM50.1 635v1h6.7v-1zM162.6 590.8v1h6.4v-1zM203.5 599.8v1h28.2v-1zM280.5 690.9v1h17.5v-1zM163 548.4v1h7.4v-1zM191.4 696.3v1h17.1v-1zM258.8 505.4v1h13.8v-1zM146.6 688.8v1h13.6v-1zM234.5 475.2v1h23.7v-1zM159.6 694.3v1h4.4v-1zM104.4 667.1v1h15.4v-1zM109 662.7v1h15.1v-1zM265.5 578.5v1h5.6v-1zM62.2 662.1v1h27.7v-1zM80.3 695v1h25.8v-1zM175.6 637.3v1h17.8v-1zM45.1 513v1h12.8v-1zM269.5 507.9v1h22.1v-1zM201.3 467.2v1h15.9v-1zM179.5 625.2v1h13.2v-1zM293.7 645.9v1h4.3v-1zM266 595.3v1h28.4v-1zM95.9 637.5v1h22.6v-1zM140.4 528.9v1h19.6v-1zM291.4 614.9v1h6.6v-1zM215 655.5v1h19.3v-1zM221.7 446.5v1h26.5v-1zM287.4 586.7v1h10.6v-1zM279.9 583.6v1h18.1v-1zM179 584.8v1h27.8v-1zM277.1 591.6v1h18.1v-1zM180.3 558.4v1h13.6v-1zM95.4 511.7v1h9.8v-1zM282 542.4v1h16v-1zM159.1 695.5v1h19.4v-1zM125.5 547.1v1h11v-1z"/>
<path fill="#e02020" fill-opacity="0.4" d="M79.2 615.9h1v1h-1zM201.8 561.2h1v1h-1zM92.5 642.6h1v1h-1zM246.9 569.8h1v1h-1zM167.9 498h1v1h-1zM37 533.1h1v1h-1zM188.9 454.7h1v1h-1zM243.2 497h1v1h-1zM96.9 447.7h1v1h-1zM296.4 628.6h1v1h-1zM264.4 596.7h1v1h-1zM45.1 522.2h1v1h-1zM166 466.8h1v1h-1zM284.5 532.4h1v1h-1zM76.6 649.1h1v1h-1zM68.8 677.8h1v1h-1zM154.4 580.1h1v1h-1zM125.6 562.6h1v1h-1zM84.9 446.3h1v1h-1zM262 497.7h1v1h-1zM239.7 490.9h1v1h-1zM288.9 669h1v1h-1zM233 634.9h1v1h-1zM187.7 626.3h1v1h-1zM68.1 560.4h1v1h-1zM251.9 488.9h1v1h-1zM277 667.3h1v1h-1zM143 531.6h1v1h-1zM153.9 536.9h1v1h-1zM295.7 537.1h1v1h-1zM43.2 460.9h1v1h-1zM223.5 694.6h1v1h-1zM165.6 564.4h1v1h-1zM179.8 631.1h1v1h-1zM94.1 594.9h1v1h-1zM181.3 598.5h1v1h-1zM83.3 480.9h1v1h-1zM127 677.6h1v1h-1zM126.6 591.9h1v1h-1zM116.2 463.5h1v1h-1zM53.3 648.1h1v1h-1zM238.8 534.1h1v1h-1zM214.4 612.3h1v1h-1zM270.6 685.7h1v1h-1zM142.3 693.7h1v1h-1zM286.9 590.1h1v1h-1zM266.5 564.2h1v1h-1zM134.1 500.9h1v1h-1zM264.7 478.9h1v1h-1zM54.3 645.9h1v1h-1zM238 562.2h1v1h-1zM254.5 450.3h1v1h-1zM103.5 512h1v1h-1zM145.6 481h1v1h-1zM54.3 524.5h1v1h-1zM270.7 692.2h1v1h-1zM230.7 561.1h1v1h-1zM102 685.8h1v1h-1zM173.3 626h1v1h-1zM43.6 491.8h1v1h-1zM254.8 643.3h1v1h-1zM266.1 592.9h1v1h-1zM147.3 587.7h1v1h-1zM257.7 516.7h1v1h-1zM175.6 508.4h1v1h-1zM236.6 439.4h1v1h-1zM214.9 684.5h1v1h-1zM42.3 590.9h1v1h-1zM204.1 658h1v1h-1zM188.6 503.5h1v1h-1zM142 685.8h1v1h-1zM272.4 471.4h1v1h-1zM60.9 461.1h1v1h-1zM42.8 552.8h1v1h-1zM72.9 662h1v1h-1zM207.1 469.6h1v1h-1zM176.7 520.9h1v1h-1zM165 493.8h1v1h-1zM79.5 484.5h1v1h-1zM134.7 621.2h1v1h-1zM179.6 448.7h1v1h-1zM221.6 663.7h1v1h-1zM238.1 642.1h1v1h-1zM38.2 557.2h1v1h-1zM52.8 635.2h1v1h-1zM81.9 621.5h1v1h-1zM102.2 617.7h1v1h-1zM118 447.6h1v1h-1zM137.6 517.1h1v1h-1zM271.1 513.3h1v1h-1zM167.4 579.4h1v1h-1zM283.5 462.3h1v1h-1zM193 568.7h1v1h-1zM227.8 688h1v1h-1zM117.1 618.4h1v1h-1zM173.3 582.4h1v1h-1zM52.8 648.4h1v1h-1zM291 529h1v1h-1zM119.2 694.7h1v1h-1zM64.3 456.5h1v1h-1zM55.3 648.3h1v1h-1zM234.4 553.1h1v1h-1zM198.3 441.8h1v1h-1zM204.3 551.7h1v1h-1zM171.1 537.9h1v1h-1zM140.9 495.3h1v1h-1zM48.9 549.4h1v1h-1zM100.6 619.6h1v1h-1zM249.4 624.7h1v1h-1zM155.1 498.1h1v1h-1zM136.7 563.2h1v1h-1zM201 686.9h1v1h-1zM58.5 561.3h1v1h-1zM164.5 623h1v1h-1zM268.4 639.2h1v1h-1zM199.7 633.8h1v1h-1zM210.4 659.8h1v1h-1zM218.5 614.1h1v1h-1zM100.2 674.9h1v1h-1zM136.9 596.4h1v1h-1zM251.3 687.1h1v1h-1zM294.2 438.4h1v1h-1zM117.7 517.7h1v1h-1zM138.2 474.5h1v1h-1zM180.5 457.4h1v1h-1zM115.1 681.8h1v1h-1zM229.8 556.8h1v1h-1zM64.4 685.1h1v1h-1zM219.8 490.2h1v1h-1zM123.6 603.4h1v1h-1zM214 504.5h1v1h-1zM284.3 520.4h1v1h-1zM102.5 656.3h1v1h-1zM76.2 613.7h1v1h-1zM88.3 592.1h1v1h-1zM108.5 535.2h1v1h-1zM281.5 558h1v1h-1zM150.1 597h1v1h-1zM109.4 482h1v1h-1zM136.5 507.5h1v1h-1zM85.3 686.3h1v1h-1zM45.2 647.3h1v1h-1zM280 619.8h1v1h-1zM41.2 566.9h1v1h-1zM46.4 594.6h1v1h-1zM218.9 499.1h1v1h-1zM38.2 578.1h1v1h-1zM60.9 517h1v1h-1zM154.6 669.1h1v1h-1zM132.7 471.8h1v1h-1zM242.7 650.3h1v1h-1zM174.3 449.5h1v1h-1zM85.1 541.4h1v1h-1zM180.1 495.2h1v1h-1zM245.5 655.8h1v1h-1zM277.5 666.2h1v1h-1zM40.8 587.9h1v1h-1zM57.2 670.4h1v1h-1zM231 634h1v1h-1zM85.3 452.2h1v1h-1zM248.8 594.3h1v1h-1zM198 559.1h1v1h-1zM244.9 524.5h1v1h-1zM106.5 528.4h1v1h-1zM113.9 599.6h1v1h-1zM268.4 455.1h1v1h-1zM53.8 569.7h1v1h-1zM213 486h1v1h-1zM106.6 452h1v1h-1zM45.9 565.3h1v1h-1zM213.7 606.4h1v1h-1zM77.5 463.7h1v1h-1zM279 576.6h1v1h-1zM142.7 616.2h1v1h-1zM226 573h1v1h-1zM56.6 651.6h1v1h-1zM91.9 447.2h1v1h-1zM128.1 575.1h1v1h-1zM200 481.9h1v1h-1zM221.3 565h1v1h-1zM78.5 657.8h1v1h-1zM246.6 672.2h1v1h-1zM213.4 493.2h1v1h-1zM239 671.2h1v1h-1zM175.3 672.7h1v1h-1zM289.2 538.1h1v1h-1zM281.8 680.1h1v1h-1zM243.2 439.6h1v1h-1zM128 596.1h1v1h-1zM194.6 633h1v1h-1zM204.9 478.7h1v1h-1zM279 576h1v1h-1zM266.1 490.4h1v1h-1zM296.5 580.9h1v1h-1zM238.5 628.9h1v1h-1zM266.4 530.8h1v1h-1zM57.8 542.1h1v1h-1zM82.7 577h1v1h-1zM248.7 530.8h1v1h-1zM70.4 443.7h1v1h-1zM146.5 587.5h1v1h-1zM43.1 609.6h1v1h-1zM91.2 464.5h1v1h-1zM278.1 572.6h1v1h-1zM269.6 570.2h1v1h-1zM68.2 499.1h1v1h-1zM146.8 603.2h1v1h-1zM237.2 631.9h1v1h-1zM205.9 502.4h1v1h-1zM148.4 534.9h1v1h-1zM163.9 505.7h1v1h-1zM176.5 555.9h1v1h-1zM45.5 650.5h1v1h-1zM189.1 645.3h1v1h-1zM228.3 626.6h1v1h-1zM295.3 534.6h1v1h-1zM138.9 437.7h1v1h-1zM209.5 587.8h1v1h-1zM186.5 695.9h1v1h-1zM87.6 495.7h1v1h-1zM227.7 647.8h1v1h-1zM162.1 451h1v1h-1zM132.8 651.4h1v1h-1zM166.6 556.6h1v1h-1zM137.8 600h1v1h-1zM192.3 616.8h1v1h-1zM261.9 631.9h1v1h-1zM134 501.8h1v1h-1zM240.1 642.7h1v1h-1zM278.3 488.3h1v1h-1zM257.3 668.1h1v1h-1zM56.3 516.7h1v1h-1zM201.5 474.7h1v1h-1zM253 505.5h1v1h-1zM214.2 513.6h1v1h-1zM93.1 490.5h1v1h-1zM166 622h1v1h-1zM93 615h1v1h-1zM123.6 605.4h1v1h-1zM132.2 486.9h1v1h-1zM73 451.7h1v1h-1zM217.8 544.2h1v1h-1zM68.3 665.5h1v1h-1zM207 442.2h1v1h-1zM225.2 591.2h1v1h-1zM151.9 566.8h1v1h-1zM287.1 533.8h1v1h-1zM202.1 601.9h1v1h-1zM131.6 526.7h1v1h-1zM233.1 601.9h1v1h-1zM155.4 570.2h1v1h-1zM94.5 641.8h1v1h-1zM41.4 603.8h1v1h-1zM154.9 494.2h1v1h-1zM189.2 588.2h1v1h-1zM58.8 564h1v1h-1zM79.3 644.3h1v1h-1zM121.5 522h1v1h-1zM92.4 449.2h1v1h-1zM84.9 476.1h1v1h-1zM199 656.8h1v1h-1zM93.8 465.7h1v1h-1zM175.6 466.7h1v1h-1zM141.9 634.4h1v1h-1zM89.2 618.5h1v1h-1zM176.7 458.8h1v1h-1zM99.5 592.4h1v1h-1zM61.3 489.6h1v1h-1zM186.6 649.2h1v1h-1zM171.9 609.1h1v1h-1zM38.6 515.3h1v1h-1zM119.2 674h1v1h-1zM129.4 640.6h1v1h-1zM45.2 566.2h1v1h-1zM268.7 637.1h1v1h-1zM187.4 484h1v1h-1zM277.8 457.4h1v1h-1zM287.8 638.4h1v1h-1zM223.9 574.6h1v1h-1zM79 525.3h1v1h-1zM209.4 607.1h1v1h-1zM137.7 644.9h1v1h-1zM50.1 511.3h1v1h-1zM59.8 521.1h1v1h-1zM243 632.4h1v1h-1zM75.2 516.8h1v1h-1zM65.4 608.7h1v1h-1zM151.6 496.9h1v1h-1zM133.8 661.5h1v1h-1zM147.1 616.2h1v1h-1zM199.9 559.7h1v1h-1zM181.3 531.2h1v1h-1zM87.9 565.2h1v1h-1zM115.6 522.5h1v1h-1zM84.9 674h1v1h-1zM147.2 488.7h1v1h-1zM44.5 492.4h1v1h-1zM262.7 524.2h1v1h-1zM210.2 496.6h1v1h-1zM205.9 553.7h1v1h-1zM228.3 574h1v1h-1zM134.1 509.5h1v1h-1zM191.2 652.8h1v1h-1zM216.6 561.4h1v1h-1zM121.9 668.3h1v1h-1zM256.9 474.6h1v1h-1zM213.3 637.3h1v1h-1zM212.4 687.2h1v1h-1zM265.4 500.6h1v1h-1zM296.1 521.8h1v1h-1zM135.3 690.4h1v1h-1zM79.8 539.4h1v1h-1zM199.4 507.6h1v1h-1zM105.8 643h1v1h-1zM195.9 630h1v1h-1zM242.2 663.3h1v1h-1zM269.2 650.6h1v1h-1zM291.4 566.4h1v1h-1zM219.2 570.2h1v1h-1zM289 606.9h1v1h-1zM148.5 609.2h1v1h-1zM113.1 470.3h1v1h-1zM136.9 472.3h1v1h-1zM37.2 460.7h1v1h-1zM154.7 635h1v1h-1zM48.9 602.1h1v1h-1zM65.2 569.3h1v1h-1zM113.3 552.6h1v1h-1zM221.9 544.1h1v1h-1zM138.4 626h1v1h-1zM66.4 527.4h1v1h-1zM219.2 653.6h1v1h-1zM291.6 503.5h1v1h-1zM199.3 517.9h1v1h-1zM219.2 656.5h1v1h-1zM71.4 526.3h1v1h-1zM280.4 528.3h1v1h-1zM201.1 649.3h1v1h-1zM108.9 640.2h1v1h-1zM37.1 525.1h1v1h-1zM79.7 526.6h1v1h-1zM91.8 443.3h1v1h-1zM245.7 481.8h1v1h-1zM185.7 580.7h1v1h-1zM257.7 656.7h1v1h-1zM198.3 480.6h1v1h-1zM234.6 462h1v1h-1zM278.4 516.8h1v1h-1zM102.1 493h1v1h-1zM139.5 642.3h1v1h-1z"/>
<rect x="298" y="436.7" width="67.8" height="260.8" fill="#fde4e4"/>
<rect x="298" y="436.7" width="67.8" height="260.8" filter="url(#nzB)" opacity="0.75"/>
<rect x="298" y="436.7" width="67.8" height="260.8" filter="url(#nzV)" opacity="0.3"/>
<path fill="#e01818" fill-opacity="0.45" d="M323.5 496.6h1v1h-1zM309.1 674.1h1v1h-1zM336.6 616h1v1h-1zM334.9 536.3h1v1h-1zM346.9 586.5h1v1h-1zM350.2 608.6h1v1h-1zM354.1 550.9h1v1h-1zM308.4 475.6h1v1h-1zM346.3 480.2h1v1h-1zM341.7 598h1v1h-1zM302 640.5h1v1h-1zM300.2 661.9h1v1h-1zM354.2 492.8h1v1h-1zM346.5 627h1v1h-1zM306.4 610.8h1v1h-1zM306.3 674h1v1h-1zM344 691.3h1v1h-1zM301.6 519.3h1v1h-1zM339.4 594.7h1v1h-1zM310.2 667.3h1v1h-1zM354.5 515h1v1h-1zM307.7 610.2h1v1h-1zM325.2 609h1v1h-1zM331 539.3h1v1h-1zM299.4 471.8h1v1h-1zM328.6 625.9h1v1h-1zM326.4 630.1h1v1h-1zM334.1 665.4h1v1h-1zM341.8 520.3h1v1h-1zM307.3 453.8h1v1h-1zM300.6 660.8h1v1h-1zM356.4 631.9h1v1h-1zM305.3 608.3h1v1h-1zM306.5 667.7h1v1h-1zM341.8 631.5h1v1h-1zM338.7 545.4h1v1h-1zM354.7 686.5h1v1h-1zM314.1 550.3h1v1h-1zM347 613.4h1v1h-1zM325.4 553.6h1v1h-1zM362.6 508.4h1v1h-1zM312.1 615h1v1h-1zM316.5 669.9h1v1h-1zM319.8 676.9h1v1h-1zM323.4 666.7h1v1h-1zM348.2 626.9h1v1h-1zM312.3 479.4h1v1h-1zM300.1 483.6h1v1h-1zM342.5 453.4h1v1h-1zM313.8 584h1v1h-1zM308.4 522.2h1v1h-1zM313.3 612.3h1v1h-1zM305.9 695.9h1v1h-1zM338 621.9h1v1h-1zM334.9 566h1v1h-1zM362.8 668.9h1v1h-1zM352.9 444.5h1v1h-1zM337.4 681.4h1v1h-1zM340.6 570h1v1h-1zM341.4 482.7h1v1h-1zM346.6 640.3h1v1h-1zM302.8 569.1h1v1h-1zM337.8 528.2h1v1h-1zM343.5 676.2h1v1h-1zM358.5 516.7h1v1h-1zM308.1 658.6h1v1h-1zM338.9 652.2h1v1h-1zM356 509.3h1v1h-1zM337.2 515.5h1v1h-1zM351.3 616.4h1v1h-1zM314 566.6h1v1h-1zM337.7 497.2h1v1h-1zM310.2 559.9h1v1h-1zM302.8 565.3h1v1h-1zM360.8 651.3h1v1h-1zM301.6 651.2h1v1h-1zM345.9 620.7h1v1h-1zM299.8 634.1h1v1h-1zM311.1 645.3h1v1h-1zM319.5 532h1v1h-1zM309.5 662.1h1v1h-1zM312.8 663.5h1v1h-1zM332.3 475.3h1v1h-1zM341.8 574.6h1v1h-1zM299.8 650.7h1v1h-1zM316.1 442.9h1v1h-1zM349.2 625.6h1v1h-1zM323.8 485.1h1v1h-1zM333.2 589.1h1v1h-1zM344.1 563.9h1v1h-1zM335.9 624h1v1h-1zM310.7 483.6h1v1h-1zM330.4 632.6h1v1h-1zM351.6 658.4h1v1h-1zM327.3 622.1h1v1h-1zM305.1 537.7h1v1h-1zM302.5 653.7h1v1h-1zM364.8 610.7h1v1h-1zM348.3 533.4h1v1h-1zM351.1 458.8h1v1h-1zM322.8 527.8h1v1h-1zM355.7 481.6h1v1h-1zM308.6 459.9h1v1h-1zM354.3 518.6h1v1h-1zM358.3 518h1v1h-1zM353.9 487.3h1v1h-1zM358.3 689.7h1v1h-1zM356.7 616.4h1v1h-1zM357.9 674.2h1v1h-1zM362.4 508.3h1v1h-1zM354.8 639.3h1v1h-1zM321.1 480.4h1v1h-1zM358.1 559.4h1v1h-1zM333.4 667h1v1h-1zM330.3 502.3h1v1h-1zM343.8 575h1v1h-1zM316.2 616.5h1v1h-1zM358.4 500.6h1v1h-1zM352.3 632.5h1v1h-1zM332.9 486.9h1v1h-1zM342.4 509.8h1v1h-1zM314.8 658.4h1v1h-1zM316.1 460.7h1v1h-1zM354.5 695.2h1v1h-1zM318.4 541.9h1v1h-1zM334.4 632.3h1v1h-1zM298.8 605h1v1h-1zM313.6 678.1h1v1h-1zM325.7 682h1v1h-1zM328.1 606.9h1v1h-1zM300.5 489.4h1v1h-1zM317.8 532.6h1v1h-1zM309.6 546.1h1v1h-1zM303.9 583.8h1v1h-1zM362.3 659.4h1v1h-1zM339.5 691.8h1v1h-1zM346.7 601.5h1v1h-1zM328.5 458.1h1v1h-1zM357.7 669.5h1v1h-1zM351.8 615.7h1v1h-1zM352.3 685.7h1v1h-1zM362.9 636.7h1v1h-1zM299.1 682.8h1v1h-1zM335.9 554.2h1v1h-1zM326.8 507h1v1h-1zM300.3 597.3h1v1h-1zM339.3 459.1h1v1h-1zM359.6 671.4h1v1h-1zM355.8 576.3h1v1h-1zM323.7 558.9h1v1h-1zM322.8 685h1v1h-1zM359.4 670.1h1v1h-1zM332.7 569.5h1v1h-1zM343.9 511.8h1v1h-1zM310.3 692.6h1v1h-1zM316 506.9h1v1h-1zM330.9 459.6h1v1h-1zM333 478.3h1v1h-1zM353.4 458h1v1h-1zM351.6 506.5h1v1h-1zM350.6 644.7h1v1h-1zM361.8 482.1h1v1h-1zM363.8 475.2h1v1h-1zM321.5 438.6h1v1h-1zM331 458h1v1h-1zM335.1 679.1h1v1h-1zM350.2 605h1v1h-1zM304.1 693h1v1h-1zM322.4 683.4h1v1h-1zM307.7 514.4h1v1h-1zM361.3 630.8h1v1h-1zM310.4 555.6h1v1h-1zM334.2 502.1h1v1h-1zM312.6 458.5h1v1h-1zM332 544.7h1v1h-1zM321.4 561.3h1v1h-1zM321.2 537.1h1v1h-1zM349 475.2h1v1h-1zM304.4 552.8h1v1h-1zM317.3 560.1h1v1h-1zM355.4 682.5h1v1h-1zM352.6 675.9h1v1h-1zM313.4 526.7h1v1h-1zM305.5 512h1v1h-1zM315.4 499h1v1h-1zM320.3 681h1v1h-1zM332.4 670.4h1v1h-1zM333.2 631.3h1v1h-1zM342.8 590.7h1v1h-1zM359.7 591h1v1h-1zM331.6 496.3h1v1h-1zM304.6 548.1h1v1h-1zM325.1 470.6h1v1h-1zM361.6 441.3h1v1h-1zM327.5 500.8h1v1h-1zM325.3 654.1h1v1h-1zM362.4 540.2h1v1h-1zM345.6 668.6h1v1h-1zM317.4 539.8h1v1h-1zM327 654.1h1v1h-1zM318.3 669.6h1v1h-1zM310.4 613.6h1v1h-1zM340.1 445.5h1v1h-1zM319.9 653.8h1v1h-1zM324.8 451.6h1v1h-1zM329.4 577.2h1v1h-1zM329.4 546.1h1v1h-1zM360.7 611h1v1h-1zM327.7 552.8h1v1h-1zM349.4 498.6h1v1h-1zM330.2 634.2h1v1h-1zM304 475.1h1v1h-1zM301.4 610.7h1v1h-1zM351.4 608.6h1v1h-1zM339.4 444.9h1v1h-1zM322.3 556.8h1v1h-1zM320.5 501.7h1v1h-1zM322.8 495.8h1v1h-1zM302.7 585.1h1v1h-1zM299.6 549.3h1v1h-1zM324.8 647.2h1v1h-1zM345.2 555.8h1v1h-1zM298.4 621.6h1v1h-1zM346.4 602.4h1v1h-1zM364.2 564.5h1v1h-1zM324.4 575.5h1v1h-1zM305 599.5h1v1h-1zM306.8 610.7h1v1h-1zM338.9 614.6h1v1h-1zM310.3 621.8h1v1h-1zM361 692.8h1v1h-1zM349.1 477.6h1v1h-1zM349.7 482.7h1v1h-1zM363.4 445.1h1v1h-1zM299.1 541.1h1v1h-1zM303.2 684.1h1v1h-1zM360.1 504.2h1v1h-1zM356.1 527.6h1v1h-1zM352.7 469.1h1v1h-1zM360.8 552.4h1v1h-1zM313.8 552.3h1v1h-1zM298.1 446.4h1v1h-1zM329.7 591.6h1v1h-1zM364.6 572.1h1v1h-1zM320.4 504.6h1v1h-1zM299.4 674.7h1v1h-1zM344.7 505.4h1v1h-1zM348.5 616h1v1h-1zM340.7 554.2h1v1h-1zM356.1 677.3h1v1h-1zM348.6 484.9h1v1h-1zM327.9 604h1v1h-1zM361.6 567.9h1v1h-1zM330.2 454.4h1v1h-1zM302.3 506.5h1v1h-1zM343.2 492.4h1v1h-1zM348.4 603.7h1v1h-1zM317.2 572.3h1v1h-1zM353.7 444.8h1v1h-1zM339.9 632.1h1v1h-1zM362.6 523h1v1h-1zM340.6 646.1h1v1h-1zM318.2 638.1h1v1h-1zM348.1 683.9h1v1h-1zM325.7 465.1h1v1h-1zM332.5 612.8h1v1h-1zM359 633.2h1v1h-1zM334.5 659h1v1h-1zM354.8 595.7h1v1h-1zM316.2 439.2h1v1h-1zM337.2 440.2h1v1h-1zM321.5 693.8h1v1h-1zM315.3 615.7h1v1h-1zM347.1 520.8h1v1h-1zM338.2 666.8h1v1h-1zM346.4 523.7h1v1h-1zM364.4 611h1v1h-1zM314 646.6h1v1h-1zM350.4 664.6h1v1h-1zM353.9 643.7h1v1h-1zM324.1 633.1h1v1h-1zM349.1 650.3h1v1h-1zM312.4 693h1v1h-1zM336.4 672.8h1v1h-1zM332.5 639.5h1v1h-1zM338.4 512.3h1v1h-1zM330.8 650.1h1v1h-1zM316.6 676.9h1v1h-1zM346.9 641.4h1v1h-1zM333.2 620.8h1v1h-1zM340.4 544.6h1v1h-1zM298.1 582.4h1v1h-1zM344.1 580.8h1v1h-1zM324.8 578.9h1v1h-1zM305 604.1h1v1h-1zM302.4 471h1v1h-1zM303.3 684.2h1v1h-1zM358.7 599.4h1v1h-1zM360.6 491.1h1v1h-1zM342.2 559.8h1v1h-1zM305.2 586.7h1v1h-1zM305.4 509.6h1v1h-1zM307.5 500.5h1v1h-1zM357.9 564.9h1v1h-1zM334.7 474.2h1v1h-1zM308.2 464.1h1v1h-1zM344.9 587h1v1h-1zM347.6 589h1v1h-1zM314.8 540.2h1v1h-1zM322.5 677.5h1v1h-1zM345 653h1v1h-1zM341.9 686.7h1v1h-1zM349.1 436.8h1v1h-1zM303.4 446.8h1v1h-1zM357.7 491.3h1v1h-1zM328.9 588.6h1v1h-1zM313 508.4h1v1h-1zM357 484.2h1v1h-1zM353.6 558.5h1v1h-1zM344 538.6h1v1h-1zM343.3 619.7h1v1h-1zM326.2 514.5h1v1h-1zM326.7 630.4h1v1h-1zM298.7 490.6h1v1h-1zM321.4 617.8h1v1h-1zM332 495.1h1v1h-1zM356.7 586h1v1h-1zM357.4 535.4h1v1h-1zM361.5 587.6h1v1h-1zM321.1 476.7h1v1h-1zM351.5 482h1v1h-1zM352.9 647.6h1v1h-1zM306.8 625.8h1v1h-1zM344.8 460.9h1v1h-1zM348.7 683.4h1v1h-1zM320.4 574.4h1v1h-1zM325.4 498.7h1v1h-1zM308.8 609.3h1v1h-1zM362.6 469.7h1v1h-1zM299.4 577.2h1v1h-1zM315.7 662.3h1v1h-1zM317.6 442.6h1v1h-1zM318.7 543.3h1v1h-1zM326.9 543.2h1v1h-1zM317 686.9h1v1h-1zM298.9 494.8h1v1h-1zM352.8 489h1v1h-1zM312 538.2h1v1h-1zM340.2 650.9h1v1h-1zM350.6 482.7h1v1h-1zM360.3 482.2h1v1h-1zM351.9 659.9h1v1h-1zM305.7 535h1v1h-1zM312.2 556.4h1v1h-1zM350.3 645.3h1v1h-1zM348.6 444.5h1v1h-1zM317.3 676.5h1v1h-1zM347.3 634.9h1v1h-1zM309.6 477.2h1v1h-1zM330.7 595.1h1v1h-1zM306.3 663.9h1v1h-1zM336.3 677.8h1v1h-1zM358.5 540.6h1v1h-1zM316.4 654h1v1h-1zM331.2 592.7h1v1h-1zM346.1 690.8h1v1h-1zM332.4 555.9h1v1h-1zM355.3 456.6h1v1h-1zM327.3 493.7h1v1h-1zM338.8 650.3h1v1h-1zM326.5 490.6h1v1h-1zM306.1 670.8h1v1h-1zM337.1 679.7h1v1h-1zM315.9 510.9h1v1h-1zM310 602.4h1v1h-1zM335.5 659.2h1v1h-1zM337.4 523.5h1v1h-1zM304.9 640.9h1v1h-1zM361.3 521.9h1v1h-1zM318.9 573.2h1v1h-1zM323.1 630.1h1v1h-1zM330.1 562.1h1v1h-1zM323.2 501.8h1v1h-1zM359.7 681.8h1v1h-1zM312 534.4h1v1h-1zM346 528.6h1v1h-1zM327.5 583.3h1v1h-1zM316.1 537.3h1v1h-1zM346 680.7h1v1h-1zM302.3 664.3h1v1h-1zM303.8 607.7h1v1h-1zM301.5 578.4h1v1h-1zM313.3 646.8h1v1h-1zM299.4 569.8h1v1h-1zM362.2 574.8h1v1h-1zM327.5 605.3h1v1h-1zM351 614.8h1v1h-1zM325.8 490.1h1v1h-1zM350.3 567.5h1v1h-1zM361.9 524.9h1v1h-1zM318.5 557.8h1v1h-1zM364 639.1h1v1h-1zM317.7 616.6h1v1h-1zM353 451.5h1v1h-1zM347.9 560h1v1h-1zM356.9 631.7h1v1h-1zM322.5 457.8h1v1h-1zM325.1 535.5h1v1h-1zM311.6 615.4h1v1h-1zM355.7 552h1v1h-1zM305.7 582h1v1h-1zM320.7 448.1h1v1h-1zM304.5 537.7h1v1h-1zM300.3 470.8h1v1h-1zM361.2 575.4h1v1h-1zM310.3 447.5h1v1h-1zM317.1 520.7h1v1h-1zM360.9 484.6h1v1h-1zM359.5 567.3h1v1h-1zM351.8 581.7h1v1h-1zM362.1 686.1h1v1h-1zM339.5 524.5h1v1h-1zM317.9 479.2h1v1h-1zM313.3 595.7h1v1h-1zM325.8 577h1v1h-1zM361.6 626.7h1v1h-1zM360.4 635.5h1v1h-1zM314.5 447.7h1v1h-1zM344.8 474.8h1v1h-1zM341.8 459.1h1v1h-1zM336.7 573.8h1v1h-1zM328.7 646.9h1v1h-1zM344.7 494.1h1v1h-1zM330.9 544.6h1v1h-1zM323.9 495.7h1v1h-1zM312.8 596.9h1v1h-1zM302.2 548.2h1v1h-1zM331.2 556.4h1v1h-1zM344.2 645.8h1v1h-1zM333.9 478.9h1v1h-1zM309.8 679.1h1v1h-1zM329.2 563.7h1v1h-1zM312.6 600.4h1v1h-1zM323.4 584.4h1v1h-1zM335 673.5h1v1h-1zM349.8 673.9h1v1h-1zM356.3 460.5h1v1h-1zM339 507.7h1v1h-1zM320.8 570.2h1v1h-1zM332.8 587.4h1v1h-1zM327.3 464.7h1v1h-1zM363.7 446.2h1v1h-1zM361.2 693.3h1v1h-1zM342.4 491.5h1v1h-1zM344.9 523.4h1v1h-1zM322 657.2h1v1h-1zM346.5 443h1v1h-1zM360.9 538.8h1v1h-1zM317.9 537.5h1v1h-1zM311.7 547.7h1v1h-1zM354.1 691h1v1h-1zM354.3 603.9h1v1h-1zM326.4 560.8h1v1h-1zM308 502.2h1v1h-1zM301.1 638.2h1v1h-1zM305 483.1h1v1h-1zM326.5 647.7h1v1h-1zM303 632.6h1v1h-1zM318 541.5h1v1h-1zM328.1 693.3h1v1h-1zM364.5 505.4h1v1h-1zM338.1 521.7h1v1h-1zM319.9 650.6h1v1h-1zM341 574.9h1v1h-1zM318.3 534.6h1v1h-1zM329.4 650h1v1h-1zM315.8 584.3h1v1h-1zM351 451.2h1v1h-1zM313.2 635h1v1h-1zM302.7 682.6h1v1h-1zM327 600.9h1v1h-1zM305.3 552.3h1v1h-1zM329.2 639h1v1h-1zM337.7 475.6h1v1h-1zM303.3 504.5h1v1h-1zM336.9 466.7h1v1h-1zM308.4 527.7h1v1h-1zM313.9 594.4h1v1h-1zM312.8 490h1v1h-1zM348.2 598.2h1v1h-1zM347.4 474.5h1v1h-1zM339.9 534.9h1v1h-1zM329.6 492.4h1v1h-1zM352.6 648.2h1v1h-1zM328.8 530.7h1v1h-1zM314.7 567.9h1v1h-1zM318.2 550.6h1v1h-1zM338.6 657.8h1v1h-1zM355 453.5h1v1h-1zM350.1 537.7h1v1h-1zM305.8 555.1h1v1h-1zM356.3 538.7h1v1h-1zM318.3 575.5h1v1h-1zM335.7 675.3h1v1h-1zM358.6 691.7h1v1h-1zM302.6 625.3h1v1h-1zM330.5 589.2h1v1h-1zM354.2 514.6h1v1h-1zM298.3 502.4h1v1h-1zM362.5 677.9h1v1h-1zM329 471.6h1v1h-1zM347.5 517.9h1v1h-1zM356.7 568.2h1v1h-1zM317.8 453.1h1v1h-1zM315.9 524.6h1v1h-1zM317.7 631.6h1v1h-1zM354.6 606.3h1v1h-1zM328 612.2h1v1h-1zM301 569.1h1v1h-1zM333.7 596.7h1v1h-1zM315.9 662h1v1h-1zM321.2 554h1v1h-1zM306.1 571.5h1v1h-1zM298.2 574.4h1v1h-1zM311.8 683.9h1v1h-1zM327.9 497.2h1v1h-1zM342.4 472.9h1v1h-1zM332.9 553.7h1v1h-1zM361.1 629h1v1h-1zM355.4 692.8h1v1h-1zM338.1 610.5h1v1h-1zM344 650.7h1v1h-1zM356 663.9h1v1h-1zM359.5 680.2h1v1h-1zM309.3 637.4h1v1h-1zM345.7 669h1v1h-1zM322.1 635.1h1v1h-1zM298.4 537h1v1h-1zM313.2 499.6h1v1h-1zM303.6 570.2h1v1h-1zM307.3 450.7h1v1h-1zM339.1 638.8h1v1h-1zM319.9 447.5h1v1h-1zM356.1 529h1v1h-1zM323.9 671.1h1v1h-1zM308.1 606.6h1v1h-1zM322.5 593.4h1v1h-1zM328.1 488.9h1v1h-1zM360.8 573.1h1v1h-1zM310.3 556.1h1v1h-1zM338.1 674.8h1v1h-1zM318.1 464.9h1v1h-1zM329.2 657.1h1v1h-1zM300 675.7h1v1h-1zM331.1 559.5h1v1h-1zM339.7 628.3h1v1h-1zM341.7 676.8h1v1h-1zM339.1 518.2h1v1h-1zM325.1 544.5h1v1h-1zM312.6 515.8h1v1h-1zM323 682.1h1v1h-1zM357.6 627.9h1v1h-1zM345.5 503.6h1v1h-1zM322.4 489.8h1v1h-1zM352.7 613.5h1v1h-1zM341.5 441.9h1v1h-1zM346.7 643.1h1v1h-1zM332.9 633.6h1v1h-1zM352.3 602.2h1v1h-1zM319.2 582.4h1v1h-1zM356.7 462.2h1v1h-1zM353.4 525.5h1v1h-1zM344.1 468.5h1v1h-1zM328.5 696h1v1h-1zM337.1 561.5h1v1h-1zM319 532.7h1v1h-1zM342 675.4h1v1h-1zM306.5 525.4h1v1h-1zM322.9 512h1v1h-1zM362.7 649h1v1h-1zM332.8 441.7h1v1h-1zM357.8 627.8h1v1h-1zM356.9 515.4h1v1h-1zM319.4 542.8h1v1h-1zM325.1 554.8h1v1h-1zM364.1 658.4h1v1h-1zM302.7 548.9h1v1h-1zM307.9 562.8h1v1h-1zM328.2 609.7h1v1h-1zM354.4 560.9h1v1h-1zM356.3 486.7h1v1h-1zM320.7 469.2h1v1h-1zM353 648.2h1v1h-1zM337.1 509.1h1v1h-1zM320.8 447.7h1v1h-1zM340.1 492.4h1v1h-1zM313.2 510.2h1v1h-1zM351 511.7h1v1h-1zM360.6 587.5h1v1h-1zM306.1 494.4h1v1h-1zM364.5 566.5h1v1h-1zM336.2 462.9h1v1h-1zM351.1 533.4h1v1h-1zM299.1 472.6h1v1h-1zM319.2 459.9h1v1h-1zM318.4 604.5h1v1h-1zM311.1 692.2h1v1h-1zM339 606.1h1v1h-1zM338.9 571h1v1h-1zM341.1 505.4h1v1h-1zM321 494.6h1v1h-1zM334.9 583.3h1v1h-1zM352.4 619.7h1v1h-1zM355.4 541.3h1v1h-1zM355.9 477.9h1v1h-1zM330.3 601.7h1v1h-1zM299.6 503.1h1v1h-1zM324 625.1h1v1h-1zM325.7 693h1v1h-1zM341.5 653.9h1v1h-1zM363.6 572.4h1v1h-1zM338.9 464.2h1v1h-1zM335.9 503.5h1v1h-1zM321.4 576.7h1v1h-1zM310.2 600.8h1v1h-1zM316.1 650.9h1v1h-1zM364.6 515.3h1v1h-1zM317.8 461.6h1v1h-1zM301.1 468.3h1v1h-1zM314 616h1v1h-1zM346.5 549.9h1v1h-1zM325.4 527.9h1v1h-1zM310.6 686.5h1v1h-1zM307.9 546.7h1v1h-1zM300 578h1v1h-1zM330.5 458h1v1h-1zM339.8 566.9h1v1h-1zM344.7 580.4h1v1h-1zM319.7 610.1h1v1h-1zM331.2 663.1h1v1h-1zM360.5 665.3h1v1h-1zM341.9 512.7h1v1h-1zM303.5 658h1v1h-1zM299.5 662.3h1v1h-1zM309.6 510.1h1v1h-1zM343.5 479h1v1h-1zM323.6 560.5h1v1h-1zM298.9 473.3h1v1h-1zM314.1 600.1h1v1h-1zM340.7 469.8h1v1h-1zM364.1 497.4h1v1h-1zM309 522.1h1v1h-1zM305.6 533.9h1v1h-1zM300.4 502.7h1v1h-1zM352.6 478.7h1v1h-1zM336.7 558.7h1v1h-1zM347 478.2h1v1h-1zM362.3 525.8h1v1h-1zM361 494.2h1v1h-1zM314.5 658.7h1v1h-1zM326.8 615.5h1v1h-1zM354.2 618h1v1h-1zM346.8 649.6h1v1h-1zM298.9 496.9h1v1h-1zM359.2 642.2h1v1h-1zM304.5 668h1v1h-1zM348.1 538.7h1v1h-1zM324.2 527.3h1v1h-1zM352.4 506.4h1v1h-1zM326 593.8h1v1h-1zM332.2 566.8h1v1h-1zM307.7 604.3h1v1h-1zM316.5 686.3h1v1h-1zM312.3 690.6h1v1h-1zM328 459.4h1v1h-1zM325.2 532.2h1v1h-1zM312.5 588h1v1h-1zM334.8 607.9h1v1h-1zM335.1 484.7h1v1h-1zM355.9 557.2h1v1h-1zM299.1 622.5h1v1h-1zM362.9 654.6h1v1h-1zM350.4 615.3h1v1h-1zM308.6 483.6h1v1h-1zM353.4 636.1h1v1h-1zM335.6 512.4h1v1h-1zM338.8 676.7h1v1h-1zM305.4 514.3h1v1h-1zM335.9 506.3h1v1h-1zM347 488.9h1v1h-1zM307.4 490.3h1v1h-1zM299.9 544.3h1v1h-1zM333.1 684.9h1v1h-1zM330.1 673.2h1v1h-1zM303.4 532.4h1v1h-1zM359.9 520.7h1v1h-1zM299.1 458.1h1v1h-1zM343.1 610.1h1v1h-1zM340.6 652.9h1v1h-1zM355.1 655.9h1v1h-1zM348.3 513.7h1v1h-1zM328.5 609.3h1v1h-1zM328.3 460.3h1v1h-1zM320.9 540.8h1v1h-1zM318 455.3h1v1h-1zM336.7 498.9h1v1h-1zM339.6 525.1h1v1h-1zM342.9 649.3h1v1h-1zM334 522.7h1v1h-1zM343 510.8h1v1h-1zM348 684.1h1v1h-1zM353.3 587h1v1h-1zM358.7 578h1v1h-1zM341 440.5h1v1h-1zM323.4 514.7h1v1h-1zM300.8 450.2h1v1h-1zM337.7 484h1v1h-1zM326.1 667.3h1v1h-1zM302.2 515.1h1v1h-1zM337.1 623.4h1v1h-1zM324.1 446.2h1v1h-1zM333.3 458.3h1v1h-1zM313.6 587.7h1v1h-1zM308 447.7h1v1h-1zM359.8 462.1h1v1h-1zM350.1 639.4h1v1h-1zM354.2 439h1v1h-1zM305.2 674.7h1v1h-1zM329.2 575.8h1v1h-1zM302.3 501.9h1v1h-1zM298.8 565.1h1v1h-1zM317 636h1v1h-1zM351 512.6h1v1h-1zM362.8 525.3h1v1h-1zM305.3 510.1h1v1h-1zM353.3 574.5h1v1h-1zM360.9 498.6h1v1h-1zM351.1 509.6h1v1h-1zM344.3 661.3h1v1h-1zM331.9 672.2h1v1h-1zM338.8 571.1h1v1h-1zM350.9 530.4h1v1h-1zM318.2 499.5h1v1h-1zM306.1 462.3h1v1h-1zM334.7 612.2h1v1h-1zM304.4 688.2h1v1h-1zM330.9 471.5h1v1h-1zM363.8 504.8h1v1h-1zM364.6 470.8h1v1h-1zM351.9 545h1v1h-1zM299 485.2h1v1h-1zM332 499.9h1v1h-1zM333.6 559.6h1v1h-1zM305.5 534.5h1v1h-1zM358.3 482.7h1v1h-1zM338.6 690.4h1v1h-1zM341 479.6h1v1h-1zM334.2 462h1v1h-1zM325.5 688.2h1v1h-1zM305.7 476.4h1v1h-1zM348.3 458.2h1v1h-1zM356.7 534.9h1v1h-1zM339.1 681.9h1v1h-1zM319.2 601.1h1v1h-1zM314.1 650.8h1v1h-1zM340.6 589.1h1v1h-1zM350.4 522.5h1v1h-1zM337.1 503.7h1v1h-1zM328 599.6h1v1h-1zM363.7 659h1v1h-1zM345.5 641.7h1v1h-1zM328.3 645h1v1h-1zM312.3 602.5h1v1h-1zM354 486.7h1v1h-1zM331.9 526.8h1v1h-1zM355.3 555.2h1v1h-1zM314.2 542.4h1v1h-1zM309.1 693h1v1h-1zM310.6 511.6h1v1h-1zM352.3 571.3h1v1h-1zM306.1 521h1v1h-1zM362.8 534h1v1h-1zM358.8 677.2h1v1h-1zM334 555.1h1v1h-1zM340.5 438.6h1v1h-1zM308.5 619.4h1v1h-1zM352.9 609.9h1v1h-1zM356.1 542.3h1v1h-1zM315.5 683.9h1v1h-1zM334.9 458.8h1v1h-1zM346.6 567.6h1v1h-1zM350.4 470.7h1v1h-1zM347.7 693.3h1v1h-1zM324.1 656.8h1v1h-1zM342.2 636.8h1v1h-1zM323.6 491.5h1v1h-1zM346.2 639.1h1v1h-1zM308 444.4h1v1h-1zM323.5 626.3h1v1h-1zM306.7 663.9h1v1h-1z"/>
<path fill="#e02020" fill-opacity="0.25" d="M340.7 443.2h1v15.4h-1zM312.9 628h1v29h-1zM357.6 459.3h1v20.3h-1zM300 493.5h1v23.2h-1zM299.8 488.4h1v28.1h-1zM334.4 494h1v26h-1zM352.1 438.4h1v33.4h-1zM344.6 525.1h1v11.3h-1zM361.9 524.1h1v9.2h-1zM304.5 656.9h1v26.5h-1zM351.9 626.3h1v24.2h-1zM363 535h1v24.8h-1zM353.4 597.4h1v35.3h-1zM336.6 619.7h1v7.6h-1zM313.2 511.9h1v8.7h-1zM313.6 462.9h1v15.5h-1zM340.5 531.5h1v18.6h-1zM312 506.1h1v37.8h-1zM341.3 595h1v11.8h-1zM346.7 479.2h1v18.9h-1zM364.1 603h1v24.9h-1zM343.7 655.7h1v32.4h-1zM313.3 445h1v16.7h-1zM315.9 491.5h1v38.1h-1zM356.5 518.5h1v28.3h-1zM324.4 674.3h1v21.6h-1zM315.7 500.8h1v25.1h-1zM315.6 588.6h1v36.5h-1zM324.7 493.7h1v39.9h-1zM332 460.3h1v7.6h-1zM305.3 599.7h1v32.9h-1zM326.2 453.2h1v19h-1zM364.5 574.2h1v39h-1zM355.5 439.7h1v30.5h-1zM343.5 576.2h1v15.1h-1zM340.8 465.7h1v20.8h-1zM328.3 684.5h1v13h-1zM315.6 566.8h1v12.1h-1zM359 662.9h1v16.1h-1zM340.7 594.9h1v11.2h-1zM348.9 576.8h1v32.5h-1zM333.4 436.8h1v17h-1zM299.3 678.1h1v19.4h-1zM353.6 516.6h1v8h-1zM356.7 682.7h1v8.9h-1zM330.5 454.7h1v31.9h-1zM349.2 470.1h1v22.2h-1zM334.7 505.6h1v35.7h-1zM326.3 491.7h1v24.3h-1zM346.8 489h1v16.6h-1zM364.5 605.5h1v20.9h-1zM332.6 468.1h1v13.6h-1zM320.6 589.5h1v13.8h-1zM312.7 455.1h1v27.5h-1zM313.3 671.9h1v25.6h-1zM302.7 498.5h1v28.7h-1zM312.3 471.1h1v37.8h-1zM336.1 559.5h1v32.7h-1zM351.9 486.2h1v9.3h-1zM326.8 546.7h1v21.9h-1zM346.7 611.6h1v39.5h-1zM304.6 541.3h1v17.5h-1zM355.6 501.3h1v12.5h-1zM328 546.3h1v15.5h-1zM314.7 676.6h1v20.9h-1zM355.5 579.7h1v7.7h-1zM364.8 653.9h1v38.9h-1zM359.9 657.2h1v11.7h-1zM330.4 492.2h1v19.6h-1zM301.9 535.2h1v39.5h-1zM315.7 640.4h1v21.5h-1zM326.3 685.4h1v12.1h-1zM335.1 623.3h1v11.3h-1zM317.8 688.4h1v9.1h-1zM334.2 631h1v7.9h-1zM337 567.3h1v35h-1zM308.5 686.3h1v8.7h-1zM310.4 591.3h1v29h-1zM313.7 467.8h1v36.3h-1zM314.4 591.2h1v27.1h-1zM326 588.3h1v23.8h-1zM360.4 489.8h1v30.4h-1zM313.9 539.5h1v28.8h-1zM318 518.8h1v31.6h-1zM302.8 555.8h1v39.9h-1zM364.5 455.7h1v13.2h-1zM315.7 679.2h1v18.3h-1zM356.7 532.7h1v11.4h-1zM353.7 619.5h1v26.8h-1zM363.9 606.6h1v6.3h-1z"/>
<rect x="298" y="436.7" width="67.8" height="7" fill="url(#gTop)"/>
<rect x="36.2" y="697.5" width="261.8" height="69.3" fill="#fde4e4"/>
<rect x="36.2" y="697.5" width="261.8" height="69.3" fill="url(#gBot)"/>
<rect x="36.2" y="697.5" width="261.8" height="69.3" filter="url(#nzB)" opacity="0.75"/>
<rect x="36.2" y="697.5" width="261.8" height="69.3" filter="url(#nzH)" opacity="0.3"/>
<path fill="#e01818" fill-opacity="0.45" d="M46.3 745.1h1v1h-1zM73.7 729.1h1v1h-1zM211.4 751.7h1v1h-1zM154.4 731.5h1v1h-1zM41.2 727h1v1h-1zM133.3 755.7h1v1h-1zM178.9 749.1h1v1h-1zM149.4 709.5h1v1h-1zM258.1 753.5h1v1h-1zM134.2 704h1v1h-1zM169.8 731.4h1v1h-1zM237.6 738.3h1v1h-1zM168.3 736.8h1v1h-1zM134.5 700.8h1v1h-1zM52.2 761.8h1v1h-1zM255 717.7h1v1h-1zM268 733.2h1v1h-1zM63.1 755.9h1v1h-1zM188.6 761.2h1v1h-1zM213.3 703.9h1v1h-1zM198.6 751.2h1v1h-1zM270.6 720.1h1v1h-1zM174.1 745.4h1v1h-1zM79.7 755.4h1v1h-1zM239.8 700.9h1v1h-1zM190.4 722.6h1v1h-1zM84.7 738.8h1v1h-1zM289 735.2h1v1h-1zM65.7 731.3h1v1h-1zM239.4 762.7h1v1h-1zM222.7 700.3h1v1h-1zM288.3 738.6h1v1h-1zM58 706.2h1v1h-1zM58.7 742.9h1v1h-1zM76.4 752.7h1v1h-1zM64.6 734.1h1v1h-1zM151.8 700.1h1v1h-1zM36.9 759.2h1v1h-1zM290.9 706h1v1h-1zM227.8 765.1h1v1h-1zM271.9 757.9h1v1h-1zM124.3 746.5h1v1h-1zM166.1 761.5h1v1h-1zM219.5 755.1h1v1h-1zM259.8 723.8h1v1h-1zM222 703.8h1v1h-1zM89.9 761.5h1v1h-1zM141.7 744.3h1v1h-1zM186.3 715.3h1v1h-1zM189.1 759.8h1v1h-1zM121.6 721.2h1v1h-1zM84.7 709.6h1v1h-1zM252 745.7h1v1h-1zM287.9 743.2h1v1h-1zM286.3 712.7h1v1h-1zM85.2 712.3h1v1h-1zM136.3 765.1h1v1h-1zM94.8 728.8h1v1h-1zM52.2 699.4h1v1h-1zM178.5 739.4h1v1h-1zM169.4 760h1v1h-1zM260.7 762.5h1v1h-1zM187.2 715.5h1v1h-1zM70.1 749.7h1v1h-1zM76.5 697.9h1v1h-1zM218.6 706h1v1h-1zM198.5 711.2h1v1h-1zM147.1 698.5h1v1h-1zM134.3 719.9h1v1h-1zM104.3 706.6h1v1h-1zM186.3 744.8h1v1h-1zM88.3 700.5h1v1h-1zM106.2 745.3h1v1h-1zM107.5 741.7h1v1h-1zM55.4 745.5h1v1h-1zM73.3 712.8h1v1h-1zM226.5 729.9h1v1h-1zM203.2 717h1v1h-1zM210.5 717.9h1v1h-1zM161.6 727.8h1v1h-1zM274.1 748.9h1v1h-1zM179.3 755.2h1v1h-1zM195.3 746.9h1v1h-1zM171.3 736.8h1v1h-1zM91.9 761.1h1v1h-1zM202.9 753.5h1v1h-1zM194.3 699.2h1v1h-1zM64.4 757.7h1v1h-1zM218.7 759.3h1v1h-1zM269.2 713.3h1v1h-1zM293.1 739.2h1v1h-1zM226.6 732.8h1v1h-1zM103 730.7h1v1h-1zM156.7 717.8h1v1h-1zM125.3 727.7h1v1h-1zM105.8 707h1v1h-1zM246 722h1v1h-1zM131.3 751h1v1h-1zM218.3 728.1h1v1h-1zM117 751.9h1v1h-1zM97.9 729.1h1v1h-1zM133.9 765.4h1v1h-1zM98.8 738h1v1h-1zM173.7 700.8h1v1h-1zM83.5 758h1v1h-1zM241.9 712.1h1v1h-1zM82.8 761.6h1v1h-1zM189.7 746.4h1v1h-1zM272.8 715.3h1v1h-1zM166.6 759.9h1v1h-1zM84.8 714.9h1v1h-1zM266.1 755h1v1h-1zM170.6 706.6h1v1h-1zM253.5 718.6h1v1h-1zM233.7 714.9h1v1h-1zM76.4 744.8h1v1h-1zM138.7 723.2h1v1h-1zM150.8 728.9h1v1h-1zM159 741.8h1v1h-1zM64 743.6h1v1h-1zM163.1 753.4h1v1h-1zM111.1 743h1v1h-1zM89.8 745.2h1v1h-1zM213.8 734.6h1v1h-1zM161.2 762.4h1v1h-1zM129.8 703.1h1v1h-1zM122.5 700.4h1v1h-1zM268.6 754.5h1v1h-1zM84.5 740.4h1v1h-1zM89.7 755.9h1v1h-1zM144.3 701.5h1v1h-1zM201.7 703.2h1v1h-1zM269.4 760.9h1v1h-1zM196.3 714.2h1v1h-1zM238.2 700.2h1v1h-1zM65.1 718.3h1v1h-1zM55 757.2h1v1h-1zM210.5 752.7h1v1h-1zM207.6 712.8h1v1h-1zM108.8 739h1v1h-1zM242.6 740.2h1v1h-1zM120 752.1h1v1h-1zM143.2 740.4h1v1h-1zM257.8 742.8h1v1h-1zM156 737.8h1v1h-1zM89.4 727.3h1v1h-1zM253.4 730.6h1v1h-1zM40.6 753.1h1v1h-1zM76.5 699.7h1v1h-1zM187.1 750h1v1h-1zM65.5 727.8h1v1h-1zM156.6 705.9h1v1h-1zM200.3 714.7h1v1h-1zM216.5 731.8h1v1h-1zM173 713.3h1v1h-1zM235.3 698.3h1v1h-1zM117.9 704.5h1v1h-1zM58.6 698.2h1v1h-1zM172.6 702.4h1v1h-1zM66 727h1v1h-1zM213.5 711.3h1v1h-1zM207.5 735.6h1v1h-1zM277.3 752.8h1v1h-1zM294.8 721.9h1v1h-1zM267.1 719.4h1v1h-1zM110 726.6h1v1h-1zM42.2 746.9h1v1h-1zM59.3 739.3h1v1h-1zM51.6 726.7h1v1h-1zM102.1 762.1h1v1h-1zM114 721.8h1v1h-1zM116.3 706h1v1h-1zM204.2 718.2h1v1h-1zM106.9 718.9h1v1h-1zM128.3 751.7h1v1h-1zM92.6 706h1v1h-1zM122.4 736.4h1v1h-1zM109.9 705h1v1h-1zM129.4 763.1h1v1h-1zM269.8 727.9h1v1h-1zM149.1 709.4h1v1h-1zM211.2 746.8h1v1h-1zM103.6 740.2h1v1h-1zM62.8 719h1v1h-1zM111.5 751.9h1v1h-1zM197.5 732.4h1v1h-1zM150.3 735.2h1v1h-1zM161.8 715.1h1v1h-1zM252.9 751.9h1v1h-1zM137 725h1v1h-1zM277.8 698.9h1v1h-1zM235.9 709h1v1h-1zM85.8 721.4h1v1h-1zM198.9 719.4h1v1h-1zM171.2 732.5h1v1h-1zM276.2 737.1h1v1h-1zM106.7 740.7h1v1h-1zM181.3 718.2h1v1h-1zM225.1 698.1h1v1h-1zM293.4 757.2h1v1h-1zM52 746.1h1v1h-1zM70.2 765.2h1v1h-1zM154.2 748.4h1v1h-1zM102.9 742.2h1v1h-1zM43.7 752.1h1v1h-1zM105.6 709.3h1v1h-1zM151.3 731.8h1v1h-1zM48.2 708.9h1v1h-1zM135.7 734.7h1v1h-1zM218.7 706.7h1v1h-1zM250.7 722h1v1h-1zM294.6 722.9h1v1h-1zM152.9 722.1h1v1h-1zM57.2 760.8h1v1h-1zM190.4 749.2h1v1h-1zM76.4 730.7h1v1h-1zM110.6 716.1h1v1h-1zM139.2 740.3h1v1h-1zM155.5 745.2h1v1h-1zM294 737.8h1v1h-1zM244.7 762.5h1v1h-1zM289.5 721.3h1v1h-1zM254.6 745.1h1v1h-1zM41.3 753.5h1v1h-1zM270.3 758.7h1v1h-1zM124.1 747.1h1v1h-1zM252.1 727.9h1v1h-1zM202.5 723.5h1v1h-1zM276.4 733.3h1v1h-1zM99.3 726.7h1v1h-1zM189.3 723.2h1v1h-1zM121.8 740.5h1v1h-1zM119.4 730.8h1v1h-1zM58.1 719.2h1v1h-1zM65.9 730.4h1v1h-1zM121.7 723.3h1v1h-1zM44.1 765.1h1v1h-1zM91.2 698.2h1v1h-1zM188.6 700.1h1v1h-1zM185.2 759.9h1v1h-1zM51.4 729.9h1v1h-1zM254 713.8h1v1h-1zM70.6 701.5h1v1h-1zM217.7 749.6h1v1h-1zM147.5 721.3h1v1h-1zM292.8 714.5h1v1h-1zM244.8 752.7h1v1h-1zM154.3 751.1h1v1h-1zM121.4 759.1h1v1h-1zM230.7 740.1h1v1h-1zM255.2 743.6h1v1h-1zM262 721.6h1v1h-1zM134 762h1v1h-1zM149.7 718.8h1v1h-1zM246.8 721.6h1v1h-1zM145.2 736.3h1v1h-1zM59.1 755h1v1h-1zM195.6 700.7h1v1h-1zM60.7 717.6h1v1h-1zM148.3 752.2h1v1h-1zM245 748.1h1v1h-1zM226.8 732.5h1v1h-1zM59 721.5h1v1h-1zM230.5 699.3h1v1h-1zM99.2 698.6h1v1h-1zM121.3 719.7h1v1h-1zM161.1 709.6h1v1h-1zM178.7 705.5h1v1h-1zM242 754.5h1v1h-1zM144 758h1v1h-1zM209.5 735.7h1v1h-1zM202.3 727.9h1v1h-1zM72.4 758.9h1v1h-1zM95.4 757.2h1v1h-1zM136.1 735.1h1v1h-1zM197.1 722.1h1v1h-1zM294.7 755.4h1v1h-1zM136.5 720.6h1v1h-1zM267.6 761.7h1v1h-1zM129.9 706.4h1v1h-1zM175.8 729.1h1v1h-1zM151.5 738.6h1v1h-1zM39.9 736.1h1v1h-1zM213.9 735.2h1v1h-1zM36.7 736.3h1v1h-1zM275.5 744.2h1v1h-1zM170.7 723.2h1v1h-1zM92.5 728.6h1v1h-1zM286.2 707.8h1v1h-1zM197.9 733.3h1v1h-1zM59.9 714.1h1v1h-1zM103.7 703.6h1v1h-1zM60.6 754h1v1h-1zM116.8 743.4h1v1h-1zM163.6 732.7h1v1h-1zM154.6 699.7h1v1h-1zM55 706h1v1h-1zM248.5 745.3h1v1h-1zM286.8 744.7h1v1h-1zM95.2 737.3h1v1h-1zM209.3 716.5h1v1h-1zM143.8 751.8h1v1h-1zM90.1 699.6h1v1h-1zM269.3 720.7h1v1h-1zM194.5 763.9h1v1h-1zM87.2 715.5h1v1h-1zM123.8 716.6h1v1h-1zM165.5 699h1v1h-1zM246.6 765.7h1v1h-1zM91.8 724.6h1v1h-1zM134 745.6h1v1h-1zM144.5 756.4h1v1h-1zM283.4 715.5h1v1h-1zM66.9 739h1v1h-1zM52.4 725.8h1v1h-1zM87.2 754h1v1h-1zM141.7 754.5h1v1h-1zM190.7 748.4h1v1h-1zM209.9 751.1h1v1h-1zM227.9 752.5h1v1h-1zM137.8 709.5h1v1h-1zM96.8 753.2h1v1h-1zM66.5 749.6h1v1h-1zM48.7 698.5h1v1h-1zM227.6 747.2h1v1h-1zM241.2 722.7h1v1h-1zM214.7 747.8h1v1h-1zM96.3 705.9h1v1h-1zM52 718.3h1v1h-1zM238.5 713h1v1h-1zM253.8 741.9h1v1h-1zM284.9 716.2h1v1h-1zM289.6 750.6h1v1h-1zM48.4 716.2h1v1h-1zM66.3 720.2h1v1h-1zM188.5 763.7h1v1h-1zM260 719h1v1h-1zM188.3 731.8h1v1h-1zM41.1 716.8h1v1h-1zM167.3 732.2h1v1h-1zM223.3 718.2h1v1h-1zM292.3 760.2h1v1h-1zM113.9 706.6h1v1h-1zM94.3 721.5h1v1h-1zM161.5 727.2h1v1h-1zM194.4 746.7h1v1h-1zM38.9 706.3h1v1h-1zM150.6 731.7h1v1h-1zM230.7 748.8h1v1h-1zM136.2 741.2h1v1h-1zM113 732.3h1v1h-1zM255 747.5h1v1h-1zM41.4 747h1v1h-1zM186.4 758.4h1v1h-1zM50.9 697.5h1v1h-1zM114.8 764.3h1v1h-1zM126.3 735.4h1v1h-1zM92.2 732.2h1v1h-1zM235.2 719.2h1v1h-1zM57.4 738.1h1v1h-1zM55.2 699.6h1v1h-1zM77 721.2h1v1h-1zM79 763.3h1v1h-1zM214.9 749.6h1v1h-1zM214.3 719.2h1v1h-1zM42.2 698.4h1v1h-1zM73.4 722.5h1v1h-1zM173.5 748.8h1v1h-1zM278.8 754.8h1v1h-1zM193.1 746.3h1v1h-1zM286 761.7h1v1h-1zM199.4 745h1v1h-1zM254.7 756.7h1v1h-1zM175.6 736.4h1v1h-1zM287.8 717.4h1v1h-1zM124.9 765.5h1v1h-1zM170 738.2h1v1h-1zM135.2 698h1v1h-1zM186.9 752h1v1h-1zM150.7 705.9h1v1h-1zM58 700.9h1v1h-1zM260.8 739.9h1v1h-1zM244.5 753.9h1v1h-1zM43.3 734.9h1v1h-1zM78.1 717.2h1v1h-1zM83.5 732.9h1v1h-1zM120.9 703.4h1v1h-1zM246 755.2h1v1h-1zM178.9 758h1v1h-1zM175.8 708.6h1v1h-1zM246.9 734.7h1v1h-1zM135.9 704h1v1h-1zM254.3 716.4h1v1h-1zM290.6 713h1v1h-1zM108.2 740.6h1v1h-1zM218.7 761.1h1v1h-1zM113.9 704.9h1v1h-1zM250.1 721.6h1v1h-1zM64.8 718h1v1h-1zM126 699.8h1v1h-1zM294 755h1v1h-1zM182.6 728.2h1v1h-1zM45.1 734.7h1v1h-1zM125.1 752.7h1v1h-1zM77.1 717.1h1v1h-1zM233.3 765.1h1v1h-1zM175.7 719.8h1v1h-1zM215.3 763.7h1v1h-1zM43.9 711h1v1h-1zM70.1 736.8h1v1h-1zM255.1 720.4h1v1h-1zM250.1 698.5h1v1h-1zM59.4 712.2h1v1h-1zM254.9 739h1v1h-1zM52.2 745.4h1v1h-1zM264.5 727.8h1v1h-1zM162.5 757.8h1v1h-1zM86.2 716.6h1v1h-1zM253.5 714.9h1v1h-1zM234.8 702.8h1v1h-1zM89.4 727.6h1v1h-1zM171.7 717.1h1v1h-1zM57.4 703.3h1v1h-1zM255.3 718h1v1h-1zM126.6 749.8h1v1h-1zM215.1 727.8h1v1h-1zM101.6 728.8h1v1h-1zM256.3 739.1h1v1h-1zM106 720.2h1v1h-1zM226.4 759.1h1v1h-1zM117 726.8h1v1h-1zM97.8 735.9h1v1h-1zM176.7 749.6h1v1h-1zM266.9 755h1v1h-1zM277.8 732.5h1v1h-1zM61.9 751.9h1v1h-1zM49.2 704.7h1v1h-1zM209.4 745.2h1v1h-1zM245.2 715.4h1v1h-1zM228.8 728.1h1v1h-1zM41 747.4h1v1h-1zM208.4 722.8h1v1h-1zM145.2 706.7h1v1h-1zM246.8 714.2h1v1h-1zM92.4 751.3h1v1h-1zM135.4 739.9h1v1h-1zM172.2 731.3h1v1h-1zM196.4 730.5h1v1h-1zM56.3 731.9h1v1h-1zM175.8 698.7h1v1h-1zM36.9 764.2h1v1h-1zM122.3 705.2h1v1h-1zM61.7 727.7h1v1h-1zM265.1 753.9h1v1h-1zM165.4 748.4h1v1h-1zM213.7 748h1v1h-1zM268.5 722.4h1v1h-1zM165.5 747.7h1v1h-1zM230.9 754h1v1h-1zM57.2 743.8h1v1h-1zM237.1 740.2h1v1h-1zM191.9 718.5h1v1h-1zM129 713.1h1v1h-1zM38.2 702.1h1v1h-1zM54.6 765.6h1v1h-1zM175 760.9h1v1h-1zM157.3 743.1h1v1h-1zM227.7 700.7h1v1h-1zM193.8 703.7h1v1h-1zM57.5 715.6h1v1h-1zM266.5 749.7h1v1h-1zM72.8 717h1v1h-1zM130.8 712.9h1v1h-1zM122.6 723.8h1v1h-1zM239.7 762.8h1v1h-1zM88.5 744h1v1h-1zM88.1 763.9h1v1h-1zM257.3 743h1v1h-1zM230.3 720h1v1h-1zM49.5 741.9h1v1h-1zM41.5 759.5h1v1h-1zM291.8 752.2h1v1h-1zM88.1 703.8h1v1h-1zM222 759.4h1v1h-1zM218.7 730.5h1v1h-1zM116.8 739.3h1v1h-1zM127.7 708.1h1v1h-1zM159 735.7h1v1h-1zM213.7 744.9h1v1h-1zM119.3 730h1v1h-1zM231.6 760.5h1v1h-1zM224 732h1v1h-1zM41.3 728.6h1v1h-1zM164.9 735.1h1v1h-1zM178.1 728.9h1v1h-1zM146 733.8h1v1h-1zM119.3 751.6h1v1h-1zM126.7 758.1h1v1h-1zM283.4 747h1v1h-1zM63.2 753.2h1v1h-1zM259.5 700.4h1v1h-1zM228.2 749.3h1v1h-1zM129.2 716.4h1v1h-1zM39.2 759.5h1v1h-1zM130.6 749.6h1v1h-1zM83.4 750h1v1h-1zM110 736.1h1v1h-1zM102.8 724h1v1h-1zM201.8 708.8h1v1h-1zM116.4 724h1v1h-1zM137.7 724.1h1v1h-1zM100 705.8h1v1h-1zM230.6 731.6h1v1h-1zM247.5 711.6h1v1h-1zM294.9 703.2h1v1h-1zM42.3 763.5h1v1h-1zM124.3 732.1h1v1h-1zM140 712.3h1v1h-1zM280.4 761.5h1v1h-1zM165.3 735.6h1v1h-1zM137.9 749h1v1h-1zM194.3 729.1h1v1h-1zM58.3 756.6h1v1h-1zM208.7 719h1v1h-1zM229.1 737h1v1h-1zM57.4 707.2h1v1h-1zM52.7 743.3h1v1h-1zM104 752.5h1v1h-1zM281.3 733.3h1v1h-1zM132.4 717h1v1h-1zM134.7 737.8h1v1h-1zM122.2 712.1h1v1h-1zM150.1 710.8h1v1h-1zM202.3 736.9h1v1h-1zM55.9 742.9h1v1h-1zM225.6 710.1h1v1h-1zM198.9 744.1h1v1h-1zM110.7 749h1v1h-1zM49.1 711.5h1v1h-1zM119.3 717.6h1v1h-1zM260.3 723.2h1v1h-1zM188.3 710.5h1v1h-1zM233.8 735.8h1v1h-1zM167.4 737h1v1h-1zM155.5 736.2h1v1h-1zM72.6 744.6h1v1h-1zM51.9 714.6h1v1h-1zM144.7 704h1v1h-1zM108.1 724.7h1v1h-1zM215.9 723.5h1v1h-1zM247.4 737.7h1v1h-1zM232 732.4h1v1h-1zM128.7 751.5h1v1h-1zM268.5 710.1h1v1h-1zM48.5 761.2h1v1h-1zM165.4 736.8h1v1h-1zM154.6 726.7h1v1h-1zM173.1 742.5h1v1h-1zM206.6 743.1h1v1h-1zM268.5 733.8h1v1h-1zM264.1 706.2h1v1h-1zM65 701.1h1v1h-1zM182.7 723.6h1v1h-1zM79.5 765.1h1v1h-1zM223 741.5h1v1h-1zM80.4 698.8h1v1h-1zM61.8 750.9h1v1h-1zM84 712.8h1v1h-1zM228 727.6h1v1h-1zM126.5 747.9h1v1h-1zM132.4 761.8h1v1h-1zM67.6 738.5h1v1h-1zM146.4 718.1h1v1h-1zM40.2 712.2h1v1h-1zM153.5 745.1h1v1h-1zM101.3 724.7h1v1h-1zM173.7 723.2h1v1h-1zM145.2 715.6h1v1h-1zM151.6 698h1v1h-1zM221.9 737.9h1v1h-1zM215.6 738.6h1v1h-1zM210.6 759.4h1v1h-1zM201.1 725.8h1v1h-1zM212.9 713h1v1h-1zM213.7 748.4h1v1h-1zM142.8 754.6h1v1h-1zM220.7 749.9h1v1h-1zM288.8 729.7h1v1h-1zM53.8 725.3h1v1h-1zM159.8 753.5h1v1h-1zM63.7 717.1h1v1h-1zM188.9 727.1h1v1h-1zM190.8 735.3h1v1h-1zM179 728.9h1v1h-1zM237.9 757.6h1v1h-1zM158.2 717.9h1v1h-1zM283.3 724.6h1v1h-1zM125.2 758.3h1v1h-1zM86.6 718.1h1v1h-1zM194.7 754h1v1h-1zM77.9 740.7h1v1h-1zM43.8 708.6h1v1h-1zM188.4 722.4h1v1h-1zM251.9 720.3h1v1h-1zM280 714.2h1v1h-1zM145.5 750.9h1v1h-1zM260.6 717.3h1v1h-1zM217.9 723.2h1v1h-1zM114.5 736h1v1h-1zM239.2 706.6h1v1h-1zM107.6 728.4h1v1h-1zM101.3 708.3h1v1h-1zM107.1 751.8h1v1h-1zM89.9 734.7h1v1h-1zM180.3 745.3h1v1h-1zM293.8 730.2h1v1h-1zM258.7 761.6h1v1h-1zM253 705.4h1v1h-1zM188.7 735h1v1h-1zM209 737.3h1v1h-1zM139.8 725.8h1v1h-1zM236.5 733.2h1v1h-1zM140 740.8h1v1h-1zM179.4 752.6h1v1h-1zM263.6 716.4h1v1h-1zM262.5 708.4h1v1h-1zM74.3 719.4h1v1h-1zM158.9 756.2h1v1h-1zM129.6 723.4h1v1h-1zM246.7 721.7h1v1h-1zM66.2 717.2h1v1h-1zM87.1 759.6h1v1h-1zM184.7 735.2h1v1h-1zM92.7 756.7h1v1h-1zM68.3 753h1v1h-1zM108.7 752.9h1v1h-1zM159 730.5h1v1h-1zM67.1 741h1v1h-1zM287.4 729.1h1v1h-1zM174.4 750.4h1v1h-1zM59.6 743h1v1h-1zM139.4 760.9h1v1h-1zM114.8 702.3h1v1h-1zM291.2 748.8h1v1h-1zM272 720.7h1v1h-1zM295.5 754.9h1v1h-1zM102 760.6h1v1h-1zM152.8 711.6h1v1h-1zM257.2 751.7h1v1h-1zM201 705.9h1v1h-1zM292.3 758.6h1v1h-1zM274.8 765.3h1v1h-1zM122.2 751.3h1v1h-1zM108.9 749.3h1v1h-1zM197.8 727.2h1v1h-1zM177.8 765.7h1v1h-1zM190.5 729.8h1v1h-1zM79.7 729.1h1v1h-1zM282.1 736.2h1v1h-1zM175.1 764.6h1v1h-1zM225.8 753.5h1v1h-1zM152 744.4h1v1h-1zM244.9 760.8h1v1h-1zM175.6 699.8h1v1h-1zM126 733.6h1v1h-1zM50.4 717.7h1v1h-1zM136.8 698.5h1v1h-1zM143.7 757.2h1v1h-1zM224.6 764.9h1v1h-1zM223.6 761.6h1v1h-1zM107.8 760.1h1v1h-1zM284.5 717.2h1v1h-1zM122.1 757.3h1v1h-1zM253.2 745.1h1v1h-1zM265.5 728.1h1v1h-1zM289.8 713.4h1v1h-1zM216.6 699.9h1v1h-1zM37 702.2h1v1h-1zM176.1 751.3h1v1h-1zM259.4 737.9h1v1h-1zM131.5 760.1h1v1h-1zM168.2 752h1v1h-1zM288.6 714.2h1v1h-1zM134.9 757h1v1h-1zM186.6 758.7h1v1h-1zM40.9 753.2h1v1h-1zM210 740.9h1v1h-1zM73.6 720.5h1v1h-1zM275.2 724.9h1v1h-1zM274.1 721.6h1v1h-1zM197.7 743.4h1v1h-1zM83.3 754.8h1v1h-1zM73.3 708.4h1v1h-1zM88.5 724.2h1v1h-1zM42.2 697.5h1v1h-1zM218.9 744.8h1v1h-1zM206 699.3h1v1h-1zM161.6 746.9h1v1h-1zM92.5 714.5h1v1h-1zM86.1 700.5h1v1h-1zM254.7 743.1h1v1h-1zM98.2 727.4h1v1h-1zM76.2 756.6h1v1h-1zM293.2 731.8h1v1h-1zM86 713.3h1v1h-1zM174.2 758.3h1v1h-1zM79 738h1v1h-1zM156.2 712.9h1v1h-1zM285.1 715.3h1v1h-1zM257.6 735h1v1h-1zM122.3 753h1v1h-1zM156.9 754.2h1v1h-1zM93.8 724.9h1v1h-1zM264.5 725.3h1v1h-1zM217.5 745.9h1v1h-1zM182.9 740.7h1v1h-1zM119.3 723.9h1v1h-1zM225.8 712.4h1v1h-1zM72.1 758.8h1v1h-1zM101.4 708.8h1v1h-1zM184.8 709.9h1v1h-1zM100.9 713.6h1v1h-1zM171.3 753.1h1v1h-1zM218.9 710.8h1v1h-1zM155.6 705.3h1v1h-1zM122.3 748.2h1v1h-1zM248.4 730.3h1v1h-1zM187.1 733.7h1v1h-1zM79 761.1h1v1h-1zM106.2 744.4h1v1h-1zM80.8 743.2h1v1h-1zM113.4 721.3h1v1h-1zM82.8 764.5h1v1h-1zM284.7 711.9h1v1h-1zM169.2 725.3h1v1h-1zM39 763.6h1v1h-1zM244.5 702.3h1v1h-1zM188.5 698.2h1v1h-1zM129.9 713.4h1v1h-1zM79 709.7h1v1h-1zM293.8 748.4h1v1h-1zM280.5 708.2h1v1h-1zM137 709.2h1v1h-1zM164.6 723.4h1v1h-1zM78.7 737.8h1v1h-1zM60.2 720.4h1v1h-1zM172.1 723h1v1h-1zM82.4 735.7h1v1h-1zM272.8 754h1v1h-1zM221.5 748.6h1v1h-1zM56.7 750.7h1v1h-1zM185.3 744h1v1h-1zM231.9 743.2h1v1h-1zM272.4 711.7h1v1h-1zM105.8 741.6h1v1h-1zM185.7 737.7h1v1h-1zM113.7 702.7h1v1h-1zM97.3 761.5h1v1h-1zM200.1 747.1h1v1h-1zM212.5 718.9h1v1h-1zM57.5 736.9h1v1h-1zM195 725h1v1h-1zM121.6 765.4h1v1h-1zM168.4 734.5h1v1h-1zM55.3 714h1v1h-1zM106 708.4h1v1h-1zM202.4 732.7h1v1h-1zM228.3 757.6h1v1h-1zM158 703.5h1v1h-1zM124.3 715.9h1v1h-1zM50.8 742.6h1v1h-1zM256.3 761.1h1v1h-1zM184 762.6h1v1h-1zM56.7 729.8h1v1h-1zM196.5 702.1h1v1h-1zM146.1 749.5h1v1h-1zM96.5 709.1h1v1h-1zM62.2 742.1h1v1h-1zM141.3 734h1v1h-1zM136.5 763.8h1v1h-1zM188.6 700.2h1v1h-1zM104.2 765.4h1v1h-1zM249 754.5h1v1h-1zM155 746.2h1v1h-1zM262.9 763h1v1h-1zM229.5 755.2h1v1h-1zM37.2 760.5h1v1h-1zM151.6 721.4h1v1h-1zM292 727.4h1v1h-1zM82.3 705.7h1v1h-1zM114.5 708.1h1v1h-1zM52.1 749.3h1v1h-1zM239 717h1v1h-1zM209.2 759.2h1v1h-1zM36.5 728h1v1h-1zM183.5 719.8h1v1h-1zM165.8 734h1v1h-1zM61.8 735.6h1v1h-1zM217 733.3h1v1h-1zM144.2 701.8h1v1h-1zM85.9 703.2h1v1h-1zM183.9 730.4h1v1h-1zM125.8 719.2h1v1h-1zM185 762h1v1h-1zM239.1 702.9h1v1h-1zM210.6 707.3h1v1h-1zM288.2 732.1h1v1h-1zM69.9 746.5h1v1h-1zM133.4 716.2h1v1h-1zM222.3 701.6h1v1h-1zM215.4 702.7h1v1h-1zM109.6 728.2h1v1h-1zM135.1 699h1v1h-1zM196.4 746.2h1v1h-1zM64.2 764.7h1v1h-1zM184.9 738.6h1v1h-1zM188.3 739.2h1v1h-1zM257.1 708.1h1v1h-1zM162.7 744.6h1v1h-1zM210.3 720.9h1v1h-1zM256.2 711.6h1v1h-1zM258.1 730h1v1h-1zM50.1 752.5h1v1h-1zM102.7 744.9h1v1h-1zM286.2 718.1h1v1h-1zM120 738.2h1v1h-1zM130 720.5h1v1h-1zM74.9 709.6h1v1h-1zM286.4 722.6h1v1h-1zM50.4 730.2h1v1h-1zM92.4 734h1v1h-1zM90.1 755.6h1v1h-1zM85.6 701.9h1v1h-1zM284.6 715.8h1v1h-1zM85.5 748.5h1v1h-1zM161.8 740.5h1v1h-1zM149.1 699.8h1v1h-1zM142 749.8h1v1h-1zM273 724.7h1v1h-1zM177.2 736.8h1v1h-1zM116.2 727.4h1v1h-1zM141.5 715.9h1v1h-1zM80.1 729.8h1v1h-1zM40.9 754.1h1v1h-1zM156.5 734.1h1v1h-1zM65.4 714.9h1v1h-1zM238.4 719.9h1v1h-1zM189.4 726.7h1v1h-1zM295.8 705.8h1v1h-1zM110.3 728.9h1v1h-1zM110.7 750.3h1v1h-1zM44.3 746.2h1v1h-1zM131.4 708.8h1v1h-1zM102 748.9h1v1h-1zM284.2 755.2h1v1h-1zM116.1 731h1v1h-1zM239 747.6h1v1h-1zM121.1 755.1h1v1h-1zM56.7 709.1h1v1h-1zM273.3 701.1h1v1h-1zM193.2 717.9h1v1h-1zM232 761.1h1v1h-1zM142.2 747.5h1v1h-1zM241.8 705.6h1v1h-1zM84.2 746.5h1v1h-1zM246.6 733.2h1v1h-1zM216.7 713.4h1v1h-1zM63.1 751.8h1v1h-1zM64.6 729.3h1v1h-1zM70.6 742.5h1v1h-1zM229.2 760.6h1v1h-1zM275.2 728h1v1h-1zM233.2 713.3h1v1h-1zM59.7 713h1v1h-1zM135.4 717.4h1v1h-1zM294.8 706.6h1v1h-1zM70.7 744.1h1v1h-1zM77.7 709.4h1v1h-1zM222.5 741.2h1v1h-1zM127.5 706h1v1h-1zM97.3 706h1v1h-1zM75.9 698.5h1v1h-1zM283 744.9h1v1h-1zM191.8 734.3h1v1h-1zM170.5 702.5h1v1h-1zM276.8 715.6h1v1h-1zM173.2 725h1v1h-1zM276.7 741.6h1v1h-1zM251.8 710.7h1v1h-1zM109 748.8h1v1h-1zM254.3 752h1v1h-1zM57.3 727.3h1v1h-1zM210 747.3h1v1h-1zM246.6 714.9h1v1h-1zM219 729.9h1v1h-1zM292.5 721.2h1v1h-1zM177.8 751.1h1v1h-1zM177.9 705.2h1v1h-1zM223.8 731.4h1v1h-1zM48.1 755.4h1v1h-1zM200.3 704.7h1v1h-1zM246.3 708.8h1v1h-1zM247.8 711.7h1v1h-1zM272.5 699.9h1v1h-1zM144.2 723.3h1v1h-1zM59.3 759.6h1v1h-1zM105.5 738.4h1v1h-1zM279.8 756.6h1v1h-1zM156.1 758.3h1v1h-1zM134.5 742.3h1v1h-1zM130.6 755.4h1v1h-1zM70.3 706.8h1v1h-1zM206.5 763.9h1v1h-1zM58.4 718.7h1v1h-1zM79.2 720.9h1v1h-1zM109.1 744.7h1v1h-1zM223 706.2h1v1h-1zM60.9 705.6h1v1h-1zM194.5 706.3h1v1h-1zM229.9 757.4h1v1h-1zM81.6 753.8h1v1h-1zM177.8 722.4h1v1h-1zM191.9 714.2h1v1h-1zM248.8 721.9h1v1h-1zM39.3 743.2h1v1h-1zM129 751.2h1v1h-1zM272.6 763.4h1v1h-1zM79.4 712.1h1v1h-1zM188 756.8h1v1h-1zM161.9 728.6h1v1h-1zM279.4 753h1v1h-1zM146.1 713.9h1v1h-1zM125.6 724.1h1v1h-1zM47.4 710.4h1v1h-1zM274.3 758.7h1v1h-1zM153.4 728.8h1v1h-1zM168.1 736.5h1v1h-1zM222.2 704h1v1h-1zM49.7 759.1h1v1h-1zM99.1 731.7h1v1h-1zM296 721h1v1h-1zM165.7 750.9h1v1h-1zM151.9 754.9h1v1h-1zM279.4 762.7h1v1h-1zM78 718.4h1v1h-1zM204.2 765.7h1v1h-1zM178.3 724.8h1v1h-1zM185.2 719.4h1v1h-1zM261.9 741.2h1v1h-1zM86.1 757.9h1v1h-1zM51.1 764.7h1v1h-1zM101.9 725.3h1v1h-1zM188.4 740.3h1v1h-1zM93.6 755.7h1v1h-1zM287 737.2h1v1h-1zM251.4 721.7h1v1h-1zM215 718.2h1v1h-1zM241.3 713.9h1v1h-1zM159.3 704.4h1v1h-1zM216.3 722.3h1v1h-1zM153.5 755.5h1v1h-1zM114.2 714.1h1v1h-1zM142.4 740.4h1v1h-1zM151.1 762.6h1v1h-1zM147.1 749.4h1v1h-1zM257.8 737.4h1v1h-1zM62.8 735.9h1v1h-1zM126.5 738.3h1v1h-1zM120.5 706.1h1v1h-1zM202.2 746.6h1v1h-1zM169.1 714.5h1v1h-1zM277.1 739.4h1v1h-1zM43.2 741.5h1v1h-1zM89.9 741.2h1v1h-1zM185.1 719.3h1v1h-1zM116.3 707.6h1v1h-1zM91.5 742.7h1v1h-1zM231.3 719h1v1h-1zM255.3 727.1h1v1h-1zM222 740.3h1v1h-1zM110.1 717h1v1h-1zM134.9 740.3h1v1h-1zM221.7 753.8h1v1h-1zM173.1 710.2h1v1h-1zM256.5 719.9h1v1h-1zM211.6 743.2h1v1h-1zM51.2 743.8h1v1h-1zM45.7 753.7h1v1h-1zM296.2 762h1v1h-1zM76.6 706.7h1v1h-1zM38.8 730.5h1v1h-1zM162.5 749.8h1v1h-1zM142.7 750.3h1v1h-1zM182.7 752.8h1v1h-1zM174.1 762h1v1h-1zM102.4 698h1v1h-1zM50.3 730.8h1v1h-1zM147 747.8h1v1h-1zM80.3 725.7h1v1h-1zM180.6 763.2h1v1h-1z"/>
<path fill="#e02020" fill-opacity="0.25" d="M142.7 734.5v1h35.3v-1zM82.3 712.9v1h7v-1zM66.6 698.1v1h11.3v-1zM170.2 765.1v1h29.6v-1zM134.9 725.2v1h29.5v-1zM121.3 702.5v1h34.6v-1zM197.2 705.2v1h8.4v-1zM60.9 763v1h9.7v-1zM199.3 763.7v1h7.2v-1zM136.8 730.1v1h37.2v-1zM85.4 715.1v1h14.4v-1zM49 743.5v1h33.8v-1zM150 700.1v1h30.3v-1zM228.4 742.1v1h17.2v-1zM252.8 740.6v1h26.1v-1zM177.2 713.4v1h21.5v-1zM243.3 744.2v1h17.8v-1zM250 754.8v1h7.5v-1zM77.2 712.7v1h6.5v-1zM232.7 741.7v1h24.5v-1zM295.6 721.9v1h2.4v-1zM65.3 720.7v1h34.5v-1zM194.4 701.5v1h20.7v-1zM48.7 740.1v1h10.2v-1zM83 741.4v1h34.4v-1zM197.8 717.6v1h27.9v-1zM107.2 698v1h15.3v-1zM215.7 740.3v1h12.5v-1zM255.4 754.2v1h15.5v-1zM286.8 715.4v1h8.2v-1zM169.8 756.6v1h26.4v-1zM178.7 730.8v1h15.7v-1zM114.4 725v1h24.6v-1zM282.1 702.5v1h14.6v-1zM282.3 742.4v1h8.5v-1zM151.4 742v1h37v-1zM58.2 759.1v1h32.2v-1zM108.9 733.9v1h34.1v-1zM99.6 745.4v1h25v-1zM55.2 716.1v1h20v-1zM72.6 762v1h14.5v-1zM96.6 738.3v1h23.9v-1zM119.4 719.7v1h22.9v-1zM273.3 702.9v1h24.7v-1zM280.8 744.2v1h17.2v-1zM135.8 763.2v1h31.2v-1zM215.3 728.2v1h13.5v-1zM216.5 747.8v1h6.2v-1zM117.4 734.1v1h13.2v-1zM69.9 710.3v1h6.5v-1zM67.7 724.2v1h23v-1zM202.7 718.5v1h10.4v-1zM276.2 740.7v1h21.8v-1zM215.9 719.5v1h26.2v-1zM119.3 742.1v1h33.8v-1zM40.5 751.8v1h10v-1zM40.4 702.6v1h25.1v-1zM259.9 760.7v1h11.4v-1zM148.1 761.8v1h36.2v-1zM251.7 714.5v1h15.3v-1zM75.1 715.5v1h19.8v-1zM244 742.6v1h11.8v-1zM82.8 728.3v1h36.3v-1zM159.4 751.4v1h29.4v-1zM265.2 731.4v1h18.8v-1zM155.5 752.3v1h15.5v-1zM86.6 754.7v1h22.3v-1zM203.5 709.4v1h7.4v-1zM94.9 726.8v1h7.1v-1zM107.4 761.9v1h20.9v-1zM37.4 752.3v1h16.3v-1zM81.3 741.1v1h28.6v-1zM120.8 746v1h35.8v-1zM124.8 731.5v1h6.2v-1zM190.4 717.5v1h28.2v-1zM233.9 720.8v1h28.7v-1zM282 709v1h16v-1zM160.7 761.9v1h8.5v-1zM136.1 708.6v1h14.8v-1zM268.4 733.8v1h18.2v-1zM287.3 701.1v1h6.6v-1zM236.5 735.6v1h34.3v-1zM165.6 762v1h17.3v-1zM95.9 757.9v1h24.1v-1zM44 698.2v1h6.5v-1zM226.5 741.1v1h9.8v-1zM243.9 750.5v1h27.5v-1zM186.9 727.1v1h29.5v-1zM137.6 760.8v1h26.1v-1zM211.7 760.7v1h39.4v-1zM175.2 705.2v1h23.9v-1zM275.8 711.7v1h14.7v-1zM108 713.4v1h33.6v-1zM175.9 703.3v1h23.4v-1zM217.7 699.3v1h12.7v-1zM39.8 745v1h19.6v-1zM39.8 714.4v1h12.5v-1zM184.5 726.6v1h20.3v-1zM122.1 700.2v1h17.1v-1zM201.5 734.2v1h26v-1zM77.7 700.4v1h31.9v-1zM222.3 742.5v1h38.7v-1zM116.1 747.5v1h15.8v-1zM192.4 759.4v1h21.5v-1zM196.6 764.9v1h22.7v-1zM98.6 762.7v1h28.9v-1zM121.2 716.3v1h6.8v-1zM58.7 764.4v1h25v-1zM239.2 713.9v1h34.6v-1zM220.4 757.3v1h22.5v-1zM275.6 736.3v1h10.9v-1zM273.2 718.1v1h24.8v-1zM179.5 724.8v1h23.7v-1zM133.3 702.8v1h7.6v-1zM58.2 759.2v1h17.8v-1zM42.1 724.9v1h27.6v-1zM201.6 759.9v1h17.9v-1zM285 698.3v1h11.4v-1zM164.1 741.6v1h20.2v-1zM240.8 734.8v1h6v-1zM138 741.3v1h14.8v-1zM84.7 741.5v1h21.6v-1zM293.9 762.5v1h4.1v-1zM44.7 709.7v1h20.7v-1zM146.7 727v1h8.9v-1zM114.3 725.5v1h31.6v-1zM66.4 740.8v1h18.9v-1zM238.3 744v1h12.5v-1zM220.3 722.7v1h34.3v-1zM41.6 718.9v1h23.6v-1zM112.8 724.1v1h25.6v-1zM98.4 756.2v1h15.7v-1zM216.3 763.1v1h9.4v-1zM264.8 709.5v1h21.4v-1zM67 760.9v1h16.6v-1zM170.4 763.8v1h11v-1zM56.6 744.9v1h7.5v-1zM69.2 714.9v1h6.4v-1zM125.7 701.4v1h37.7v-1zM169.3 699.6v1h31.5v-1z"/>
<rect x="36.2" y="697.5" width="8" height="69.3" fill="url(#gLeft)"/>
<rect x="36.2" y="697.5" width="261.8" height="1.5" fill="#e02020" fill-opacity="0.35"/>
<rect x="298" y="697.5" width="67.8" height="69.3" fill="url(#gCorner)"/>
<rect x="298" y="697.5" width="67.8" height="69.3" filter="url(#nzB)" opacity="0.5"/>
<rect x="298" y="697.5" width="67.8" height="69.3" fill="url(#rCorner)"/>
<line x1="298" y1="697.5" x2="365.8" y2="766.8" stroke="#e82020" stroke-width="0.9"/>
<rect x="36.3" y="436.7" width="57.1" height="56.4" fill="url(#gC1)"/>
<rect x="36.3" y="436.7" width="57.1" height="56.4" filter="url(#wn)" opacity="0.55"/>
<rect x="93.4" y="493.1" width="29.2" height="29.5" fill="url(#gC)"/>
<rect x="93.4" y="493.1" width="29.2" height="29.5" filter="url(#wn)" opacity="0.55"/>
<rect x="122.6" y="522.6" width="29" height="28.5" fill="url(#gC)"/>
<rect x="122.6" y="522.6" width="29" height="28.5" filter="url(#wn)" opacity="0.55"/>
<rect x="151.6" y="551.1" width="26.8" height="26.9" fill="url(#gC)"/>
<rect x="151.6" y="551.1" width="26.8" height="26.9" filter="url(#wn)" opacity="0.55"/>
<rect x="178.4" y="578" width="26.8" height="26.7" fill="url(#gC)"/>
<rect x="178.4" y="578" width="26.8" height="26.7" filter="url(#wn)" opacity="0.55"/>
<rect x="205.2" y="604.7" width="26.9" height="26.9" fill="url(#gC)"/>
<rect x="205.2" y="604.7" width="26.9" height="26.9" filter="url(#wn)" opacity="0.55"/>
<rect x="232.1" y="631.6" width="22.6" height="22.2" fill="url(#gC)"/>
<rect x="232.1" y="631.6" width="22.6" height="22.2" filter="url(#wn)" opacity="0.55"/>
<rect x="254.7" y="653.8" width="22.3" height="22.2" fill="url(#gC)"/>
<rect x="254.7" y="653.8" width="22.3" height="22.2" filter="url(#wn)" opacity="0.55"/>
<rect x="277" y="676" width="21" height="21.5" fill="url(#gC)"/>
<rect x="277" y="676" width="21" height="21.5" filter="url(#wn)" opacity="0.55"/>
<polyline points="36.3,436.7 36.3,493.1 93.4,493.1 93.4,522.6 122.6,522.6 122.6,551.1 151.6,551.1 151.6,578 178.4,578 178.4,604.7 205.2,604.7 205.2,631.6 232.1,631.6 232.1,653.8 254.7,653.8 254.7,676 277,676 277,697.5 298,697.5" fill="none" stroke="#2222dd" stroke-width="1.8"/>
<path d="M36.2 431.5v4.6M80.8 431.5v4.6M125.4 431.5v4.6M170 431.5v4.6M214.6 431.5v4.6M259.2 431.5v4.6M303.8 431.5v4.6M348.4 431.5v4.6" stroke="#2222dd" stroke-width="1.1"/>
<path d="M31.6 436.7h4.1M31.6 481.3h4.1M31.6 525.9h4.1M31.6 570.5h4.1M31.6 615.1h4.1M31.6 659.7h4.1M31.6 704.3h4.1M31.6 748.9h4.1" stroke="#1e8c1e" stroke-width="1.1"/>
<text x="52.2" y="429.8" font-size="6.3" font-weight="bold" fill="#2222dd" text-anchor="end">0 MB</text>
<text x="141.4" y="429.8" font-size="6.3" font-weight="bold" fill="#2222dd" text-anchor="end">100 MB</text>
<text x="230.6" y="429.8" font-size="6.3" font-weight="bold" fill="#2222dd" text-anchor="end">200 MB</text>
<text x="319.8" y="429.8" font-size="6.3" font-weight="bold" fill="#2222dd" text-anchor="end">300 MB</text>
<text x="30.5" y="436.3" font-size="6.3" font-weight="bold" fill="#1e8c1e" text-anchor="end" transform="rotate(-90 30.5 436.3)">0 MB</text>
<text x="30.5" y="509.9" font-size="6.3" font-weight="bold" fill="#1e8c1e" text-anchor="end" transform="rotate(-90 30.5 509.9)">100 MB</text>
<text x="30.5" y="599.1" font-size="6.3" font-weight="bold" fill="#1e8c1e" text-anchor="end" transform="rotate(-90 30.5 599.1)">200 MB</text>
<text x="30.5" y="688.3" font-size="6.3" font-weight="bold" fill="#1e8c1e" text-anchor="end" transform="rotate(-90 30.5 688.3)">300 MB</text>
<polygon points="429.1,438.6 446.6,421.1 760.5,421.1 778,438.6 778,752.5 760.5,770 446.6,770 429.1,752.5" fill="#f1f1f1"/>
<rect x="446.8" y="438.6" width="314.2" height="313.6" fill="#fff"/>
<path d="M530.4 431.5V752.2M564.5 431.5V752.2M595.6 431.5V752.2M626.6 431.5V752.2M656.1 431.5V752.2M684.3 431.5V752.2M710.2 431.5V752.2M735.6 431.5V752.2M446.8 463.7H767.5M446.8 490.5H767.5M446.8 517.6H767.5M446.8 549.6H767.5M446.8 581.3H767.5M446.8 614.3H767.5M446.8 648.6H767.5M446.8 683.3H767.5" stroke="#222" stroke-width="1"/>
<text font-size="7" fill="#000" stroke="#000" stroke-width="0.25" text-anchor="middle" transform="translate(488.6 436.1) scale(0.81 1)">scaffold_1</text>
<text font-size="7" fill="#000" stroke="#000" stroke-width="0.25" text-anchor="middle" transform="translate(547.5 436.1) scale(0.81 1)">scaffold_2</text>
<text font-size="7" fill="#000" stroke="#000" stroke-width="0.25" text-anchor="middle" transform="translate(580 436.1) scale(0.81 1)">scaffold_3</text>
<text font-size="7" fill="#000" stroke="#000" stroke-width="0.25" text-anchor="middle" transform="translate(611.1 436.1) scale(0.81 1)">scaffold_4</text>
<text font-size="7" fill="#000" stroke="#000" stroke-width="0.25" text-anchor="middle" transform="translate(641.4 436.1) scale(0.81 1)">scaffold_5</text>
<text font-size="7" fill="#000" stroke="#000" stroke-width="0.25" text-anchor="middle" transform="translate(670.2 436.1) scale(0.81 1)">scaffold_6</text>
<text font-size="7" fill="#000" stroke="#000" stroke-width="0.25" text-anchor="middle" transform="translate(697.2 436.1) scale(0.81 1)">scaffold_7</text>
<text font-size="7" fill="#000" stroke="#000" stroke-width="0.25" text-anchor="middle" transform="translate(722.9 436.1) scale(0.81 1)">scaffold_8</text>
<text font-size="7" fill="#000" stroke="#000" stroke-width="0.25" text-anchor="middle" transform="translate(748.3 436.1) scale(0.81 1)">scaffold_9</text>
<text font-size="7" fill="#000" stroke="#000" stroke-width="0.25" text-anchor="middle" transform="translate(762.6 451.1) rotate(90) scale(0.81 1)">scaffold_9</text>
<text font-size="7" fill="#000" stroke="#000" stroke-width="0.25" text-anchor="middle" transform="translate(762.6 477.1) rotate(90) scale(0.81 1)">scaffold_8</text>
<text font-size="7" fill="#000" stroke="#000" stroke-width="0.25" text-anchor="middle" transform="translate(762.6 504.1) rotate(90) scale(0.81 1)">scaffold_7</text>
<text font-size="7" fill="#000" stroke="#000" stroke-width="0.25" text-anchor="middle" transform="translate(762.6 533.6) rotate(90) scale(0.81 1)">scaffold_6</text>
<text font-size="7" fill="#000" stroke="#000" stroke-width="0.25" text-anchor="middle" transform="translate(762.6 565.5) rotate(90) scale(0.81 1)">scaffold_5</text>
<text font-size="7" fill="#000" stroke="#000" stroke-width="0.25" text-anchor="middle" transform="translate(762.6 597.8) rotate(90) scale(0.81 1)">scaffold_4</text>
<text font-size="7" fill="#000" stroke="#000" stroke-width="0.25" text-anchor="middle" transform="translate(762.6 631.5) rotate(90) scale(0.81 1)">scaffold_3</text>
<text font-size="7" fill="#000" stroke="#000" stroke-width="0.25" text-anchor="middle" transform="translate(762.6 666) rotate(90) scale(0.81 1)">scaffold_2</text>
<text font-size="7" fill="#000" stroke="#000" stroke-width="0.25" text-anchor="middle" transform="translate(762.6 717.8) rotate(90) scale(0.81 1)">scaffold_1</text>
<text font-size="7.3" fill="#000" stroke="#000" stroke-width="0.25" text-anchor="middle" transform="translate(440.6 721) rotate(-90) scale(0.85 1)">29.3 M</text>
<text font-size="7.3" fill="#000" stroke="#000" stroke-width="0.25" text-anchor="middle" transform="translate(440.6 689.4) rotate(-90) scale(0.85 1)">58.6 M</text>
<text font-size="7.3" fill="#000" stroke="#000" stroke-width="0.25" text-anchor="middle" transform="translate(440.6 657.9) rotate(-90) scale(0.85 1)">87.8 M</text>
<text font-size="7.3" fill="#000" stroke="#000" stroke-width="0.25" text-anchor="middle" transform="translate(440.6 626.3) rotate(-90) scale(0.85 1)">117.1 M</text>
<text font-size="7.3" fill="#000" stroke="#000" stroke-width="0.25" text-anchor="middle" transform="translate(440.6 594.8) rotate(-90) scale(0.85 1)">146.4 M</text>
<text font-size="7.3" fill="#000" stroke="#000" stroke-width="0.25" text-anchor="middle" transform="translate(440.6 563.2) rotate(-90) scale(0.85 1)">175.7 M</text>
<text font-size="7.3" fill="#000" stroke="#000" stroke-width="0.25" text-anchor="middle" transform="translate(440.6 531.6) rotate(-90) scale(0.85 1)">205 M</text>
<text font-size="7.3" fill="#000" stroke="#000" stroke-width="0.25" text-anchor="middle" transform="translate(440.6 500.1) rotate(-90) scale(0.85 1)">234.3 M</text>
<text font-size="7.3" fill="#000" stroke="#000" stroke-width="0.25" text-anchor="middle" transform="translate(440.6 468.6) rotate(-90) scale(0.85 1)">263.5 M</text>
<text font-size="7.3" fill="#000" stroke="#000" stroke-width="0.25" text-anchor="middle" transform="translate(478.1 765.6) scale(0.85 1)">38.3 M</text>
<text font-size="7.3" fill="#000" stroke="#000" stroke-width="0.25" text-anchor="middle" transform="translate(509.5 765.6) scale(0.85 1)">76.5 M</text>
<text font-size="7.3" fill="#000" stroke="#000" stroke-width="0.25" text-anchor="middle" transform="translate(540.9 765.6) scale(0.85 1)">114.8 M</text>
<text font-size="7.3" fill="#000" stroke="#000" stroke-width="0.25" text-anchor="middle" transform="translate(572.3 765.6) scale(0.85 1)">153.1 M</text>
<text font-size="7.3" fill="#000" stroke="#000" stroke-width="0.25" text-anchor="middle" transform="translate(603.7 765.6) scale(0.85 1)">191.4 M</text>
<text font-size="7.3" fill="#000" stroke="#000" stroke-width="0.25" text-anchor="middle" transform="translate(635.1 765.6) scale(0.85 1)">229.6 M</text>
<text font-size="7.3" fill="#000" stroke="#000" stroke-width="0.25" text-anchor="middle" transform="translate(666.5 765.6) scale(0.85 1)">267.9 M</text>
<text font-size="7.3" fill="#000" stroke="#000" stroke-width="0.25" text-anchor="middle" transform="translate(697.9 765.6) scale(0.85 1)">306.2 M</text>
<text font-size="7.3" fill="#000" stroke="#000" stroke-width="0.25" text-anchor="middle" transform="translate(729.3 765.6) scale(0.85 1)">344.4 M</text>
<path d="M443 721h3M443 689.4h3M443 657.9h3M443 626.3h3M443 594.8h3M443 563.2h3M443 531.6h3M443 500.1h3M443 468.6h3M478.1 753.3v3.1M509.5 753.3v3.1M540.9 753.3v3.1M572.3 753.3v3.1M603.7 753.3v3.1M635.1 753.3v3.1M666.5 753.3v3.1M697.9 753.3v3.1M729.3 753.3v3.1" stroke="#333" stroke-width="0.8"/>
<path d="M466.4 743L478.5 731L496.5 713.5L515 698L530.6 683.5M530.5 648L548 630L563.5 614.8M564.8 648.8L578.5 664L594.8 683M595.7 582.1L610 598L623.6 613.1M626.4 523.6L632.9 517.9M632.9 525L660 555L681.4 577.9M684.2 458.7L688.3 463.1M688.3 463.1L698 452L709.8 440M735.7 464.2L759.5 489.6M710.9 517.2L724 505L734.6 491.3" fill="none" stroke="#1a561a" stroke-width="2" stroke-linecap="round"/>
<path d="M476.9 729.2l3.2 3.6M482.7 725.6l3.2 3.6M494.9 711.7l3.2 3.6M501.4 707.2l3.2 3.6M511.4 698.2l3.2 3.6M518.4 691.2l3.2 3.6" stroke="#1a561a" stroke-width="1.6"/>
<path fill="#1a561a" d="M469.2 736.5h1.8v1.8h-1.8zM476.8 731.7h1.8v1.8h-1.8zM471.8 736.2h1.8v1.8h-1.8zM473.4 735.7h1.8v1.8h-1.8zM492.5 714.3h1.8v1.8h-1.8zM481 726.4h1.8v1.8h-1.8zM489.8 717.2h1.8v1.8h-1.8zM490.2 717.5h1.8v1.8h-1.8zM491.8 716.1h1.8v1.8h-1.8zM489.6 717.8h1.8v1.8h-1.8zM499.2 711.3h1.8v1.8h-1.8zM512.3 696.8h1.8v1.8h-1.8zM507.4 702h1.8v1.8h-1.8zM513.1 698.2h1.8v1.8h-1.8zM498.8 710h1.8v1.8h-1.8zM507.9 702h1.8v1.8h-1.8zM513.3 696.7h1.8v1.8h-1.8zM525.2 687.3h1.8v1.8h-1.8zM523.7 689.8h1.8v1.8h-1.8zM518 691h1.8v1.8h-1.8zM515.9 697.7h1.8v1.8h-1.8zM541.5 634.1h1.8v1.8h-1.8zM533.1 645.3h1.8v1.8h-1.8zM543.1 633.3h1.8v1.8h-1.8zM545.9 631h1.8v1.8h-1.8zM538 639.8h1.8v1.8h-1.8zM536.6 641.2h1.8v1.8h-1.8zM550.5 625.5h1.8v1.8h-1.8zM552.7 624.3h1.8v1.8h-1.8zM561 616.3h1.8v1.8h-1.8zM559.5 616.8h1.8v1.8h-1.8zM548.1 625.6h1.8v1.8h-1.8zM571.6 657.2h1.8v1.8h-1.8zM570.6 656h1.8v1.8h-1.8zM567.6 650.2h1.8v1.8h-1.8zM577.9 663.7h1.8v1.8h-1.8zM571.5 657.8h1.8v1.8h-1.8zM593.2 678.6h1.8v1.8h-1.8zM588.6 674.7h1.8v1.8h-1.8zM586.4 671.8h1.8v1.8h-1.8zM590.4 675.6h1.8v1.8h-1.8zM586.2 672.3h1.8v1.8h-1.8zM590.1 677.4h1.8v1.8h-1.8zM598.1 587.2h1.8v1.8h-1.8zM604.6 592.1h1.8v1.8h-1.8zM599.1 585h1.8v1.8h-1.8zM606.8 593h1.8v1.8h-1.8zM602.3 588.3h1.8v1.8h-1.8zM611.5 598.5h1.8v1.8h-1.8zM617.2 605.6h1.8v1.8h-1.8zM610.9 598.6h1.8v1.8h-1.8zM617.2 608.6h1.8v1.8h-1.8zM612.7 599.5h1.8v1.8h-1.8zM626.8 521.8h1.8v1.8h-1.8zM628.1 521.5h1.8v1.8h-1.8zM636.5 528.7h1.8v1.8h-1.8zM633.8 524.2h1.8v1.8h-1.8zM633.5 525.5h1.8v1.8h-1.8zM641.5 535.8h1.8v1.8h-1.8zM648.5 541.7h1.8v1.8h-1.8zM648.1 540.1h1.8v1.8h-1.8zM636.8 530.3h1.8v1.8h-1.8zM654.9 548h1.8v1.8h-1.8zM650.1 545.2h1.8v1.8h-1.8zM634.9 527.7h1.8v1.8h-1.8zM674.2 569h1.8v1.8h-1.8zM674.8 571.9h1.8v1.8h-1.8zM667.8 561.1h1.8v1.8h-1.8zM661.2 558.8h1.8v1.8h-1.8zM667.1 560.7h1.8v1.8h-1.8zM676 574.5h1.8v1.8h-1.8zM681.1 577h1.8v1.8h-1.8zM688.3 463.2h1.8v1.8h-1.8zM691.2 460h1.8v1.8h-1.8zM689.7 459.6h1.8v1.8h-1.8zM692.1 458.2h1.8v1.8h-1.8zM702 445.9h1.8v1.8h-1.8zM702.7 445.3h1.8v1.8h-1.8zM707 441.3h1.8v1.8h-1.8zM706.1 441.1h1.8v1.8h-1.8zM749.9 479.4h1.8v1.8h-1.8zM754.4 483.7h1.8v1.8h-1.8zM756.5 484.2h1.8v1.8h-1.8zM744.6 474.4h1.8v1.8h-1.8zM735.6 462.8h1.8v1.8h-1.8zM756.6 488.3h1.8v1.8h-1.8zM746 473.3h1.8v1.8h-1.8zM739 468h1.8v1.8h-1.8zM712 512.9h1.8v1.8h-1.8zM718.9 510.5h1.8v1.8h-1.8zM719.7 509.4h1.8v1.8h-1.8zM718.2 507.2h1.8v1.8h-1.8zM733.8 492.8h1.8v1.8h-1.8zM731.4 496.1h1.8v1.8h-1.8zM734.3 489.2h1.8v1.8h-1.8zM733.4 491h1.8v1.8h-1.8zM454.6 744.1h1.8v1.8h-1.8zM447.2 746.7h1.8v1.8h-1.8zM458 742.7h1.8v1.8h-1.8zM463.7 748.9h1.8v1.8h-1.8zM462.6 746.1h1.8v1.8h-1.8zM453.7 745.6h1.8v1.8h-1.8zM453.5 749.3h1.8v1.8h-1.8zM463.6 748.8h1.8v1.8h-1.8zM456.2 745.9h1.8v1.8h-1.8zM459.3 744.3h1.8v1.8h-1.8zM450 749.5h1.8v1.8h-1.8zM451.6 744.1h1.8v1.8h-1.8zM455.7 742.8h1.8v1.8h-1.8zM456.3 743.3h1.8v1.8h-1.8zM461.9 742.7h1.8v1.8h-1.8zM461.4 744.1h1.8v1.8h-1.8zM461.2 748.1h1.8v1.8h-1.8zM464.3 743.4h1.8v1.8h-1.8zM464.8 743.2h1.8v1.8h-1.8zM453.1 742.2h1.8v1.8h-1.8zM455.7 742.7h1.8v1.8h-1.8zM456.9 749.1h1.8v1.8h-1.8zM461.1 747h1.8v1.8h-1.8zM448.3 749.5h1.8v1.8h-1.8zM453.3 749.2h1.8v1.8h-1.8zM449.3 744.3h1.8v1.8h-1.8zM464.1 747.7h1.8v1.8h-1.8zM450 745.5h1.8v1.8h-1.8zM456.6 744h1.8v1.8h-1.8zM450.6 742.7h1.8v1.8h-1.8zM456 745.2h1.8v1.8h-1.8zM453.1 745.7h1.8v1.8h-1.8zM453 745h1.8v1.8h-1.8zM460.7 743.2h1.8v1.8h-1.8zM448.4 745.5h1.8v1.8h-1.8zM452 439.3h1.8v1.8h-1.8zM454.9 441.8h1.8v1.8h-1.8zM457.8 438.3h1.8v1.8h-1.8zM505.8 438.7h1.8v1.8h-1.8zM505.8 440.3h1.8v1.8h-1.8zM499.2 442.4h1.8v1.8h-1.8zM515.8 438.7h1.8v1.8h-1.8zM525.8 442.4h1.8v1.8h-1.8zM451.4 448.2h1.8v1.8h-1.8zM451.4 452.4h1.8v1.8h-1.8zM451.4 457h1.8v1.8h-1.8zM555.7 460.7h1.8v1.8h-1.8zM447.2 468.4h1.8v1.8h-1.8zM464.5 472.5h1.8v1.8h-1.8zM449.3 479.4h1.8v1.8h-1.8zM517.2 479.4h1.8v1.8h-1.8zM499.2 486.7h1.8v1.8h-1.8zM528.7 472.1h1.8v1.8h-1.8zM531 478.8h1.8v1.8h-1.8zM537.6 483.6h1.8v1.8h-1.8zM575.4 476.1h1.8v1.8h-1.8zM446.2 490.2h1.8v1.8h-1.8zM450.3 494.4h1.8v1.8h-1.8zM454.5 493.7h1.8v1.8h-1.8zM464.9 495h1.8v1.8h-1.8zM505.8 495.4h1.8v1.8h-1.8zM528 495.4h1.8v1.8h-1.8zM458.2 501.6h1.8v1.8h-1.8zM469.5 504.1h1.8v1.8h-1.8zM446.2 499.6h1.8v1.8h-1.8zM446.6 508.9h1.8v1.8h-1.8zM459.7 511h1.8v1.8h-1.8zM447.2 513.7h1.8v1.8h-1.8zM501.9 511h1.8v1.8h-1.8zM506.9 508.3h1.8v1.8h-1.8zM458.6 516.2h1.8v1.8h-1.8zM462.4 516.8h1.8v1.8h-1.8zM534.1 508.3h1.8v1.8h-1.8zM579.8 504.1h1.8v1.8h-1.8zM587.5 503.3h1.8v1.8h-1.8zM597.9 504.1h1.8v1.8h-1.8zM452 523.9h1.8v1.8h-1.8zM544.9 521h1.8v1.8h-1.8zM499.2 529.9h1.8v1.8h-1.8zM517.2 533.8h1.8v1.8h-1.8zM505.4 535.5h1.8v1.8h-1.8zM545.9 535.1h1.8v1.8h-1.8zM494 540.9h1.8v1.8h-1.8zM503.7 542.2h1.8v1.8h-1.8zM450.3 541.7h1.8v1.8h-1.8zM449.5 543.8h1.8v1.8h-1.8zM522 546.9h1.8v1.8h-1.8zM526.8 549.6h1.8v1.8h-1.8zM465.9 552.7h1.8v1.8h-1.8zM492.3 552.1h1.8v1.8h-1.8zM476.9 559.4h1.8v1.8h-1.8zM506.4 558.2h1.8v1.8h-1.8zM449.3 565h1.8v1.8h-1.8zM457 561.9h1.8v1.8h-1.8zM457 564.6h1.8v1.8h-1.8zM446.6 566h1.8v1.8h-1.8zM451.4 570.6h1.8v1.8h-1.8zM517.2 566.7h1.8v1.8h-1.8zM516.8 569.2h1.8v1.8h-1.8zM545.9 560.2h1.8v1.8h-1.8zM543.4 563.8h1.8v1.8h-1.8zM543.8 566h1.8v1.8h-1.8zM555.5 565h1.8v1.8h-1.8zM570.9 568.7h1.8v1.8h-1.8zM451 576.9h1.8v1.8h-1.8zM499.2 577.5h1.8v1.8h-1.8zM500.2 577.1h1.8v1.8h-1.8zM548 577.9h1.8v1.8h-1.8zM453 583.7h1.8v1.8h-1.8zM503.7 581.2h1.8v1.8h-1.8zM537 581.2h1.8v1.8h-1.8zM555.3 580.8h1.8v1.8h-1.8zM526.8 593.3h1.8v1.8h-1.8zM618.8 438h1.8v1.8h-1.8zM638.3 439.9h1.8v1.8h-1.8zM614.7 446.3h1.8v1.8h-1.8zM672.4 457h1.8v1.8h-1.8zM705.8 446.5h1.8v1.8h-1.8zM704.1 462h1.8v1.8h-1.8zM644.1 478.5h1.8v1.8h-1.8zM693.8 480.8h1.8v1.8h-1.8zM747 466.9h1.8v1.8h-1.8zM705.6 492h1.8v1.8h-1.8zM705.8 505.9h1.8v1.8h-1.8zM664 517.7h1.8v1.8h-1.8zM698.7 525.8h1.8v1.8h-1.8zM694 529h1.8v1.8h-1.8zM667.7 536.3h1.8v1.8h-1.8zM675.2 535.5h1.8v1.8h-1.8zM706.2 534.2h1.8v1.8h-1.8zM754.9 531h1.8v1.8h-1.8zM734.1 545.1h1.8v1.8h-1.8zM622.7 560.5h1.8v1.8h-1.8zM619 568h1.8v1.8h-1.8zM643.5 563.7h1.8v1.8h-1.8zM693.4 560.5h1.8v1.8h-1.8zM703 569.5h1.8v1.8h-1.8zM705.6 574.5h1.8v1.8h-1.8zM710.1 573.4h1.8v1.8h-1.8zM660.2 577h1.8v1.8h-1.8zM656.5 583.7h1.8v1.8h-1.8zM684.4 588.8h1.8v1.8h-1.8zM705.8 589.9h1.8v1.8h-1.8zM683.7 551.5h1.8v1.8h-1.8zM526.1 593h1.8v1.8h-1.8zM500.2 601.3h1.8v1.8h-1.8zM502.4 605.8h1.8v1.8h-1.8zM450.1 614.4h1.8v1.8h-1.8zM449.5 617.4h1.8v1.8h-1.8zM446.7 621.2h1.8v1.8h-1.8zM446.9 637.9h1.8v1.8h-1.8zM464.4 639.9h1.8v1.8h-1.8zM480.1 640.9h1.8v1.8h-1.8zM505.8 639.2h1.8v1.8h-1.8zM509.4 636.2h1.8v1.8h-1.8zM502.4 646.9h1.8v1.8h-1.8zM506.2 651.2h1.8v1.8h-1.8zM506.2 658.1h1.8v1.8h-1.8zM464.4 662.6h1.8v1.8h-1.8zM471.9 660.4h1.8v1.8h-1.8zM506.9 671.8h1.8v1.8h-1.8zM473 672h1.8v1.8h-1.8zM450.5 677.3h1.8v1.8h-1.8zM514.1 680.8h1.8v1.8h-1.8zM520.8 681.6h1.8v1.8h-1.8zM449.5 688.1h1.8v1.8h-1.8zM448.8 695.1h1.8v1.8h-1.8zM452.7 694.5h1.8v1.8h-1.8zM460.2 695.6h1.8v1.8h-1.8zM460.8 696.8h1.8v1.8h-1.8zM465.9 691.5h1.8v1.8h-1.8zM465.9 697.3h1.8v1.8h-1.8zM469.2 700.1h1.8v1.8h-1.8zM476.7 697.7h1.8v1.8h-1.8zM449.5 705.8h1.8v1.8h-1.8zM449.7 708h1.8v1.8h-1.8zM459.7 708h1.8v1.8h-1.8zM465.5 704.8h1.8v1.8h-1.8zM473 712.3h1.8v1.8h-1.8zM492.3 694.1h1.8v1.8h-1.8zM501.9 691.5h1.8v1.8h-1.8zM500.9 702h1.8v1.8h-1.8zM503 704.1h1.8v1.8h-1.8zM495.5 709h1.8v1.8h-1.8zM514.8 715.5h1.8v1.8h-1.8zM518 717.2h1.8v1.8h-1.8zM520.6 717.2h1.8v1.8h-1.8zM446.2 724h1.8v1.8h-1.8zM454.4 723.6h1.8v1.8h-1.8zM461.9 719.1h1.8v1.8h-1.8zM459.1 728.3h1.8v1.8h-1.8zM453.7 730.5h1.8v1.8h-1.8zM465.5 729.8h1.8v1.8h-1.8zM506.6 724h1.8v1.8h-1.8zM498.7 723.4h1.8v1.8h-1.8zM519.5 736.9h1.8v1.8h-1.8zM472.4 743.7h1.8v1.8h-1.8zM505.1 746.1h1.8v1.8h-1.8zM514.8 746.5h1.8v1.8h-1.8zM526.6 747.6h1.8v1.8h-1.8zM530.8 631.9h1.8v1.8h-1.8zM538.3 645.9h1.8v1.8h-1.8zM544.1 652.3h1.8v1.8h-1.8zM530.8 672.6h1.8v1.8h-1.8zM540.1 676.5h1.8v1.8h-1.8zM551.2 678h1.8v1.8h-1.8zM543.1 690.8h1.8v1.8h-1.8zM543.7 693h1.8v1.8h-1.8zM552.7 707.3h1.8v1.8h-1.8zM549.1 711.2h1.8v1.8h-1.8zM536.6 739h1.8v1.8h-1.8zM542.6 731.5h1.8v1.8h-1.8zM539.4 744.8h1.8v1.8h-1.8zM542.6 746.5h1.8v1.8h-1.8zM581.2 606.7h1.8v1.8h-1.8zM588 643.3h1.8v1.8h-1.8zM594 652.3h1.8v1.8h-1.8zM567.3 705.8h1.8v1.8h-1.8zM579 685.5h1.8v1.8h-1.8zM579 694.5h1.8v1.8h-1.8zM562.5 711.6h1.8v1.8h-1.8zM591.5 696.8h1.8v1.8h-1.8zM600 697.7h1.8v1.8h-1.8zM601.5 715.5h1.8v1.8h-1.8zM568.3 728.3h1.8v1.8h-1.8zM601.5 628.7h1.8v1.8h-1.8zM593.6 672.6h1.8v1.8h-1.8zM586.5 674.8h1.8v1.8h-1.8zM564 749.3h1.8v1.8h-1.8zM604.9 602.6h1.8v1.8h-1.8zM625.9 604.1h1.8v1.8h-1.8zM652.2 600.2h1.8v1.8h-1.8zM698.3 602.6h1.8v1.8h-1.8zM754.9 601.3h1.8v1.8h-1.8zM603.4 615.2h1.8v1.8h-1.8zM601.2 628.3h1.8v1.8h-1.8zM614.1 638h1.8v1.8h-1.8zM658 627.2h1.8v1.8h-1.8zM659.7 632h1.8v1.8h-1.8zM668.1 638.4h1.8v1.8h-1.8zM693 627h1.8v1.8h-1.8zM722.7 619.5h1.8v1.8h-1.8zM725.1 617h1.8v1.8h-1.8zM726 628.3h1.8v1.8h-1.8zM659.5 660.9h1.8v1.8h-1.8zM629.1 674.8h1.8v1.8h-1.8zM721.2 664.1h1.8v1.8h-1.8zM739.5 679.5h1.8v1.8h-1.8zM608.1 683.4h1.8v1.8h-1.8zM622.7 681.9h1.8v1.8h-1.8zM600.2 697.7h1.8v1.8h-1.8zM601.2 715.1h1.8v1.8h-1.8zM614.1 711.7h1.8v1.8h-1.8zM618.8 707.4h1.8v1.8h-1.8zM631.9 713.8h1.8v1.8h-1.8zM635.1 711.9h1.8v1.8h-1.8zM637 718.1h1.8v1.8h-1.8zM639.4 702h1.8v1.8h-1.8zM643 700.1h1.8v1.8h-1.8zM645.2 697.7h1.8v1.8h-1.8zM652.2 710.8h1.8v1.8h-1.8zM651.2 717.7h1.8v1.8h-1.8zM664.5 699h1.8v1.8h-1.8zM668.1 696.2h1.8v1.8h-1.8zM691.7 695h1.8v1.8h-1.8zM704.1 693h1.8v1.8h-1.8zM706.7 715.5h1.8v1.8h-1.8zM728.3 695h1.8v1.8h-1.8zM725.5 701.2h1.8v1.8h-1.8zM727 715.1h1.8v1.8h-1.8zM754.9 713h1.8v1.8h-1.8zM753.4 728h1.8v1.8h-1.8zM722.3 733.1h1.8v1.8h-1.8zM611.5 732.2h1.8v1.8h-1.8zM611.5 740.6h1.8v1.8h-1.8zM637.7 747.2h1.8v1.8h-1.8zM648 750.5h1.8v1.8h-1.8zM652.7 746.6h1.8v1.8h-1.8zM655.2 741.2h1.8v1.8h-1.8zM657.4 739.1h1.8v1.8h-1.8zM655.9 747.7h1.8v1.8h-1.8zM683.7 744h1.8v1.8h-1.8zM706.2 747.7h1.8v1.8h-1.8zM716.3 749.4h1.8v1.8h-1.8zM746.3 746.6h1.8v1.8h-1.8zM735.2 749.4h1.8v1.8h-1.8z"/>
<text x="-1.1" y="13.7" font-size="19" fill="#000">(<tspan font-weight="bold">a</tspan>)</text>
<text x="392" y="13.6" font-size="19" fill="#000">(<tspan font-weight="bold">b</tspan>)</text>
<text x="-1.1" y="405" font-size="19" fill="#000">(<tspan font-weight="bold">c</tspan>)</text>
<text x="392" y="405.2" font-size="19" fill="#000">(<tspan font-weight="bold">d</tspan>)</text>
<text x="137.8" y="21.6" font-size="18.9" fill="#111"><tspan font-style="italic">S. miscanthi</tspan><tspan font-style="normal"> v1</tspan></text>
<text x="522.8" y="21.0" font-size="18.9" fill="#111"><tspan font-style="italic">S. miscanthi</tspan><tspan font-style="normal"> v2</tspan></text>
<text x="137.5" y="411.6" font-size="18.9" fill="#111"><tspan font-style="italic">S. avenae</tspan><tspan font-style="normal"> v2.1</tspan></text>
<text x="522.6" y="411.8" font-size="18.9" fill="#111"><tspan font-style="italic">S. miscanthi</tspan><tspan font-style="normal"> v2</tspan></text>
<text x="415.5" y="660" font-size="18.9" fill="#111" transform="rotate(-90 415.5 660)"><tspan font-style="italic">S. avenae</tspan><tspan font-style="normal"> v2.1</tspan></text>
</svg>
</body></html>
